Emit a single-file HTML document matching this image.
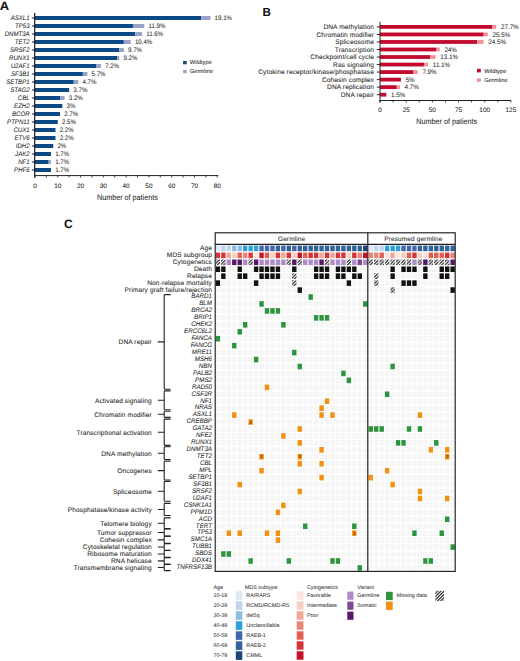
<!DOCTYPE html>
<html><head><meta charset="utf-8"><style>
html,body{margin:0;padding:0;background:#fff;width:520px;height:661px;overflow:hidden}
svg{display:block}
text{text-rendering:geometricPrecision;font-family:"Liberation Sans", sans-serif;fill:#262626;stroke:#262626;stroke-width:0.06px}
</style></head><body>
<svg width="520" height="661" viewBox="0 0 520 661">
<defs>
<pattern id="hatch" patternUnits="userSpaceOnUse" width="2.3" height="2.3" patternTransform="rotate(45)">
<rect width="2.3" height="2.3" fill="#fff"/><rect width="1.25" height="2.3" fill="#333"/></pattern>
</defs>
<text transform="translate(-0.20,9.80) scale(1.1,1)" font-size="11.8" text-anchor="start" font-weight="bold" style="fill:#111;stroke:#111">A</text>
<rect x="35.00" y="16.00" width="166.29" height="4.00" fill="#0c4a86"/>
<rect x="201.29" y="16.00" width="9.11" height="4.00" fill="#9aa2c8"/>
<text transform="translate(29.60,20.10) scale(0.92,1)" font-size="6.6" text-anchor="end" font-style="italic">ASXL1</text>
<text transform="translate(214.61,20.20) scale(0.93,1)" font-size="6.6" text-anchor="start">19.1%</text>
<line x1="31.90" y1="18.00" x2="34.70" y2="18.00" stroke="#111" stroke-width="1.0"/>
<rect x="35.00" y="24.00" width="97.95" height="4.00" fill="#0c4a86"/>
<rect x="132.95" y="24.00" width="11.39" height="4.00" fill="#9aa2c8"/>
<text transform="translate(29.60,28.10) scale(0.92,1)" font-size="6.6" text-anchor="end" font-style="italic">TP53</text>
<text transform="translate(148.54,28.20) scale(0.93,1)" font-size="6.6" text-anchor="start">11.9%</text>
<line x1="31.90" y1="26.00" x2="34.70" y2="26.00" stroke="#111" stroke-width="1.0"/>
<rect x="35.00" y="32.00" width="100.23" height="4.00" fill="#0c4a86"/>
<rect x="135.23" y="32.00" width="6.83" height="4.00" fill="#9aa2c8"/>
<text transform="translate(29.60,36.10) scale(0.92,1)" font-size="6.6" text-anchor="end" font-style="italic">DNMT3A</text>
<text transform="translate(146.27,36.20) scale(0.93,1)" font-size="6.6" text-anchor="start">11.6%</text>
<line x1="31.90" y1="34.00" x2="34.70" y2="34.00" stroke="#111" stroke-width="1.0"/>
<rect x="35.00" y="40.00" width="88.84" height="4.00" fill="#0c4a86"/>
<rect x="123.84" y="40.00" width="6.83" height="4.00" fill="#9aa2c8"/>
<text transform="translate(29.60,44.10) scale(0.92,1)" font-size="6.6" text-anchor="end" font-style="italic">TET2</text>
<text transform="translate(134.88,44.20) scale(0.93,1)" font-size="6.6" text-anchor="start">10.4%</text>
<line x1="31.90" y1="42.00" x2="34.70" y2="42.00" stroke="#111" stroke-width="1.0"/>
<rect x="35.00" y="48.00" width="84.29" height="4.00" fill="#0c4a86"/>
<rect x="119.29" y="48.00" width="4.56" height="4.00" fill="#9aa2c8"/>
<text transform="translate(29.60,52.10) scale(0.92,1)" font-size="6.6" text-anchor="end" font-style="italic">SRSF2</text>
<text transform="translate(128.04,52.20) scale(0.93,1)" font-size="6.6" text-anchor="start">9.7%</text>
<line x1="31.90" y1="50.00" x2="34.70" y2="50.00" stroke="#111" stroke-width="1.0"/>
<rect x="35.00" y="56.00" width="82.01" height="4.00" fill="#0c4a86"/>
<rect x="117.01" y="56.00" width="2.28" height="4.00" fill="#9aa2c8"/>
<text transform="translate(29.60,60.10) scale(0.92,1)" font-size="6.6" text-anchor="end" font-style="italic">RUNX1</text>
<text transform="translate(123.49,60.20) scale(0.93,1)" font-size="6.6" text-anchor="start">9.2%</text>
<line x1="31.90" y1="58.00" x2="34.70" y2="58.00" stroke="#111" stroke-width="1.0"/>
<rect x="35.00" y="64.00" width="61.51" height="4.00" fill="#0c4a86"/>
<rect x="96.51" y="64.00" width="4.56" height="4.00" fill="#9aa2c8"/>
<text transform="translate(29.60,68.10) scale(0.92,1)" font-size="6.6" text-anchor="end" font-style="italic">U2AF1</text>
<text transform="translate(105.26,68.20) scale(0.93,1)" font-size="6.6" text-anchor="start">7.2%</text>
<line x1="31.90" y1="66.00" x2="34.70" y2="66.00" stroke="#111" stroke-width="1.0"/>
<rect x="35.00" y="72.00" width="47.84" height="4.00" fill="#0c4a86"/>
<rect x="82.84" y="72.00" width="4.56" height="4.00" fill="#9aa2c8"/>
<text transform="translate(29.60,76.10) scale(0.92,1)" font-size="6.6" text-anchor="end" font-style="italic">SF3B1</text>
<text transform="translate(91.59,76.20) scale(0.93,1)" font-size="6.6" text-anchor="start">5.7%</text>
<line x1="31.90" y1="74.00" x2="34.70" y2="74.00" stroke="#111" stroke-width="1.0"/>
<rect x="35.00" y="80.00" width="38.73" height="4.00" fill="#0c4a86"/>
<rect x="73.73" y="80.00" width="4.56" height="4.00" fill="#9aa2c8"/>
<text transform="translate(29.60,84.10) scale(0.92,1)" font-size="6.6" text-anchor="end" font-style="italic">SETBP1</text>
<text transform="translate(82.48,84.20) scale(0.93,1)" font-size="6.6" text-anchor="start">4.7%</text>
<line x1="31.90" y1="82.00" x2="34.70" y2="82.00" stroke="#111" stroke-width="1.0"/>
<rect x="35.00" y="88.00" width="34.17" height="4.00" fill="#0c4a86"/>
<text transform="translate(29.60,92.10) scale(0.92,1)" font-size="6.6" text-anchor="end" font-style="italic">STAG2</text>
<text transform="translate(73.37,92.20) scale(0.93,1)" font-size="6.6" text-anchor="start">3.7%</text>
<line x1="31.90" y1="90.00" x2="34.70" y2="90.00" stroke="#111" stroke-width="1.0"/>
<rect x="35.00" y="96.00" width="25.06" height="4.00" fill="#0c4a86"/>
<rect x="60.06" y="96.00" width="4.56" height="4.00" fill="#9aa2c8"/>
<text transform="translate(29.60,100.10) scale(0.92,1)" font-size="6.6" text-anchor="end" font-style="italic">CBL</text>
<text transform="translate(68.81,100.20) scale(0.93,1)" font-size="6.6" text-anchor="start">3.2%</text>
<line x1="31.90" y1="98.00" x2="34.70" y2="98.00" stroke="#111" stroke-width="1.0"/>
<rect x="35.00" y="104.00" width="27.34" height="4.00" fill="#0c4a86"/>
<text transform="translate(29.60,108.10) scale(0.92,1)" font-size="6.6" text-anchor="end" font-style="italic">EZH2</text>
<text transform="translate(66.54,108.20) scale(0.93,1)" font-size="6.6" text-anchor="start">3%</text>
<line x1="31.90" y1="106.00" x2="34.70" y2="106.00" stroke="#111" stroke-width="1.0"/>
<rect x="35.00" y="112.00" width="25.06" height="4.00" fill="#0c4a86"/>
<text transform="translate(29.60,116.10) scale(0.92,1)" font-size="6.6" text-anchor="end" font-style="italic">BCOR</text>
<text transform="translate(64.26,116.20) scale(0.93,1)" font-size="6.6" text-anchor="start">2.7%</text>
<line x1="31.90" y1="114.00" x2="34.70" y2="114.00" stroke="#111" stroke-width="1.0"/>
<rect x="35.00" y="120.00" width="22.78" height="4.00" fill="#0c4a86"/>
<text transform="translate(29.60,124.10) scale(0.92,1)" font-size="6.6" text-anchor="end" font-style="italic">PTPN11</text>
<text transform="translate(61.98,124.20) scale(0.93,1)" font-size="6.6" text-anchor="start">2.5%</text>
<line x1="31.90" y1="122.00" x2="34.70" y2="122.00" stroke="#111" stroke-width="1.0"/>
<rect x="35.00" y="128.00" width="20.50" height="4.00" fill="#0c4a86"/>
<text transform="translate(29.60,132.10) scale(0.92,1)" font-size="6.6" text-anchor="end" font-style="italic">CUX1</text>
<text transform="translate(59.70,132.20) scale(0.93,1)" font-size="6.6" text-anchor="start">2.2%</text>
<line x1="31.90" y1="130.00" x2="34.70" y2="130.00" stroke="#111" stroke-width="1.0"/>
<rect x="35.00" y="136.00" width="20.50" height="4.00" fill="#0c4a86"/>
<text transform="translate(29.60,140.10) scale(0.92,1)" font-size="6.6" text-anchor="end" font-style="italic">ETV6</text>
<text transform="translate(59.70,140.20) scale(0.93,1)" font-size="6.6" text-anchor="start">2.2%</text>
<line x1="31.90" y1="138.00" x2="34.70" y2="138.00" stroke="#111" stroke-width="1.0"/>
<rect x="35.00" y="144.00" width="18.22" height="4.00" fill="#0c4a86"/>
<text transform="translate(29.60,148.10) scale(0.92,1)" font-size="6.6" text-anchor="end" font-style="italic">IDH2</text>
<text transform="translate(57.42,148.20) scale(0.93,1)" font-size="6.6" text-anchor="start">2%</text>
<line x1="31.90" y1="146.00" x2="34.70" y2="146.00" stroke="#111" stroke-width="1.0"/>
<rect x="35.00" y="152.00" width="15.95" height="4.00" fill="#0c4a86"/>
<text transform="translate(29.60,156.10) scale(0.92,1)" font-size="6.6" text-anchor="end" font-style="italic">JAK2</text>
<text transform="translate(55.15,156.20) scale(0.93,1)" font-size="6.6" text-anchor="start">1.7%</text>
<line x1="31.90" y1="154.00" x2="34.70" y2="154.00" stroke="#111" stroke-width="1.0"/>
<rect x="35.00" y="160.00" width="13.67" height="4.00" fill="#0c4a86"/>
<rect x="48.67" y="160.00" width="2.28" height="4.00" fill="#9aa2c8"/>
<text transform="translate(29.60,164.10) scale(0.92,1)" font-size="6.6" text-anchor="end" font-style="italic">NF1</text>
<text transform="translate(55.15,164.20) scale(0.93,1)" font-size="6.6" text-anchor="start">1.7%</text>
<line x1="31.90" y1="162.00" x2="34.70" y2="162.00" stroke="#111" stroke-width="1.0"/>
<rect x="35.00" y="168.00" width="15.95" height="4.00" fill="#0c4a86"/>
<text transform="translate(29.60,172.10) scale(0.92,1)" font-size="6.6" text-anchor="end" font-style="italic">PHF6</text>
<text transform="translate(55.15,172.20) scale(0.93,1)" font-size="6.6" text-anchor="start">1.7%</text>
<line x1="31.90" y1="170.00" x2="34.70" y2="170.00" stroke="#111" stroke-width="1.0"/>
<line x1="34.70" y1="12.90" x2="34.70" y2="177.80" stroke="#1a1a1a" stroke-width="1.2"/>
<line x1="34.50" y1="175.60" x2="218.30" y2="175.60" stroke="#222" stroke-width="1"/>
<line x1="35.00" y1="175.60" x2="35.00" y2="177.60" stroke="#222" stroke-width="0.8"/>
<text x="35.00" y="187.60" font-size="6.4" text-anchor="middle">0</text>
<line x1="46.39" y1="175.60" x2="46.39" y2="177.60" stroke="#222" stroke-width="0.8"/>
<line x1="57.78" y1="175.60" x2="57.78" y2="177.60" stroke="#222" stroke-width="0.8"/>
<text x="57.78" y="187.60" font-size="6.4" text-anchor="middle">10</text>
<line x1="69.17" y1="175.60" x2="69.17" y2="177.60" stroke="#222" stroke-width="0.8"/>
<line x1="80.56" y1="175.60" x2="80.56" y2="177.60" stroke="#222" stroke-width="0.8"/>
<text x="80.56" y="187.60" font-size="6.4" text-anchor="middle">20</text>
<line x1="91.95" y1="175.60" x2="91.95" y2="177.60" stroke="#222" stroke-width="0.8"/>
<line x1="103.34" y1="175.60" x2="103.34" y2="177.60" stroke="#222" stroke-width="0.8"/>
<text x="103.34" y="187.60" font-size="6.4" text-anchor="middle">30</text>
<line x1="114.73" y1="175.60" x2="114.73" y2="177.60" stroke="#222" stroke-width="0.8"/>
<line x1="126.12" y1="175.60" x2="126.12" y2="177.60" stroke="#222" stroke-width="0.8"/>
<text x="126.12" y="187.60" font-size="6.4" text-anchor="middle">40</text>
<line x1="137.51" y1="175.60" x2="137.51" y2="177.60" stroke="#222" stroke-width="0.8"/>
<line x1="148.90" y1="175.60" x2="148.90" y2="177.60" stroke="#222" stroke-width="0.8"/>
<text x="148.90" y="187.60" font-size="6.4" text-anchor="middle">50</text>
<line x1="160.29" y1="175.60" x2="160.29" y2="177.60" stroke="#222" stroke-width="0.8"/>
<line x1="171.68" y1="175.60" x2="171.68" y2="177.60" stroke="#222" stroke-width="0.8"/>
<text x="171.68" y="187.60" font-size="6.4" text-anchor="middle">60</text>
<line x1="183.07" y1="175.60" x2="183.07" y2="177.60" stroke="#222" stroke-width="0.8"/>
<line x1="194.46" y1="175.60" x2="194.46" y2="177.60" stroke="#222" stroke-width="0.8"/>
<text x="194.46" y="187.60" font-size="6.4" text-anchor="middle">70</text>
<line x1="205.85" y1="175.60" x2="205.85" y2="177.60" stroke="#222" stroke-width="0.8"/>
<line x1="217.24" y1="175.60" x2="217.24" y2="177.60" stroke="#222" stroke-width="0.8"/>
<text x="217.24" y="187.60" font-size="6.4" text-anchor="middle">80</text>
<text transform="translate(127.4,200.0) scale(0.9,1)" font-size="8" text-anchor="middle">Number of patients</text>
<rect x="183.10" y="61.00" width="3.60" height="3.30" fill="#0c4a86"/>
<rect x="183.10" y="69.90" width="3.60" height="3.30" fill="#9aa2c8"/>
<text x="189.70" y="64.40" font-size="5.8" text-anchor="start">Wildtype</text>
<text x="189.70" y="73.30" font-size="5.8" text-anchor="start">Germline</text>
<text x="262.40" y="15.70" font-size="11.6" text-anchor="start" font-weight="bold" style="fill:#111;stroke:#111">B</text>
<rect x="380.00" y="25.00" width="112.03" height="3.80" fill="#c20a2c"/>
<rect x="492.03" y="25.00" width="4.19" height="3.80" fill="#f0929c"/>
<text x="374.00" y="29.20" font-size="6.6" text-anchor="end" letter-spacing="0.1">DNA methylation</text>
<text transform="translate(500.92,29.10) scale(0.95,1)" font-size="6.6" text-anchor="start">27.7%</text>
<line x1="376.80" y1="26.90" x2="380.00" y2="26.90" stroke="#111" stroke-width="0.9"/>
<rect x="380.00" y="32.53" width="103.65" height="3.80" fill="#c20a2c"/>
<rect x="483.65" y="32.53" width="4.19" height="3.80" fill="#f0929c"/>
<text x="374.00" y="36.73" font-size="6.6" text-anchor="end" letter-spacing="0.1">Chromatin modifier</text>
<text transform="translate(492.54,36.63) scale(0.95,1)" font-size="6.6" text-anchor="start">25.5%</text>
<line x1="376.80" y1="34.43" x2="380.00" y2="34.43" stroke="#111" stroke-width="0.9"/>
<rect x="380.00" y="40.06" width="97.37" height="3.80" fill="#c20a2c"/>
<rect x="477.37" y="40.06" width="6.28" height="3.80" fill="#f0929c"/>
<text x="374.00" y="44.26" font-size="6.6" text-anchor="end" letter-spacing="0.1">Spliceosome</text>
<text transform="translate(488.35,44.16) scale(0.95,1)" font-size="6.6" text-anchor="start">24.5%</text>
<line x1="376.80" y1="41.96" x2="380.00" y2="41.96" stroke="#111" stroke-width="0.9"/>
<rect x="380.00" y="47.59" width="56.54" height="3.80" fill="#c20a2c"/>
<rect x="436.54" y="47.59" width="3.14" height="3.80" fill="#f0929c"/>
<text x="374.00" y="51.79" font-size="6.6" text-anchor="end" letter-spacing="0.1">Transcription</text>
<text transform="translate(444.38,51.69) scale(0.95,1)" font-size="6.6" text-anchor="start">24%</text>
<line x1="376.80" y1="49.49" x2="380.00" y2="49.49" stroke="#111" stroke-width="0.9"/>
<rect x="380.00" y="55.12" width="50.26" height="3.80" fill="#c20a2c"/>
<rect x="430.26" y="55.12" width="5.23" height="3.80" fill="#f0929c"/>
<text x="374.00" y="59.32" font-size="6.6" text-anchor="end" letter-spacing="0.1">Checkpoint/cell cycle</text>
<text transform="translate(440.19,59.22) scale(0.95,1)" font-size="6.6" text-anchor="start">13.1%</text>
<line x1="376.80" y1="57.02" x2="380.00" y2="57.02" stroke="#111" stroke-width="0.9"/>
<rect x="380.00" y="62.65" width="43.97" height="3.80" fill="#c20a2c"/>
<rect x="423.97" y="62.65" width="4.19" height="3.80" fill="#f0929c"/>
<text x="374.00" y="66.85" font-size="6.6" text-anchor="end" letter-spacing="0.1">Ras signaling</text>
<text transform="translate(432.86,66.75) scale(0.95,1)" font-size="6.6" text-anchor="start">11.1%</text>
<line x1="376.80" y1="64.55" x2="380.00" y2="64.55" stroke="#111" stroke-width="0.9"/>
<rect x="380.00" y="70.18" width="33.50" height="3.80" fill="#c20a2c"/>
<rect x="413.50" y="70.18" width="4.19" height="3.80" fill="#f0929c"/>
<text x="374.00" y="74.38" font-size="6.6" text-anchor="end" letter-spacing="0.1">Cytokine receptor/kinase/phosphatase</text>
<text transform="translate(422.39,74.28) scale(0.95,1)" font-size="6.6" text-anchor="start">7.9%</text>
<line x1="376.80" y1="72.08" x2="380.00" y2="72.08" stroke="#111" stroke-width="0.9"/>
<rect x="380.00" y="77.71" width="20.94" height="3.80" fill="#c20a2c"/>
<text x="374.00" y="81.91" font-size="6.6" text-anchor="end" letter-spacing="0.1">Cohesin complex</text>
<text transform="translate(405.64,81.81) scale(0.95,1)" font-size="6.6" text-anchor="start">5%</text>
<line x1="376.80" y1="79.61" x2="380.00" y2="79.61" stroke="#111" stroke-width="0.9"/>
<rect x="380.00" y="85.24" width="16.75" height="3.80" fill="#c20a2c"/>
<rect x="396.75" y="85.24" width="3.14" height="3.80" fill="#f0929c"/>
<text x="374.00" y="89.44" font-size="6.6" text-anchor="end" letter-spacing="0.1">DNA replication</text>
<text transform="translate(404.59,89.34) scale(0.95,1)" font-size="6.6" text-anchor="start">4.7%</text>
<line x1="376.80" y1="87.14" x2="380.00" y2="87.14" stroke="#111" stroke-width="0.9"/>
<rect x="380.00" y="92.77" width="6.28" height="3.80" fill="#c20a2c"/>
<text x="374.00" y="96.97" font-size="6.6" text-anchor="end" letter-spacing="0.1">DNA repair</text>
<text transform="translate(390.98,96.87) scale(0.95,1)" font-size="6.6" text-anchor="start">1.5%</text>
<line x1="376.80" y1="94.67" x2="380.00" y2="94.67" stroke="#111" stroke-width="0.9"/>
<line x1="380.00" y1="21.90" x2="380.00" y2="102.60" stroke="#222" stroke-width="1"/>
<line x1="379.50" y1="100.50" x2="511.00" y2="100.50" stroke="#222" stroke-width="1"/>
<line x1="380.00" y1="100.50" x2="380.00" y2="102.50" stroke="#222" stroke-width="0.8"/>
<text x="380.00" y="111.60" font-size="6.4" text-anchor="middle">0</text>
<line x1="393.09" y1="100.50" x2="393.09" y2="102.50" stroke="#222" stroke-width="0.8"/>
<line x1="406.18" y1="100.50" x2="406.18" y2="102.50" stroke="#222" stroke-width="0.8"/>
<text x="406.18" y="111.60" font-size="6.4" text-anchor="middle">25</text>
<line x1="419.26" y1="100.50" x2="419.26" y2="102.50" stroke="#222" stroke-width="0.8"/>
<line x1="432.35" y1="100.50" x2="432.35" y2="102.50" stroke="#222" stroke-width="0.8"/>
<text x="432.35" y="111.60" font-size="6.4" text-anchor="middle">50</text>
<line x1="445.44" y1="100.50" x2="445.44" y2="102.50" stroke="#222" stroke-width="0.8"/>
<line x1="458.52" y1="100.50" x2="458.52" y2="102.50" stroke="#222" stroke-width="0.8"/>
<text x="458.52" y="111.60" font-size="6.4" text-anchor="middle">75</text>
<line x1="471.61" y1="100.50" x2="471.61" y2="102.50" stroke="#222" stroke-width="0.8"/>
<line x1="484.70" y1="100.50" x2="484.70" y2="102.50" stroke="#222" stroke-width="0.8"/>
<text x="484.70" y="111.60" font-size="6.4" text-anchor="middle">100</text>
<line x1="497.79" y1="100.50" x2="497.79" y2="102.50" stroke="#222" stroke-width="0.8"/>
<line x1="510.88" y1="100.50" x2="510.88" y2="102.50" stroke="#222" stroke-width="0.8"/>
<text x="510.88" y="111.60" font-size="6.4" text-anchor="middle">125</text>
<text transform="translate(446.7,124.0) scale(0.9,1)" font-size="8" text-anchor="middle">Number of patients</text>
<rect x="477.00" y="68.80" width="3.80" height="3.60" fill="#c20a2c"/>
<rect x="477.00" y="78.30" width="3.80" height="3.60" fill="#f0929c"/>
<text x="484.20" y="72.60" font-size="5.8" text-anchor="start">Wildtype</text>
<text x="484.20" y="81.70" font-size="5.8" text-anchor="start">Germline</text>
<text x="64.10" y="227.50" font-size="12" text-anchor="start" font-weight="bold" style="fill:#111;stroke:#111">C</text>
<text x="291.60" y="241.40" font-size="6.5" text-anchor="middle" letter-spacing="0.1">Germline</text>
<text x="413.40" y="241.40" font-size="6.5" text-anchor="middle" letter-spacing="0.1">Presumed germline</text>
<rect x="215.70" y="245.60" width="4.40" height="5.60" fill="#dde8f5"/>
<rect x="215.70" y="252.55" width="4.40" height="5.60" fill="#d6343a"/>
<rect x="215.70" y="259.49" width="4.40" height="5.60" fill="url(#hatch)"/>
<rect x="215.70" y="266.44" width="4.40" height="5.60" fill="#121212"/>
<rect x="215.70" y="273.38" width="4.40" height="5.60" fill="#f6f6f6"/>
<rect x="215.70" y="280.33" width="4.40" height="5.60" fill="#121212"/>
<rect x="215.70" y="287.28" width="4.40" height="5.60" fill="#f6f6f6"/>
<rect x="221.16" y="245.60" width="4.40" height="5.60" fill="#bdd5ee"/>
<rect x="221.16" y="252.55" width="4.40" height="5.60" fill="#d6343a"/>
<rect x="221.16" y="259.49" width="4.40" height="5.60" fill="url(#hatch)"/>
<rect x="221.16" y="266.44" width="4.40" height="5.60" fill="#121212"/>
<rect x="221.16" y="273.38" width="4.40" height="5.60" fill="#121212"/>
<rect x="221.16" y="280.33" width="4.40" height="5.60" fill="#f6f6f6"/>
<rect x="221.16" y="287.28" width="4.40" height="5.60" fill="#f6f6f6"/>
<rect x="226.61" y="245.60" width="4.40" height="5.60" fill="#bdd5ee"/>
<rect x="226.61" y="252.55" width="4.40" height="5.60" fill="#f2a696"/>
<rect x="226.61" y="259.49" width="4.40" height="5.60" fill="#ad8cc8"/>
<rect x="226.61" y="266.44" width="4.40" height="5.60" fill="#f6f6f6"/>
<rect x="226.61" y="273.38" width="4.40" height="5.60" fill="#f6f6f6"/>
<rect x="226.61" y="280.33" width="4.40" height="5.60" fill="#f6f6f6"/>
<rect x="226.61" y="287.28" width="4.40" height="5.60" fill="#f6f6f6"/>
<rect x="232.07" y="245.60" width="4.40" height="5.60" fill="#8ebde4"/>
<rect x="232.07" y="252.55" width="4.40" height="5.60" fill="#f9cfc0"/>
<rect x="232.07" y="259.49" width="4.40" height="5.60" fill="#571668"/>
<rect x="232.07" y="266.44" width="4.40" height="5.60" fill="#f6f6f6"/>
<rect x="232.07" y="273.38" width="4.40" height="5.60" fill="#f6f6f6"/>
<rect x="232.07" y="280.33" width="4.40" height="5.60" fill="#f6f6f6"/>
<rect x="232.07" y="287.28" width="4.40" height="5.60" fill="#f6f6f6"/>
<rect x="237.53" y="245.60" width="4.40" height="5.60" fill="#8ebde4"/>
<rect x="237.53" y="252.55" width="4.40" height="5.60" fill="#e0614f"/>
<rect x="237.53" y="259.49" width="4.40" height="5.60" fill="#571668"/>
<rect x="237.53" y="266.44" width="4.40" height="5.60" fill="#121212"/>
<rect x="237.53" y="273.38" width="4.40" height="5.60" fill="#121212"/>
<rect x="237.53" y="280.33" width="4.40" height="5.60" fill="#f6f6f6"/>
<rect x="237.53" y="287.28" width="4.40" height="5.60" fill="#f6f6f6"/>
<rect x="242.98" y="245.60" width="4.40" height="5.60" fill="#2d9fd9"/>
<rect x="242.98" y="252.55" width="4.40" height="5.60" fill="#e8867a"/>
<rect x="242.98" y="259.49" width="4.40" height="5.60" fill="#ad8cc8"/>
<rect x="242.98" y="266.44" width="4.40" height="5.60" fill="#f6f6f6"/>
<rect x="242.98" y="273.38" width="4.40" height="5.60" fill="#121212"/>
<rect x="242.98" y="280.33" width="4.40" height="5.60" fill="#f6f6f6"/>
<rect x="242.98" y="287.28" width="4.40" height="5.60" fill="#f6f6f6"/>
<rect x="248.44" y="245.60" width="4.40" height="5.60" fill="#2d9fd9"/>
<rect x="248.44" y="252.55" width="4.40" height="5.60" fill="#d6343a"/>
<rect x="248.44" y="259.49" width="4.40" height="5.60" fill="url(#hatch)"/>
<rect x="248.44" y="266.44" width="4.40" height="5.60" fill="#f6f6f6"/>
<rect x="248.44" y="273.38" width="4.40" height="5.60" fill="#f6f6f6"/>
<rect x="248.44" y="280.33" width="4.40" height="5.60" fill="#f6f6f6"/>
<rect x="248.44" y="287.28" width="4.40" height="5.60" fill="#f6f6f6"/>
<rect x="253.90" y="245.60" width="4.40" height="5.60" fill="#2d9fd9"/>
<rect x="253.90" y="252.55" width="4.40" height="5.60" fill="#fde3dc"/>
<rect x="253.90" y="259.49" width="4.40" height="5.60" fill="#571668"/>
<rect x="253.90" y="266.44" width="4.40" height="5.60" fill="#121212"/>
<rect x="253.90" y="273.38" width="4.40" height="5.60" fill="#f6f6f6"/>
<rect x="253.90" y="280.33" width="4.40" height="5.60" fill="#121212"/>
<rect x="253.90" y="287.28" width="4.40" height="5.60" fill="#f6f6f6"/>
<rect x="259.36" y="245.60" width="4.40" height="5.60" fill="#4466ad"/>
<rect x="259.36" y="252.55" width="4.40" height="5.60" fill="#c81327"/>
<rect x="259.36" y="259.49" width="4.40" height="5.60" fill="#ad8cc8"/>
<rect x="259.36" y="266.44" width="4.40" height="5.60" fill="#121212"/>
<rect x="259.36" y="273.38" width="4.40" height="5.60" fill="#121212"/>
<rect x="259.36" y="280.33" width="4.40" height="5.60" fill="#f6f6f6"/>
<rect x="259.36" y="287.28" width="4.40" height="5.60" fill="#f6f6f6"/>
<rect x="264.81" y="245.60" width="4.40" height="5.60" fill="#4466ad"/>
<rect x="264.81" y="252.55" width="4.40" height="5.60" fill="#e0614f"/>
<rect x="264.81" y="259.49" width="4.40" height="5.60" fill="#ad8cc8"/>
<rect x="264.81" y="266.44" width="4.40" height="5.60" fill="#121212"/>
<rect x="264.81" y="273.38" width="4.40" height="5.60" fill="#121212"/>
<rect x="264.81" y="280.33" width="4.40" height="5.60" fill="#f6f6f6"/>
<rect x="264.81" y="287.28" width="4.40" height="5.60" fill="#f6f6f6"/>
<rect x="270.27" y="245.60" width="4.40" height="5.60" fill="#4466ad"/>
<rect x="270.27" y="252.55" width="4.40" height="5.60" fill="#f9cfc0"/>
<rect x="270.27" y="259.49" width="4.40" height="5.60" fill="#ad8cc8"/>
<rect x="270.27" y="266.44" width="4.40" height="5.60" fill="#121212"/>
<rect x="270.27" y="273.38" width="4.40" height="5.60" fill="#121212"/>
<rect x="270.27" y="280.33" width="4.40" height="5.60" fill="#f6f6f6"/>
<rect x="270.27" y="287.28" width="4.40" height="5.60" fill="#f6f6f6"/>
<rect x="275.73" y="245.60" width="4.40" height="5.60" fill="#2f6399"/>
<rect x="275.73" y="252.55" width="4.40" height="5.60" fill="#d6343a"/>
<rect x="275.73" y="259.49" width="4.40" height="5.60" fill="#ad8cc8"/>
<rect x="275.73" y="266.44" width="4.40" height="5.60" fill="#121212"/>
<rect x="275.73" y="273.38" width="4.40" height="5.60" fill="#121212"/>
<rect x="275.73" y="280.33" width="4.40" height="5.60" fill="#f6f6f6"/>
<rect x="275.73" y="287.28" width="4.40" height="5.60" fill="#f6f6f6"/>
<rect x="281.18" y="245.60" width="4.40" height="5.60" fill="#4466ad"/>
<rect x="281.18" y="252.55" width="4.40" height="5.60" fill="#f2a696"/>
<rect x="281.18" y="259.49" width="4.40" height="5.60" fill="#ad8cc8"/>
<rect x="281.18" y="266.44" width="4.40" height="5.60" fill="#f6f6f6"/>
<rect x="281.18" y="273.38" width="4.40" height="5.60" fill="#f6f6f6"/>
<rect x="281.18" y="280.33" width="4.40" height="5.60" fill="#f6f6f6"/>
<rect x="281.18" y="287.28" width="4.40" height="5.60" fill="#f6f6f6"/>
<rect x="286.64" y="245.60" width="4.40" height="5.60" fill="#2f6399"/>
<rect x="286.64" y="252.55" width="4.40" height="5.60" fill="#d6343a"/>
<rect x="286.64" y="259.49" width="4.40" height="5.60" fill="url(#hatch)"/>
<rect x="286.64" y="266.44" width="4.40" height="5.60" fill="#f6f6f6"/>
<rect x="286.64" y="273.38" width="4.40" height="5.60" fill="#f6f6f6"/>
<rect x="286.64" y="280.33" width="4.40" height="5.60" fill="#f6f6f6"/>
<rect x="286.64" y="287.28" width="4.40" height="5.60" fill="#f6f6f6"/>
<rect x="292.10" y="245.60" width="4.40" height="5.60" fill="#4466ad"/>
<rect x="292.10" y="252.55" width="4.40" height="5.60" fill="#f9cfc0"/>
<rect x="292.10" y="259.49" width="4.40" height="5.60" fill="#571668"/>
<rect x="292.10" y="266.44" width="4.40" height="5.60" fill="#121212"/>
<rect x="292.10" y="273.38" width="4.40" height="5.60" fill="url(#hatch)"/>
<rect x="292.10" y="280.33" width="4.40" height="5.60" fill="url(#hatch)"/>
<rect x="292.10" y="287.28" width="4.40" height="5.60" fill="#f6f6f6"/>
<rect x="297.56" y="245.60" width="4.40" height="5.60" fill="#2f6399"/>
<rect x="297.56" y="252.55" width="4.40" height="5.60" fill="#c81327"/>
<rect x="297.56" y="259.49" width="4.40" height="5.60" fill="url(#hatch)"/>
<rect x="297.56" y="266.44" width="4.40" height="5.60" fill="#f6f6f6"/>
<rect x="297.56" y="273.38" width="4.40" height="5.60" fill="#f6f6f6"/>
<rect x="297.56" y="280.33" width="4.40" height="5.60" fill="#f6f6f6"/>
<rect x="297.56" y="287.28" width="4.40" height="5.60" fill="#121212"/>
<rect x="303.01" y="245.60" width="4.40" height="5.60" fill="#2f6399"/>
<rect x="303.01" y="252.55" width="4.40" height="5.60" fill="#e0614f"/>
<rect x="303.01" y="259.49" width="4.40" height="5.60" fill="#ad8cc8"/>
<rect x="303.01" y="266.44" width="4.40" height="5.60" fill="#f6f6f6"/>
<rect x="303.01" y="273.38" width="4.40" height="5.60" fill="#f6f6f6"/>
<rect x="303.01" y="280.33" width="4.40" height="5.60" fill="#f6f6f6"/>
<rect x="303.01" y="287.28" width="4.40" height="5.60" fill="#f6f6f6"/>
<rect x="308.47" y="245.60" width="4.40" height="5.60" fill="#2f6399"/>
<rect x="308.47" y="252.55" width="4.40" height="5.60" fill="#d6343a"/>
<rect x="308.47" y="259.49" width="4.40" height="5.60" fill="#ad8cc8"/>
<rect x="308.47" y="266.44" width="4.40" height="5.60" fill="#f6f6f6"/>
<rect x="308.47" y="273.38" width="4.40" height="5.60" fill="#f6f6f6"/>
<rect x="308.47" y="280.33" width="4.40" height="5.60" fill="#f6f6f6"/>
<rect x="308.47" y="287.28" width="4.40" height="5.60" fill="#f6f6f6"/>
<rect x="313.93" y="245.60" width="4.40" height="5.60" fill="#2f6399"/>
<rect x="313.93" y="252.55" width="4.40" height="5.60" fill="#d6343a"/>
<rect x="313.93" y="259.49" width="4.40" height="5.60" fill="#ad8cc8"/>
<rect x="313.93" y="266.44" width="4.40" height="5.60" fill="#121212"/>
<rect x="313.93" y="273.38" width="4.40" height="5.60" fill="#121212"/>
<rect x="313.93" y="280.33" width="4.40" height="5.60" fill="#f6f6f6"/>
<rect x="313.93" y="287.28" width="4.40" height="5.60" fill="#f6f6f6"/>
<rect x="319.38" y="245.60" width="4.40" height="5.60" fill="#2f6399"/>
<rect x="319.38" y="252.55" width="4.40" height="5.60" fill="#f2a696"/>
<rect x="319.38" y="259.49" width="4.40" height="5.60" fill="#571668"/>
<rect x="319.38" y="266.44" width="4.40" height="5.60" fill="#121212"/>
<rect x="319.38" y="273.38" width="4.40" height="5.60" fill="#121212"/>
<rect x="319.38" y="280.33" width="4.40" height="5.60" fill="#f6f6f6"/>
<rect x="319.38" y="287.28" width="4.40" height="5.60" fill="#f6f6f6"/>
<rect x="324.84" y="245.60" width="4.40" height="5.60" fill="#2f6399"/>
<rect x="324.84" y="252.55" width="4.40" height="5.60" fill="#d6343a"/>
<rect x="324.84" y="259.49" width="4.40" height="5.60" fill="url(#hatch)"/>
<rect x="324.84" y="266.44" width="4.40" height="5.60" fill="#121212"/>
<rect x="324.84" y="273.38" width="4.40" height="5.60" fill="#121212"/>
<rect x="324.84" y="280.33" width="4.40" height="5.60" fill="#f6f6f6"/>
<rect x="324.84" y="287.28" width="4.40" height="5.60" fill="#f6f6f6"/>
<rect x="330.30" y="245.60" width="4.40" height="5.60" fill="#2f6399"/>
<rect x="330.30" y="252.55" width="4.40" height="5.60" fill="#f2a696"/>
<rect x="330.30" y="259.49" width="4.40" height="5.60" fill="#ad8cc8"/>
<rect x="330.30" y="266.44" width="4.40" height="5.60" fill="#f6f6f6"/>
<rect x="330.30" y="273.38" width="4.40" height="5.60" fill="#f6f6f6"/>
<rect x="330.30" y="280.33" width="4.40" height="5.60" fill="#f6f6f6"/>
<rect x="330.30" y="287.28" width="4.40" height="5.60" fill="#f6f6f6"/>
<rect x="335.75" y="245.60" width="4.40" height="5.60" fill="#2f6399"/>
<rect x="335.75" y="252.55" width="4.40" height="5.60" fill="#d6343a"/>
<rect x="335.75" y="259.49" width="4.40" height="5.60" fill="#ad8cc8"/>
<rect x="335.75" y="266.44" width="4.40" height="5.60" fill="#121212"/>
<rect x="335.75" y="273.38" width="4.40" height="5.60" fill="#121212"/>
<rect x="335.75" y="280.33" width="4.40" height="5.60" fill="#f6f6f6"/>
<rect x="335.75" y="287.28" width="4.40" height="5.60" fill="#f6f6f6"/>
<rect x="341.21" y="245.60" width="4.40" height="5.60" fill="#2f6399"/>
<rect x="341.21" y="252.55" width="4.40" height="5.60" fill="#d6343a"/>
<rect x="341.21" y="259.49" width="4.40" height="5.60" fill="#ad8cc8"/>
<rect x="341.21" y="266.44" width="4.40" height="5.60" fill="#121212"/>
<rect x="341.21" y="273.38" width="4.40" height="5.60" fill="#121212"/>
<rect x="341.21" y="280.33" width="4.40" height="5.60" fill="#f6f6f6"/>
<rect x="341.21" y="287.28" width="4.40" height="5.60" fill="#f6f6f6"/>
<rect x="346.67" y="245.60" width="4.40" height="5.60" fill="#2f6399"/>
<rect x="346.67" y="252.55" width="4.40" height="5.60" fill="#f9cfc0"/>
<rect x="346.67" y="259.49" width="4.40" height="5.60" fill="url(#hatch)"/>
<rect x="346.67" y="266.44" width="4.40" height="5.60" fill="#121212"/>
<rect x="346.67" y="273.38" width="4.40" height="5.60" fill="#f6f6f6"/>
<rect x="346.67" y="280.33" width="4.40" height="5.60" fill="#121212"/>
<rect x="346.67" y="287.28" width="4.40" height="5.60" fill="#f6f6f6"/>
<rect x="352.12" y="245.60" width="4.40" height="5.60" fill="#2f6399"/>
<rect x="352.12" y="252.55" width="4.40" height="5.60" fill="#d6343a"/>
<rect x="352.12" y="259.49" width="4.40" height="5.60" fill="#ad8cc8"/>
<rect x="352.12" y="266.44" width="4.40" height="5.60" fill="#121212"/>
<rect x="352.12" y="273.38" width="4.40" height="5.60" fill="#121212"/>
<rect x="352.12" y="280.33" width="4.40" height="5.60" fill="#f6f6f6"/>
<rect x="352.12" y="287.28" width="4.40" height="5.60" fill="#f6f6f6"/>
<rect x="357.58" y="245.60" width="4.40" height="5.60" fill="#2f6399"/>
<rect x="357.58" y="252.55" width="4.40" height="5.60" fill="#e8867a"/>
<rect x="357.58" y="259.49" width="4.40" height="5.60" fill="#7c4a94"/>
<rect x="357.58" y="266.44" width="4.40" height="5.60" fill="#f6f6f6"/>
<rect x="357.58" y="273.38" width="4.40" height="5.60" fill="#121212"/>
<rect x="357.58" y="280.33" width="4.40" height="5.60" fill="#f6f6f6"/>
<rect x="357.58" y="287.28" width="4.40" height="5.60" fill="#f6f6f6"/>
<rect x="363.04" y="245.60" width="4.40" height="5.60" fill="#1d4577"/>
<rect x="363.04" y="252.55" width="4.40" height="5.60" fill="#c81327"/>
<rect x="363.04" y="259.49" width="4.40" height="5.60" fill="#ad8cc8"/>
<rect x="363.04" y="266.44" width="4.40" height="5.60" fill="#f6f6f6"/>
<rect x="363.04" y="273.38" width="4.40" height="5.60" fill="#f6f6f6"/>
<rect x="363.04" y="280.33" width="4.40" height="5.60" fill="#f6f6f6"/>
<rect x="363.04" y="287.28" width="4.40" height="5.60" fill="#f6f6f6"/>
<rect x="368.60" y="245.60" width="4.40" height="5.60" fill="#dde8f5"/>
<rect x="368.60" y="252.55" width="4.40" height="5.60" fill="#e8867a"/>
<rect x="368.60" y="259.49" width="4.40" height="5.60" fill="url(#hatch)"/>
<rect x="368.60" y="266.44" width="4.40" height="5.60" fill="#f6f6f6"/>
<rect x="368.60" y="273.38" width="4.40" height="5.60" fill="#f6f6f6"/>
<rect x="368.60" y="280.33" width="4.40" height="5.60" fill="#f6f6f6"/>
<rect x="368.60" y="287.28" width="4.40" height="5.60" fill="#f6f6f6"/>
<rect x="374.06" y="245.60" width="4.40" height="5.60" fill="#bdd5ee"/>
<rect x="374.06" y="252.55" width="4.40" height="5.60" fill="#e8867a"/>
<rect x="374.06" y="259.49" width="4.40" height="5.60" fill="url(#hatch)"/>
<rect x="374.06" y="266.44" width="4.40" height="5.60" fill="#f6f6f6"/>
<rect x="374.06" y="273.38" width="4.40" height="5.60" fill="url(#hatch)"/>
<rect x="374.06" y="280.33" width="4.40" height="5.60" fill="url(#hatch)"/>
<rect x="374.06" y="287.28" width="4.40" height="5.60" fill="#f6f6f6"/>
<rect x="379.51" y="245.60" width="4.40" height="5.60" fill="#bdd5ee"/>
<rect x="379.51" y="252.55" width="4.40" height="5.60" fill="#e0614f"/>
<rect x="379.51" y="259.49" width="4.40" height="5.60" fill="url(#hatch)"/>
<rect x="379.51" y="266.44" width="4.40" height="5.60" fill="#f6f6f6"/>
<rect x="379.51" y="273.38" width="4.40" height="5.60" fill="#f6f6f6"/>
<rect x="379.51" y="280.33" width="4.40" height="5.60" fill="#f6f6f6"/>
<rect x="379.51" y="287.28" width="4.40" height="5.60" fill="#f6f6f6"/>
<rect x="384.97" y="245.60" width="4.40" height="5.60" fill="#2d9fd9"/>
<rect x="384.97" y="252.55" width="4.40" height="5.60" fill="#fde3dc"/>
<rect x="384.97" y="259.49" width="4.40" height="5.60" fill="url(#hatch)"/>
<rect x="384.97" y="266.44" width="4.40" height="5.60" fill="#f6f6f6"/>
<rect x="384.97" y="273.38" width="4.40" height="5.60" fill="#f6f6f6"/>
<rect x="384.97" y="280.33" width="4.40" height="5.60" fill="#f6f6f6"/>
<rect x="384.97" y="287.28" width="4.40" height="5.60" fill="#f6f6f6"/>
<rect x="390.43" y="245.60" width="4.40" height="5.60" fill="#2d9fd9"/>
<rect x="390.43" y="252.55" width="4.40" height="5.60" fill="#f2a696"/>
<rect x="390.43" y="259.49" width="4.40" height="5.60" fill="url(#hatch)"/>
<rect x="390.43" y="266.44" width="4.40" height="5.60" fill="#121212"/>
<rect x="390.43" y="273.38" width="4.40" height="5.60" fill="#121212"/>
<rect x="390.43" y="280.33" width="4.40" height="5.60" fill="#f6f6f6"/>
<rect x="390.43" y="287.28" width="4.40" height="5.60" fill="url(#hatch)"/>
<rect x="395.89" y="245.60" width="4.40" height="5.60" fill="#2d9fd9"/>
<rect x="395.89" y="252.55" width="4.40" height="5.60" fill="#fde3dc"/>
<rect x="395.89" y="259.49" width="4.40" height="5.60" fill="url(#hatch)"/>
<rect x="395.89" y="266.44" width="4.40" height="5.60" fill="#f6f6f6"/>
<rect x="395.89" y="273.38" width="4.40" height="5.60" fill="#f6f6f6"/>
<rect x="395.89" y="280.33" width="4.40" height="5.60" fill="#f6f6f6"/>
<rect x="395.89" y="287.28" width="4.40" height="5.60" fill="#f6f6f6"/>
<rect x="401.34" y="245.60" width="4.40" height="5.60" fill="#4466ad"/>
<rect x="401.34" y="252.55" width="4.40" height="5.60" fill="#f9cfc0"/>
<rect x="401.34" y="259.49" width="4.40" height="5.60" fill="url(#hatch)"/>
<rect x="401.34" y="266.44" width="4.40" height="5.60" fill="#121212"/>
<rect x="401.34" y="273.38" width="4.40" height="5.60" fill="#f6f6f6"/>
<rect x="401.34" y="280.33" width="4.40" height="5.60" fill="#121212"/>
<rect x="401.34" y="287.28" width="4.40" height="5.60" fill="#f6f6f6"/>
<rect x="406.80" y="245.60" width="4.40" height="5.60" fill="#4466ad"/>
<rect x="406.80" y="252.55" width="4.40" height="5.60" fill="#e0614f"/>
<rect x="406.80" y="259.49" width="4.40" height="5.60" fill="url(#hatch)"/>
<rect x="406.80" y="266.44" width="4.40" height="5.60" fill="#121212"/>
<rect x="406.80" y="273.38" width="4.40" height="5.60" fill="#f6f6f6"/>
<rect x="406.80" y="280.33" width="4.40" height="5.60" fill="#121212"/>
<rect x="406.80" y="287.28" width="4.40" height="5.60" fill="#f6f6f6"/>
<rect x="412.26" y="245.60" width="4.40" height="5.60" fill="#4466ad"/>
<rect x="412.26" y="252.55" width="4.40" height="5.60" fill="#d6343a"/>
<rect x="412.26" y="259.49" width="4.40" height="5.60" fill="#ad8cc8"/>
<rect x="412.26" y="266.44" width="4.40" height="5.60" fill="#121212"/>
<rect x="412.26" y="273.38" width="4.40" height="5.60" fill="#f6f6f6"/>
<rect x="412.26" y="280.33" width="4.40" height="5.60" fill="#121212"/>
<rect x="412.26" y="287.28" width="4.40" height="5.60" fill="#f6f6f6"/>
<rect x="417.71" y="245.60" width="4.40" height="5.60" fill="#2f6399"/>
<rect x="417.71" y="252.55" width="4.40" height="5.60" fill="#f9cfc0"/>
<rect x="417.71" y="259.49" width="4.40" height="5.60" fill="url(#hatch)"/>
<rect x="417.71" y="266.44" width="4.40" height="5.60" fill="#f6f6f6"/>
<rect x="417.71" y="273.38" width="4.40" height="5.60" fill="#f6f6f6"/>
<rect x="417.71" y="280.33" width="4.40" height="5.60" fill="#f6f6f6"/>
<rect x="417.71" y="287.28" width="4.40" height="5.60" fill="#f6f6f6"/>
<rect x="423.17" y="245.60" width="4.40" height="5.60" fill="#2f6399"/>
<rect x="423.17" y="252.55" width="4.40" height="5.60" fill="#fde3dc"/>
<rect x="423.17" y="259.49" width="4.40" height="5.60" fill="#571668"/>
<rect x="423.17" y="266.44" width="4.40" height="5.60" fill="#121212"/>
<rect x="423.17" y="273.38" width="4.40" height="5.60" fill="#121212"/>
<rect x="423.17" y="280.33" width="4.40" height="5.60" fill="#f6f6f6"/>
<rect x="423.17" y="287.28" width="4.40" height="5.60" fill="#f6f6f6"/>
<rect x="428.63" y="245.60" width="4.40" height="5.60" fill="#2f6399"/>
<rect x="428.63" y="252.55" width="4.40" height="5.60" fill="#e0614f"/>
<rect x="428.63" y="259.49" width="4.40" height="5.60" fill="url(#hatch)"/>
<rect x="428.63" y="266.44" width="4.40" height="5.60" fill="#f6f6f6"/>
<rect x="428.63" y="273.38" width="4.40" height="5.60" fill="#f6f6f6"/>
<rect x="428.63" y="280.33" width="4.40" height="5.60" fill="#f6f6f6"/>
<rect x="428.63" y="287.28" width="4.40" height="5.60" fill="#f6f6f6"/>
<rect x="434.08" y="245.60" width="4.40" height="5.60" fill="#2f6399"/>
<rect x="434.08" y="252.55" width="4.40" height="5.60" fill="#e0614f"/>
<rect x="434.08" y="259.49" width="4.40" height="5.60" fill="url(#hatch)"/>
<rect x="434.08" y="266.44" width="4.40" height="5.60" fill="#f6f6f6"/>
<rect x="434.08" y="273.38" width="4.40" height="5.60" fill="#f6f6f6"/>
<rect x="434.08" y="280.33" width="4.40" height="5.60" fill="#f6f6f6"/>
<rect x="434.08" y="287.28" width="4.40" height="5.60" fill="#f6f6f6"/>
<rect x="439.54" y="245.60" width="4.40" height="5.60" fill="#2f6399"/>
<rect x="439.54" y="252.55" width="4.40" height="5.60" fill="#e0614f"/>
<rect x="439.54" y="259.49" width="4.40" height="5.60" fill="url(#hatch)"/>
<rect x="439.54" y="266.44" width="4.40" height="5.60" fill="#121212"/>
<rect x="439.54" y="273.38" width="4.40" height="5.60" fill="#121212"/>
<rect x="439.54" y="280.33" width="4.40" height="5.60" fill="#f6f6f6"/>
<rect x="439.54" y="287.28" width="4.40" height="5.60" fill="#f6f6f6"/>
<rect x="445.00" y="245.60" width="4.40" height="5.60" fill="#2f6399"/>
<rect x="445.00" y="252.55" width="4.40" height="5.60" fill="#d6343a"/>
<rect x="445.00" y="259.49" width="4.40" height="5.60" fill="url(#hatch)"/>
<rect x="445.00" y="266.44" width="4.40" height="5.60" fill="#121212"/>
<rect x="445.00" y="273.38" width="4.40" height="5.60" fill="#121212"/>
<rect x="445.00" y="280.33" width="4.40" height="5.60" fill="#f6f6f6"/>
<rect x="445.00" y="287.28" width="4.40" height="5.60" fill="#f6f6f6"/>
<rect x="450.46" y="245.60" width="4.40" height="5.60" fill="#2f6399"/>
<rect x="450.46" y="252.55" width="4.40" height="5.60" fill="#e8867a"/>
<rect x="450.46" y="259.49" width="4.40" height="5.60" fill="#571668"/>
<rect x="450.46" y="266.44" width="4.40" height="5.60" fill="#121212"/>
<rect x="450.46" y="273.38" width="4.40" height="5.60" fill="#f6f6f6"/>
<rect x="450.46" y="280.33" width="4.40" height="5.60" fill="#f6f6f6"/>
<rect x="450.46" y="287.28" width="4.40" height="5.60" fill="#121212"/>
<rect x="215.70" y="294.22" width="4.40" height="5.60" fill="#f6f6f6"/>
<rect x="221.16" y="294.22" width="4.40" height="5.60" fill="#f6f6f6"/>
<rect x="226.61" y="294.22" width="4.40" height="5.60" fill="#f6f6f6"/>
<rect x="232.07" y="294.22" width="4.40" height="5.60" fill="#f6f6f6"/>
<rect x="237.53" y="294.22" width="4.40" height="5.60" fill="#f6f6f6"/>
<rect x="242.98" y="294.22" width="4.40" height="5.60" fill="#f6f6f6"/>
<rect x="248.44" y="294.22" width="4.40" height="5.60" fill="#f6f6f6"/>
<rect x="253.90" y="294.22" width="4.40" height="5.60" fill="#f6f6f6"/>
<rect x="259.36" y="294.22" width="4.40" height="5.60" fill="#f6f6f6"/>
<rect x="264.81" y="294.22" width="4.40" height="5.60" fill="#f6f6f6"/>
<rect x="270.27" y="294.22" width="4.40" height="5.60" fill="#f6f6f6"/>
<rect x="275.73" y="294.22" width="4.40" height="5.60" fill="#f6f6f6"/>
<rect x="281.18" y="294.22" width="4.40" height="5.60" fill="#f6f6f6"/>
<rect x="286.64" y="294.22" width="4.40" height="5.60" fill="#f6f6f6"/>
<rect x="292.10" y="294.22" width="4.40" height="5.60" fill="#f6f6f6"/>
<rect x="297.56" y="294.22" width="4.40" height="5.60" fill="#f6f6f6"/>
<rect x="303.01" y="294.22" width="4.40" height="5.60" fill="#f6f6f6"/>
<rect x="308.47" y="294.22" width="4.40" height="5.60" fill="#2c943c"/>
<rect x="313.93" y="294.22" width="4.40" height="5.60" fill="#f6f6f6"/>
<rect x="319.38" y="294.22" width="4.40" height="5.60" fill="#f6f6f6"/>
<rect x="324.84" y="294.22" width="4.40" height="5.60" fill="#f6f6f6"/>
<rect x="330.30" y="294.22" width="4.40" height="5.60" fill="#f6f6f6"/>
<rect x="335.75" y="294.22" width="4.40" height="5.60" fill="#f6f6f6"/>
<rect x="341.21" y="294.22" width="4.40" height="5.60" fill="#f6f6f6"/>
<rect x="346.67" y="294.22" width="4.40" height="5.60" fill="#f6f6f6"/>
<rect x="352.12" y="294.22" width="4.40" height="5.60" fill="#f6f6f6"/>
<rect x="357.58" y="294.22" width="4.40" height="5.60" fill="#f6f6f6"/>
<rect x="363.04" y="294.22" width="4.40" height="5.60" fill="#f6f6f6"/>
<rect x="368.60" y="294.22" width="4.40" height="5.60" fill="#f6f6f6"/>
<rect x="374.06" y="294.22" width="4.40" height="5.60" fill="#f6f6f6"/>
<rect x="379.51" y="294.22" width="4.40" height="5.60" fill="#f6f6f6"/>
<rect x="384.97" y="294.22" width="4.40" height="5.60" fill="#f6f6f6"/>
<rect x="390.43" y="294.22" width="4.40" height="5.60" fill="#f6f6f6"/>
<rect x="395.89" y="294.22" width="4.40" height="5.60" fill="#f6f6f6"/>
<rect x="401.34" y="294.22" width="4.40" height="5.60" fill="#f6f6f6"/>
<rect x="406.80" y="294.22" width="4.40" height="5.60" fill="#f6f6f6"/>
<rect x="412.26" y="294.22" width="4.40" height="5.60" fill="#f6f6f6"/>
<rect x="417.71" y="294.22" width="4.40" height="5.60" fill="#f6f6f6"/>
<rect x="423.17" y="294.22" width="4.40" height="5.60" fill="#f6f6f6"/>
<rect x="428.63" y="294.22" width="4.40" height="5.60" fill="#f6f6f6"/>
<rect x="434.08" y="294.22" width="4.40" height="5.60" fill="#f6f6f6"/>
<rect x="439.54" y="294.22" width="4.40" height="5.60" fill="#f6f6f6"/>
<rect x="445.00" y="294.22" width="4.40" height="5.60" fill="#f6f6f6"/>
<rect x="450.46" y="294.22" width="4.40" height="5.60" fill="#f6f6f6"/>
<rect x="215.70" y="301.17" width="4.40" height="5.60" fill="#f6f6f6"/>
<rect x="221.16" y="301.17" width="4.40" height="5.60" fill="#f6f6f6"/>
<rect x="226.61" y="301.17" width="4.40" height="5.60" fill="#f6f6f6"/>
<rect x="232.07" y="301.17" width="4.40" height="5.60" fill="#f6f6f6"/>
<rect x="237.53" y="301.17" width="4.40" height="5.60" fill="#f6f6f6"/>
<rect x="242.98" y="301.17" width="4.40" height="5.60" fill="#f6f6f6"/>
<rect x="248.44" y="301.17" width="4.40" height="5.60" fill="#f6f6f6"/>
<rect x="253.90" y="301.17" width="4.40" height="5.60" fill="#f6f6f6"/>
<rect x="259.36" y="301.17" width="4.40" height="5.60" fill="#2c943c"/>
<rect x="264.81" y="301.17" width="4.40" height="5.60" fill="#f6f6f6"/>
<rect x="270.27" y="301.17" width="4.40" height="5.60" fill="#f6f6f6"/>
<rect x="275.73" y="301.17" width="4.40" height="5.60" fill="#f6f6f6"/>
<rect x="281.18" y="301.17" width="4.40" height="5.60" fill="#f6f6f6"/>
<rect x="286.64" y="301.17" width="4.40" height="5.60" fill="#f6f6f6"/>
<rect x="292.10" y="301.17" width="4.40" height="5.60" fill="#f6f6f6"/>
<rect x="297.56" y="301.17" width="4.40" height="5.60" fill="#f6f6f6"/>
<rect x="303.01" y="301.17" width="4.40" height="5.60" fill="#f6f6f6"/>
<rect x="308.47" y="301.17" width="4.40" height="5.60" fill="#f6f6f6"/>
<rect x="313.93" y="301.17" width="4.40" height="5.60" fill="#f6f6f6"/>
<rect x="319.38" y="301.17" width="4.40" height="5.60" fill="#f6f6f6"/>
<rect x="324.84" y="301.17" width="4.40" height="5.60" fill="#f6f6f6"/>
<rect x="330.30" y="301.17" width="4.40" height="5.60" fill="#f6f6f6"/>
<rect x="335.75" y="301.17" width="4.40" height="5.60" fill="#f6f6f6"/>
<rect x="341.21" y="301.17" width="4.40" height="5.60" fill="#f6f6f6"/>
<rect x="346.67" y="301.17" width="4.40" height="5.60" fill="#f6f6f6"/>
<rect x="352.12" y="301.17" width="4.40" height="5.60" fill="#f6f6f6"/>
<rect x="357.58" y="301.17" width="4.40" height="5.60" fill="#f6f6f6"/>
<rect x="363.04" y="301.17" width="4.40" height="5.60" fill="#2c943c"/>
<rect x="368.60" y="301.17" width="4.40" height="5.60" fill="#f6f6f6"/>
<rect x="374.06" y="301.17" width="4.40" height="5.60" fill="#f6f6f6"/>
<rect x="379.51" y="301.17" width="4.40" height="5.60" fill="#f6f6f6"/>
<rect x="384.97" y="301.17" width="4.40" height="5.60" fill="#f6f6f6"/>
<rect x="390.43" y="301.17" width="4.40" height="5.60" fill="#f6f6f6"/>
<rect x="395.89" y="301.17" width="4.40" height="5.60" fill="#f6f6f6"/>
<rect x="401.34" y="301.17" width="4.40" height="5.60" fill="#f6f6f6"/>
<rect x="406.80" y="301.17" width="4.40" height="5.60" fill="#f6f6f6"/>
<rect x="412.26" y="301.17" width="4.40" height="5.60" fill="#f6f6f6"/>
<rect x="417.71" y="301.17" width="4.40" height="5.60" fill="#f6f6f6"/>
<rect x="423.17" y="301.17" width="4.40" height="5.60" fill="#f6f6f6"/>
<rect x="428.63" y="301.17" width="4.40" height="5.60" fill="#f6f6f6"/>
<rect x="434.08" y="301.17" width="4.40" height="5.60" fill="#f6f6f6"/>
<rect x="439.54" y="301.17" width="4.40" height="5.60" fill="#f6f6f6"/>
<rect x="445.00" y="301.17" width="4.40" height="5.60" fill="#f6f6f6"/>
<rect x="450.46" y="301.17" width="4.40" height="5.60" fill="#f6f6f6"/>
<rect x="215.70" y="308.11" width="4.40" height="5.60" fill="#f6f6f6"/>
<rect x="221.16" y="308.11" width="4.40" height="5.60" fill="#f6f6f6"/>
<rect x="226.61" y="308.11" width="4.40" height="5.60" fill="#f6f6f6"/>
<rect x="232.07" y="308.11" width="4.40" height="5.60" fill="#f6f6f6"/>
<rect x="237.53" y="308.11" width="4.40" height="5.60" fill="#f6f6f6"/>
<rect x="242.98" y="308.11" width="4.40" height="5.60" fill="#f6f6f6"/>
<rect x="248.44" y="308.11" width="4.40" height="5.60" fill="#f6f6f6"/>
<rect x="253.90" y="308.11" width="4.40" height="5.60" fill="#f6f6f6"/>
<rect x="259.36" y="308.11" width="4.40" height="5.60" fill="#f6f6f6"/>
<rect x="264.81" y="308.11" width="4.40" height="5.60" fill="#2c943c"/>
<rect x="270.27" y="308.11" width="4.40" height="5.60" fill="#2c943c"/>
<rect x="275.73" y="308.11" width="4.40" height="5.60" fill="#2c943c"/>
<rect x="281.18" y="308.11" width="4.40" height="5.60" fill="#f6f6f6"/>
<rect x="286.64" y="308.11" width="4.40" height="5.60" fill="#f6f6f6"/>
<rect x="292.10" y="308.11" width="4.40" height="5.60" fill="#f6f6f6"/>
<rect x="297.56" y="308.11" width="4.40" height="5.60" fill="#f6f6f6"/>
<rect x="303.01" y="308.11" width="4.40" height="5.60" fill="#f6f6f6"/>
<rect x="308.47" y="308.11" width="4.40" height="5.60" fill="#f6f6f6"/>
<rect x="313.93" y="308.11" width="4.40" height="5.60" fill="#f6f6f6"/>
<rect x="319.38" y="308.11" width="4.40" height="5.60" fill="#f6f6f6"/>
<rect x="324.84" y="308.11" width="4.40" height="5.60" fill="#f6f6f6"/>
<rect x="330.30" y="308.11" width="4.40" height="5.60" fill="#f6f6f6"/>
<rect x="335.75" y="308.11" width="4.40" height="5.60" fill="#f6f6f6"/>
<rect x="341.21" y="308.11" width="4.40" height="5.60" fill="#f6f6f6"/>
<rect x="346.67" y="308.11" width="4.40" height="5.60" fill="#f6f6f6"/>
<rect x="352.12" y="308.11" width="4.40" height="5.60" fill="#f6f6f6"/>
<rect x="357.58" y="308.11" width="4.40" height="5.60" fill="#f6f6f6"/>
<rect x="363.04" y="308.11" width="4.40" height="5.60" fill="#f6f6f6"/>
<rect x="368.60" y="308.11" width="4.40" height="5.60" fill="#f6f6f6"/>
<rect x="374.06" y="308.11" width="4.40" height="5.60" fill="#f6f6f6"/>
<rect x="379.51" y="308.11" width="4.40" height="5.60" fill="#f6f6f6"/>
<rect x="384.97" y="308.11" width="4.40" height="5.60" fill="#f6f6f6"/>
<rect x="390.43" y="308.11" width="4.40" height="5.60" fill="#f6f6f6"/>
<rect x="395.89" y="308.11" width="4.40" height="5.60" fill="#f6f6f6"/>
<rect x="401.34" y="308.11" width="4.40" height="5.60" fill="#f6f6f6"/>
<rect x="406.80" y="308.11" width="4.40" height="5.60" fill="#f6f6f6"/>
<rect x="412.26" y="308.11" width="4.40" height="5.60" fill="#f6f6f6"/>
<rect x="417.71" y="308.11" width="4.40" height="5.60" fill="#f6f6f6"/>
<rect x="423.17" y="308.11" width="4.40" height="5.60" fill="#f6f6f6"/>
<rect x="428.63" y="308.11" width="4.40" height="5.60" fill="#f6f6f6"/>
<rect x="434.08" y="308.11" width="4.40" height="5.60" fill="#f6f6f6"/>
<rect x="439.54" y="308.11" width="4.40" height="5.60" fill="#f6f6f6"/>
<rect x="445.00" y="308.11" width="4.40" height="5.60" fill="#f6f6f6"/>
<rect x="450.46" y="308.11" width="4.40" height="5.60" fill="#f6f6f6"/>
<rect x="215.70" y="315.06" width="4.40" height="5.60" fill="#f6f6f6"/>
<rect x="221.16" y="315.06" width="4.40" height="5.60" fill="#f6f6f6"/>
<rect x="226.61" y="315.06" width="4.40" height="5.60" fill="#f6f6f6"/>
<rect x="232.07" y="315.06" width="4.40" height="5.60" fill="#f6f6f6"/>
<rect x="237.53" y="315.06" width="4.40" height="5.60" fill="#f6f6f6"/>
<rect x="242.98" y="315.06" width="4.40" height="5.60" fill="#f6f6f6"/>
<rect x="248.44" y="315.06" width="4.40" height="5.60" fill="#f6f6f6"/>
<rect x="253.90" y="315.06" width="4.40" height="5.60" fill="#f6f6f6"/>
<rect x="259.36" y="315.06" width="4.40" height="5.60" fill="#f6f6f6"/>
<rect x="264.81" y="315.06" width="4.40" height="5.60" fill="#f6f6f6"/>
<rect x="270.27" y="315.06" width="4.40" height="5.60" fill="#f6f6f6"/>
<rect x="275.73" y="315.06" width="4.40" height="5.60" fill="#f6f6f6"/>
<rect x="281.18" y="315.06" width="4.40" height="5.60" fill="#f6f6f6"/>
<rect x="286.64" y="315.06" width="4.40" height="5.60" fill="#f6f6f6"/>
<rect x="292.10" y="315.06" width="4.40" height="5.60" fill="#f6f6f6"/>
<rect x="297.56" y="315.06" width="4.40" height="5.60" fill="#f6f6f6"/>
<rect x="303.01" y="315.06" width="4.40" height="5.60" fill="#f6f6f6"/>
<rect x="308.47" y="315.06" width="4.40" height="5.60" fill="#f6f6f6"/>
<rect x="313.93" y="315.06" width="4.40" height="5.60" fill="#2c943c"/>
<rect x="319.38" y="315.06" width="4.40" height="5.60" fill="#2c943c"/>
<rect x="324.84" y="315.06" width="4.40" height="5.60" fill="#2c943c"/>
<rect x="330.30" y="315.06" width="4.40" height="5.60" fill="#f6f6f6"/>
<rect x="335.75" y="315.06" width="4.40" height="5.60" fill="#f6f6f6"/>
<rect x="341.21" y="315.06" width="4.40" height="5.60" fill="#f6f6f6"/>
<rect x="346.67" y="315.06" width="4.40" height="5.60" fill="#f6f6f6"/>
<rect x="352.12" y="315.06" width="4.40" height="5.60" fill="#f6f6f6"/>
<rect x="357.58" y="315.06" width="4.40" height="5.60" fill="#f6f6f6"/>
<rect x="363.04" y="315.06" width="4.40" height="5.60" fill="#f6f6f6"/>
<rect x="368.60" y="315.06" width="4.40" height="5.60" fill="#f6f6f6"/>
<rect x="374.06" y="315.06" width="4.40" height="5.60" fill="#f6f6f6"/>
<rect x="379.51" y="315.06" width="4.40" height="5.60" fill="#f6f6f6"/>
<rect x="384.97" y="315.06" width="4.40" height="5.60" fill="#f6f6f6"/>
<rect x="390.43" y="315.06" width="4.40" height="5.60" fill="#f6f6f6"/>
<rect x="395.89" y="315.06" width="4.40" height="5.60" fill="#f6f6f6"/>
<rect x="401.34" y="315.06" width="4.40" height="5.60" fill="#f6f6f6"/>
<rect x="406.80" y="315.06" width="4.40" height="5.60" fill="#f6f6f6"/>
<rect x="412.26" y="315.06" width="4.40" height="5.60" fill="#f6f6f6"/>
<rect x="417.71" y="315.06" width="4.40" height="5.60" fill="#f6f6f6"/>
<rect x="423.17" y="315.06" width="4.40" height="5.60" fill="#f6f6f6"/>
<rect x="428.63" y="315.06" width="4.40" height="5.60" fill="#f6f6f6"/>
<rect x="434.08" y="315.06" width="4.40" height="5.60" fill="#f6f6f6"/>
<rect x="439.54" y="315.06" width="4.40" height="5.60" fill="#f6f6f6"/>
<rect x="445.00" y="315.06" width="4.40" height="5.60" fill="#f6f6f6"/>
<rect x="450.46" y="315.06" width="4.40" height="5.60" fill="#f6f6f6"/>
<rect x="215.70" y="322.01" width="4.40" height="5.60" fill="#f6f6f6"/>
<rect x="221.16" y="322.01" width="4.40" height="5.60" fill="#f6f6f6"/>
<rect x="226.61" y="322.01" width="4.40" height="5.60" fill="#f6f6f6"/>
<rect x="232.07" y="322.01" width="4.40" height="5.60" fill="#f6f6f6"/>
<rect x="237.53" y="322.01" width="4.40" height="5.60" fill="#f6f6f6"/>
<rect x="242.98" y="322.01" width="4.40" height="5.60" fill="#2c943c"/>
<rect x="248.44" y="322.01" width="4.40" height="5.60" fill="#f6f6f6"/>
<rect x="253.90" y="322.01" width="4.40" height="5.60" fill="#f6f6f6"/>
<rect x="259.36" y="322.01" width="4.40" height="5.60" fill="#f6f6f6"/>
<rect x="264.81" y="322.01" width="4.40" height="5.60" fill="#f6f6f6"/>
<rect x="270.27" y="322.01" width="4.40" height="5.60" fill="#f6f6f6"/>
<rect x="275.73" y="322.01" width="4.40" height="5.60" fill="#f6f6f6"/>
<rect x="281.18" y="322.01" width="4.40" height="5.60" fill="#2c943c"/>
<rect x="286.64" y="322.01" width="4.40" height="5.60" fill="#f6f6f6"/>
<rect x="292.10" y="322.01" width="4.40" height="5.60" fill="#f6f6f6"/>
<rect x="297.56" y="322.01" width="4.40" height="5.60" fill="#f6f6f6"/>
<rect x="303.01" y="322.01" width="4.40" height="5.60" fill="#f6f6f6"/>
<rect x="308.47" y="322.01" width="4.40" height="5.60" fill="#f6f6f6"/>
<rect x="313.93" y="322.01" width="4.40" height="5.60" fill="#f6f6f6"/>
<rect x="319.38" y="322.01" width="4.40" height="5.60" fill="#f6f6f6"/>
<rect x="324.84" y="322.01" width="4.40" height="5.60" fill="#f6f6f6"/>
<rect x="330.30" y="322.01" width="4.40" height="5.60" fill="#f6f6f6"/>
<rect x="335.75" y="322.01" width="4.40" height="5.60" fill="#f6f6f6"/>
<rect x="341.21" y="322.01" width="4.40" height="5.60" fill="#f6f6f6"/>
<rect x="346.67" y="322.01" width="4.40" height="5.60" fill="#f6f6f6"/>
<rect x="352.12" y="322.01" width="4.40" height="5.60" fill="#f6f6f6"/>
<rect x="357.58" y="322.01" width="4.40" height="5.60" fill="#f6f6f6"/>
<rect x="363.04" y="322.01" width="4.40" height="5.60" fill="#f6f6f6"/>
<rect x="368.60" y="322.01" width="4.40" height="5.60" fill="#f6f6f6"/>
<rect x="374.06" y="322.01" width="4.40" height="5.60" fill="#f6f6f6"/>
<rect x="379.51" y="322.01" width="4.40" height="5.60" fill="#f6f6f6"/>
<rect x="384.97" y="322.01" width="4.40" height="5.60" fill="#f6f6f6"/>
<rect x="390.43" y="322.01" width="4.40" height="5.60" fill="#f6f6f6"/>
<rect x="395.89" y="322.01" width="4.40" height="5.60" fill="#f6f6f6"/>
<rect x="401.34" y="322.01" width="4.40" height="5.60" fill="#f6f6f6"/>
<rect x="406.80" y="322.01" width="4.40" height="5.60" fill="#f6f6f6"/>
<rect x="412.26" y="322.01" width="4.40" height="5.60" fill="#f6f6f6"/>
<rect x="417.71" y="322.01" width="4.40" height="5.60" fill="#f6f6f6"/>
<rect x="423.17" y="322.01" width="4.40" height="5.60" fill="#f6f6f6"/>
<rect x="428.63" y="322.01" width="4.40" height="5.60" fill="#f6f6f6"/>
<rect x="434.08" y="322.01" width="4.40" height="5.60" fill="#f6f6f6"/>
<rect x="439.54" y="322.01" width="4.40" height="5.60" fill="#f6f6f6"/>
<rect x="445.00" y="322.01" width="4.40" height="5.60" fill="#f6f6f6"/>
<rect x="450.46" y="322.01" width="4.40" height="5.60" fill="#f6f6f6"/>
<rect x="215.70" y="328.95" width="4.40" height="5.60" fill="#f6f6f6"/>
<rect x="221.16" y="328.95" width="4.40" height="5.60" fill="#f6f6f6"/>
<rect x="226.61" y="328.95" width="4.40" height="5.60" fill="#f6f6f6"/>
<rect x="232.07" y="328.95" width="4.40" height="5.60" fill="#f6f6f6"/>
<rect x="237.53" y="328.95" width="4.40" height="5.60" fill="#2c943c"/>
<rect x="242.98" y="328.95" width="4.40" height="5.60" fill="#f6f6f6"/>
<rect x="248.44" y="328.95" width="4.40" height="5.60" fill="#f6f6f6"/>
<rect x="253.90" y="328.95" width="4.40" height="5.60" fill="#f6f6f6"/>
<rect x="259.36" y="328.95" width="4.40" height="5.60" fill="#f6f6f6"/>
<rect x="264.81" y="328.95" width="4.40" height="5.60" fill="#f6f6f6"/>
<rect x="270.27" y="328.95" width="4.40" height="5.60" fill="#f6f6f6"/>
<rect x="275.73" y="328.95" width="4.40" height="5.60" fill="#f6f6f6"/>
<rect x="281.18" y="328.95" width="4.40" height="5.60" fill="#f6f6f6"/>
<rect x="286.64" y="328.95" width="4.40" height="5.60" fill="#f6f6f6"/>
<rect x="292.10" y="328.95" width="4.40" height="5.60" fill="#f6f6f6"/>
<rect x="297.56" y="328.95" width="4.40" height="5.60" fill="#f6f6f6"/>
<rect x="303.01" y="328.95" width="4.40" height="5.60" fill="#f6f6f6"/>
<rect x="308.47" y="328.95" width="4.40" height="5.60" fill="#f6f6f6"/>
<rect x="313.93" y="328.95" width="4.40" height="5.60" fill="#f6f6f6"/>
<rect x="319.38" y="328.95" width="4.40" height="5.60" fill="#f6f6f6"/>
<rect x="324.84" y="328.95" width="4.40" height="5.60" fill="#f6f6f6"/>
<rect x="330.30" y="328.95" width="4.40" height="5.60" fill="#f6f6f6"/>
<rect x="335.75" y="328.95" width="4.40" height="5.60" fill="#f6f6f6"/>
<rect x="341.21" y="328.95" width="4.40" height="5.60" fill="#f6f6f6"/>
<rect x="346.67" y="328.95" width="4.40" height="5.60" fill="#f6f6f6"/>
<rect x="352.12" y="328.95" width="4.40" height="5.60" fill="#f6f6f6"/>
<rect x="357.58" y="328.95" width="4.40" height="5.60" fill="#f6f6f6"/>
<rect x="363.04" y="328.95" width="4.40" height="5.60" fill="#f6f6f6"/>
<rect x="368.60" y="328.95" width="4.40" height="5.60" fill="#f6f6f6"/>
<rect x="374.06" y="328.95" width="4.40" height="5.60" fill="#f6f6f6"/>
<rect x="379.51" y="328.95" width="4.40" height="5.60" fill="#f6f6f6"/>
<rect x="384.97" y="328.95" width="4.40" height="5.60" fill="#f6f6f6"/>
<rect x="390.43" y="328.95" width="4.40" height="5.60" fill="#f6f6f6"/>
<rect x="395.89" y="328.95" width="4.40" height="5.60" fill="#f6f6f6"/>
<rect x="401.34" y="328.95" width="4.40" height="5.60" fill="#f6f6f6"/>
<rect x="406.80" y="328.95" width="4.40" height="5.60" fill="#f6f6f6"/>
<rect x="412.26" y="328.95" width="4.40" height="5.60" fill="#f6f6f6"/>
<rect x="417.71" y="328.95" width="4.40" height="5.60" fill="#f6f6f6"/>
<rect x="423.17" y="328.95" width="4.40" height="5.60" fill="#f6f6f6"/>
<rect x="428.63" y="328.95" width="4.40" height="5.60" fill="#f6f6f6"/>
<rect x="434.08" y="328.95" width="4.40" height="5.60" fill="#f6f6f6"/>
<rect x="439.54" y="328.95" width="4.40" height="5.60" fill="#f6f6f6"/>
<rect x="445.00" y="328.95" width="4.40" height="5.60" fill="#f6f6f6"/>
<rect x="450.46" y="328.95" width="4.40" height="5.60" fill="#f6f6f6"/>
<rect x="215.70" y="335.90" width="4.40" height="5.60" fill="#2c943c"/>
<rect x="221.16" y="335.90" width="4.40" height="5.60" fill="#f6f6f6"/>
<rect x="226.61" y="335.90" width="4.40" height="5.60" fill="#f6f6f6"/>
<rect x="232.07" y="335.90" width="4.40" height="5.60" fill="#f6f6f6"/>
<rect x="237.53" y="335.90" width="4.40" height="5.60" fill="#f6f6f6"/>
<rect x="242.98" y="335.90" width="4.40" height="5.60" fill="#f6f6f6"/>
<rect x="248.44" y="335.90" width="4.40" height="5.60" fill="#f6f6f6"/>
<rect x="253.90" y="335.90" width="4.40" height="5.60" fill="#f6f6f6"/>
<rect x="259.36" y="335.90" width="4.40" height="5.60" fill="#f6f6f6"/>
<rect x="264.81" y="335.90" width="4.40" height="5.60" fill="#f6f6f6"/>
<rect x="270.27" y="335.90" width="4.40" height="5.60" fill="#f6f6f6"/>
<rect x="275.73" y="335.90" width="4.40" height="5.60" fill="#f6f6f6"/>
<rect x="281.18" y="335.90" width="4.40" height="5.60" fill="#f6f6f6"/>
<rect x="286.64" y="335.90" width="4.40" height="5.60" fill="#f6f6f6"/>
<rect x="292.10" y="335.90" width="4.40" height="5.60" fill="#f6f6f6"/>
<rect x="297.56" y="335.90" width="4.40" height="5.60" fill="#f6f6f6"/>
<rect x="303.01" y="335.90" width="4.40" height="5.60" fill="#f6f6f6"/>
<rect x="308.47" y="335.90" width="4.40" height="5.60" fill="#f6f6f6"/>
<rect x="313.93" y="335.90" width="4.40" height="5.60" fill="#f6f6f6"/>
<rect x="319.38" y="335.90" width="4.40" height="5.60" fill="#f6f6f6"/>
<rect x="324.84" y="335.90" width="4.40" height="5.60" fill="#f6f6f6"/>
<rect x="330.30" y="335.90" width="4.40" height="5.60" fill="#f6f6f6"/>
<rect x="335.75" y="335.90" width="4.40" height="5.60" fill="#f6f6f6"/>
<rect x="341.21" y="335.90" width="4.40" height="5.60" fill="#f6f6f6"/>
<rect x="346.67" y="335.90" width="4.40" height="5.60" fill="#f6f6f6"/>
<rect x="352.12" y="335.90" width="4.40" height="5.60" fill="#f6f6f6"/>
<rect x="357.58" y="335.90" width="4.40" height="5.60" fill="#f6f6f6"/>
<rect x="363.04" y="335.90" width="4.40" height="5.60" fill="#f6f6f6"/>
<rect x="368.60" y="335.90" width="4.40" height="5.60" fill="#f6f6f6"/>
<rect x="374.06" y="335.90" width="4.40" height="5.60" fill="#f6f6f6"/>
<rect x="379.51" y="335.90" width="4.40" height="5.60" fill="#f6f6f6"/>
<rect x="384.97" y="335.90" width="4.40" height="5.60" fill="#f6f6f6"/>
<rect x="390.43" y="335.90" width="4.40" height="5.60" fill="#f6f6f6"/>
<rect x="395.89" y="335.90" width="4.40" height="5.60" fill="#f6f6f6"/>
<rect x="401.34" y="335.90" width="4.40" height="5.60" fill="#f6f6f6"/>
<rect x="406.80" y="335.90" width="4.40" height="5.60" fill="#f6f6f6"/>
<rect x="412.26" y="335.90" width="4.40" height="5.60" fill="#f6f6f6"/>
<rect x="417.71" y="335.90" width="4.40" height="5.60" fill="#f6f6f6"/>
<rect x="423.17" y="335.90" width="4.40" height="5.60" fill="#f6f6f6"/>
<rect x="428.63" y="335.90" width="4.40" height="5.60" fill="#f6f6f6"/>
<rect x="434.08" y="335.90" width="4.40" height="5.60" fill="#f6f6f6"/>
<rect x="439.54" y="335.90" width="4.40" height="5.60" fill="#f6f6f6"/>
<rect x="445.00" y="335.90" width="4.40" height="5.60" fill="#f6f6f6"/>
<rect x="450.46" y="335.90" width="4.40" height="5.60" fill="#f6f6f6"/>
<rect x="215.70" y="342.84" width="4.40" height="5.60" fill="#f6f6f6"/>
<rect x="221.16" y="342.84" width="4.40" height="5.60" fill="#f6f6f6"/>
<rect x="226.61" y="342.84" width="4.40" height="5.60" fill="#f6f6f6"/>
<rect x="232.07" y="342.84" width="4.40" height="5.60" fill="#2c943c"/>
<rect x="237.53" y="342.84" width="4.40" height="5.60" fill="#f6f6f6"/>
<rect x="242.98" y="342.84" width="4.40" height="5.60" fill="#f6f6f6"/>
<rect x="248.44" y="342.84" width="4.40" height="5.60" fill="#f6f6f6"/>
<rect x="253.90" y="342.84" width="4.40" height="5.60" fill="#f6f6f6"/>
<rect x="259.36" y="342.84" width="4.40" height="5.60" fill="#f6f6f6"/>
<rect x="264.81" y="342.84" width="4.40" height="5.60" fill="#f6f6f6"/>
<rect x="270.27" y="342.84" width="4.40" height="5.60" fill="#f6f6f6"/>
<rect x="275.73" y="342.84" width="4.40" height="5.60" fill="#f6f6f6"/>
<rect x="281.18" y="342.84" width="4.40" height="5.60" fill="#f6f6f6"/>
<rect x="286.64" y="342.84" width="4.40" height="5.60" fill="#f6f6f6"/>
<rect x="292.10" y="342.84" width="4.40" height="5.60" fill="#f6f6f6"/>
<rect x="297.56" y="342.84" width="4.40" height="5.60" fill="#f6f6f6"/>
<rect x="303.01" y="342.84" width="4.40" height="5.60" fill="#f6f6f6"/>
<rect x="308.47" y="342.84" width="4.40" height="5.60" fill="#f6f6f6"/>
<rect x="313.93" y="342.84" width="4.40" height="5.60" fill="#f6f6f6"/>
<rect x="319.38" y="342.84" width="4.40" height="5.60" fill="#f6f6f6"/>
<rect x="324.84" y="342.84" width="4.40" height="5.60" fill="#f6f6f6"/>
<rect x="330.30" y="342.84" width="4.40" height="5.60" fill="#f6f6f6"/>
<rect x="335.75" y="342.84" width="4.40" height="5.60" fill="#f6f6f6"/>
<rect x="341.21" y="342.84" width="4.40" height="5.60" fill="#f6f6f6"/>
<rect x="346.67" y="342.84" width="4.40" height="5.60" fill="#f6f6f6"/>
<rect x="352.12" y="342.84" width="4.40" height="5.60" fill="#f6f6f6"/>
<rect x="357.58" y="342.84" width="4.40" height="5.60" fill="#f6f6f6"/>
<rect x="363.04" y="342.84" width="4.40" height="5.60" fill="#f6f6f6"/>
<rect x="368.60" y="342.84" width="4.40" height="5.60" fill="#f6f6f6"/>
<rect x="374.06" y="342.84" width="4.40" height="5.60" fill="#f6f6f6"/>
<rect x="379.51" y="342.84" width="4.40" height="5.60" fill="#f6f6f6"/>
<rect x="384.97" y="342.84" width="4.40" height="5.60" fill="#f6f6f6"/>
<rect x="390.43" y="342.84" width="4.40" height="5.60" fill="#f6f6f6"/>
<rect x="395.89" y="342.84" width="4.40" height="5.60" fill="#f6f6f6"/>
<rect x="401.34" y="342.84" width="4.40" height="5.60" fill="#f6f6f6"/>
<rect x="406.80" y="342.84" width="4.40" height="5.60" fill="#f6f6f6"/>
<rect x="412.26" y="342.84" width="4.40" height="5.60" fill="#f6f6f6"/>
<rect x="417.71" y="342.84" width="4.40" height="5.60" fill="#f6f6f6"/>
<rect x="423.17" y="342.84" width="4.40" height="5.60" fill="#f6f6f6"/>
<rect x="428.63" y="342.84" width="4.40" height="5.60" fill="#f6f6f6"/>
<rect x="434.08" y="342.84" width="4.40" height="5.60" fill="#f6f6f6"/>
<rect x="439.54" y="342.84" width="4.40" height="5.60" fill="#f6f6f6"/>
<rect x="445.00" y="342.84" width="4.40" height="5.60" fill="#f6f6f6"/>
<rect x="450.46" y="342.84" width="4.40" height="5.60" fill="#f6f6f6"/>
<rect x="215.70" y="349.79" width="4.40" height="5.60" fill="#f6f6f6"/>
<rect x="221.16" y="349.79" width="4.40" height="5.60" fill="#f6f6f6"/>
<rect x="226.61" y="349.79" width="4.40" height="5.60" fill="#f6f6f6"/>
<rect x="232.07" y="349.79" width="4.40" height="5.60" fill="#f6f6f6"/>
<rect x="237.53" y="349.79" width="4.40" height="5.60" fill="#f6f6f6"/>
<rect x="242.98" y="349.79" width="4.40" height="5.60" fill="#f6f6f6"/>
<rect x="248.44" y="349.79" width="4.40" height="5.60" fill="#f6f6f6"/>
<rect x="253.90" y="349.79" width="4.40" height="5.60" fill="#f6f6f6"/>
<rect x="259.36" y="349.79" width="4.40" height="5.60" fill="#f6f6f6"/>
<rect x="264.81" y="349.79" width="4.40" height="5.60" fill="#f6f6f6"/>
<rect x="270.27" y="349.79" width="4.40" height="5.60" fill="#f6f6f6"/>
<rect x="275.73" y="349.79" width="4.40" height="5.60" fill="#f6f6f6"/>
<rect x="281.18" y="349.79" width="4.40" height="5.60" fill="#f6f6f6"/>
<rect x="286.64" y="349.79" width="4.40" height="5.60" fill="#f6f6f6"/>
<rect x="292.10" y="349.79" width="4.40" height="5.60" fill="#2c943c"/>
<rect x="297.56" y="349.79" width="4.40" height="5.60" fill="#f6f6f6"/>
<rect x="303.01" y="349.79" width="4.40" height="5.60" fill="#f6f6f6"/>
<rect x="308.47" y="349.79" width="4.40" height="5.60" fill="#f6f6f6"/>
<rect x="313.93" y="349.79" width="4.40" height="5.60" fill="#f6f6f6"/>
<rect x="319.38" y="349.79" width="4.40" height="5.60" fill="#f6f6f6"/>
<rect x="324.84" y="349.79" width="4.40" height="5.60" fill="#f6f6f6"/>
<rect x="330.30" y="349.79" width="4.40" height="5.60" fill="#f6f6f6"/>
<rect x="335.75" y="349.79" width="4.40" height="5.60" fill="#f6f6f6"/>
<rect x="341.21" y="349.79" width="4.40" height="5.60" fill="#f6f6f6"/>
<rect x="346.67" y="349.79" width="4.40" height="5.60" fill="#f6f6f6"/>
<rect x="352.12" y="349.79" width="4.40" height="5.60" fill="#f6f6f6"/>
<rect x="357.58" y="349.79" width="4.40" height="5.60" fill="#f6f6f6"/>
<rect x="363.04" y="349.79" width="4.40" height="5.60" fill="#f6f6f6"/>
<rect x="368.60" y="349.79" width="4.40" height="5.60" fill="#f6f6f6"/>
<rect x="374.06" y="349.79" width="4.40" height="5.60" fill="#f6f6f6"/>
<rect x="379.51" y="349.79" width="4.40" height="5.60" fill="#f6f6f6"/>
<rect x="384.97" y="349.79" width="4.40" height="5.60" fill="#f6f6f6"/>
<rect x="390.43" y="349.79" width="4.40" height="5.60" fill="#f6f6f6"/>
<rect x="395.89" y="349.79" width="4.40" height="5.60" fill="#f6f6f6"/>
<rect x="401.34" y="349.79" width="4.40" height="5.60" fill="#f6f6f6"/>
<rect x="406.80" y="349.79" width="4.40" height="5.60" fill="#f6f6f6"/>
<rect x="412.26" y="349.79" width="4.40" height="5.60" fill="#f6f6f6"/>
<rect x="417.71" y="349.79" width="4.40" height="5.60" fill="#f6f6f6"/>
<rect x="423.17" y="349.79" width="4.40" height="5.60" fill="#f6f6f6"/>
<rect x="428.63" y="349.79" width="4.40" height="5.60" fill="#f6f6f6"/>
<rect x="434.08" y="349.79" width="4.40" height="5.60" fill="#f6f6f6"/>
<rect x="439.54" y="349.79" width="4.40" height="5.60" fill="#f6f6f6"/>
<rect x="445.00" y="349.79" width="4.40" height="5.60" fill="#f6f6f6"/>
<rect x="450.46" y="349.79" width="4.40" height="5.60" fill="#f6f6f6"/>
<rect x="215.70" y="356.74" width="4.40" height="5.60" fill="#f6f6f6"/>
<rect x="221.16" y="356.74" width="4.40" height="5.60" fill="#f6f6f6"/>
<rect x="226.61" y="356.74" width="4.40" height="5.60" fill="#f6f6f6"/>
<rect x="232.07" y="356.74" width="4.40" height="5.60" fill="#f6f6f6"/>
<rect x="237.53" y="356.74" width="4.40" height="5.60" fill="#f6f6f6"/>
<rect x="242.98" y="356.74" width="4.40" height="5.60" fill="#f6f6f6"/>
<rect x="248.44" y="356.74" width="4.40" height="5.60" fill="#f6f6f6"/>
<rect x="253.90" y="356.74" width="4.40" height="5.60" fill="#2c943c"/>
<rect x="259.36" y="356.74" width="4.40" height="5.60" fill="#f6f6f6"/>
<rect x="264.81" y="356.74" width="4.40" height="5.60" fill="#f6f6f6"/>
<rect x="270.27" y="356.74" width="4.40" height="5.60" fill="#f6f6f6"/>
<rect x="275.73" y="356.74" width="4.40" height="5.60" fill="#f6f6f6"/>
<rect x="281.18" y="356.74" width="4.40" height="5.60" fill="#f6f6f6"/>
<rect x="286.64" y="356.74" width="4.40" height="5.60" fill="#f6f6f6"/>
<rect x="292.10" y="356.74" width="4.40" height="5.60" fill="#f6f6f6"/>
<rect x="297.56" y="356.74" width="4.40" height="5.60" fill="#f6f6f6"/>
<rect x="303.01" y="356.74" width="4.40" height="5.60" fill="#f6f6f6"/>
<rect x="308.47" y="356.74" width="4.40" height="5.60" fill="#f6f6f6"/>
<rect x="313.93" y="356.74" width="4.40" height="5.60" fill="#f6f6f6"/>
<rect x="319.38" y="356.74" width="4.40" height="5.60" fill="#f6f6f6"/>
<rect x="324.84" y="356.74" width="4.40" height="5.60" fill="#f6f6f6"/>
<rect x="330.30" y="356.74" width="4.40" height="5.60" fill="#f6f6f6"/>
<rect x="335.75" y="356.74" width="4.40" height="5.60" fill="#f6f6f6"/>
<rect x="341.21" y="356.74" width="4.40" height="5.60" fill="#f6f6f6"/>
<rect x="346.67" y="356.74" width="4.40" height="5.60" fill="#f6f6f6"/>
<rect x="352.12" y="356.74" width="4.40" height="5.60" fill="#f6f6f6"/>
<rect x="357.58" y="356.74" width="4.40" height="5.60" fill="#f6f6f6"/>
<rect x="363.04" y="356.74" width="4.40" height="5.60" fill="#f6f6f6"/>
<rect x="368.60" y="356.74" width="4.40" height="5.60" fill="#f6f6f6"/>
<rect x="374.06" y="356.74" width="4.40" height="5.60" fill="#f6f6f6"/>
<rect x="379.51" y="356.74" width="4.40" height="5.60" fill="#f6f6f6"/>
<rect x="384.97" y="356.74" width="4.40" height="5.60" fill="#f6f6f6"/>
<rect x="390.43" y="356.74" width="4.40" height="5.60" fill="#f6f6f6"/>
<rect x="395.89" y="356.74" width="4.40" height="5.60" fill="#f6f6f6"/>
<rect x="401.34" y="356.74" width="4.40" height="5.60" fill="#f6f6f6"/>
<rect x="406.80" y="356.74" width="4.40" height="5.60" fill="#f6f6f6"/>
<rect x="412.26" y="356.74" width="4.40" height="5.60" fill="#f6f6f6"/>
<rect x="417.71" y="356.74" width="4.40" height="5.60" fill="#f6f6f6"/>
<rect x="423.17" y="356.74" width="4.40" height="5.60" fill="#f6f6f6"/>
<rect x="428.63" y="356.74" width="4.40" height="5.60" fill="#f6f6f6"/>
<rect x="434.08" y="356.74" width="4.40" height="5.60" fill="#f6f6f6"/>
<rect x="439.54" y="356.74" width="4.40" height="5.60" fill="#f6f6f6"/>
<rect x="445.00" y="356.74" width="4.40" height="5.60" fill="#f6f6f6"/>
<rect x="450.46" y="356.74" width="4.40" height="5.60" fill="#f6f6f6"/>
<rect x="215.70" y="363.68" width="4.40" height="5.60" fill="#f6f6f6"/>
<rect x="221.16" y="363.68" width="4.40" height="5.60" fill="#f6f6f6"/>
<rect x="226.61" y="363.68" width="4.40" height="5.60" fill="#f6f6f6"/>
<rect x="232.07" y="363.68" width="4.40" height="5.60" fill="#f6f6f6"/>
<rect x="237.53" y="363.68" width="4.40" height="5.60" fill="#f6f6f6"/>
<rect x="242.98" y="363.68" width="4.40" height="5.60" fill="#f6f6f6"/>
<rect x="248.44" y="363.68" width="4.40" height="5.60" fill="#f6f6f6"/>
<rect x="253.90" y="363.68" width="4.40" height="5.60" fill="#f6f6f6"/>
<rect x="259.36" y="363.68" width="4.40" height="5.60" fill="#f6f6f6"/>
<rect x="264.81" y="363.68" width="4.40" height="5.60" fill="#f6f6f6"/>
<rect x="270.27" y="363.68" width="4.40" height="5.60" fill="#f6f6f6"/>
<rect x="275.73" y="363.68" width="4.40" height="5.60" fill="#f6f6f6"/>
<rect x="281.18" y="363.68" width="4.40" height="5.60" fill="#f6f6f6"/>
<rect x="286.64" y="363.68" width="4.40" height="5.60" fill="#f6f6f6"/>
<rect x="292.10" y="363.68" width="4.40" height="5.60" fill="#f6f6f6"/>
<rect x="297.56" y="363.68" width="4.40" height="5.60" fill="#2c943c"/>
<rect x="303.01" y="363.68" width="4.40" height="5.60" fill="#f6f6f6"/>
<rect x="308.47" y="363.68" width="4.40" height="5.60" fill="#f6f6f6"/>
<rect x="313.93" y="363.68" width="4.40" height="5.60" fill="#f6f6f6"/>
<rect x="319.38" y="363.68" width="4.40" height="5.60" fill="#f6f6f6"/>
<rect x="324.84" y="363.68" width="4.40" height="5.60" fill="#f6f6f6"/>
<rect x="330.30" y="363.68" width="4.40" height="5.60" fill="#f6f6f6"/>
<rect x="335.75" y="363.68" width="4.40" height="5.60" fill="#f6f6f6"/>
<rect x="341.21" y="363.68" width="4.40" height="5.60" fill="#f6f6f6"/>
<rect x="346.67" y="363.68" width="4.40" height="5.60" fill="#f6f6f6"/>
<rect x="352.12" y="363.68" width="4.40" height="5.60" fill="#f6f6f6"/>
<rect x="357.58" y="363.68" width="4.40" height="5.60" fill="#f6f6f6"/>
<rect x="363.04" y="363.68" width="4.40" height="5.60" fill="#f6f6f6"/>
<rect x="368.60" y="363.68" width="4.40" height="5.60" fill="#f6f6f6"/>
<rect x="374.06" y="363.68" width="4.40" height="5.60" fill="#f6f6f6"/>
<rect x="379.51" y="363.68" width="4.40" height="5.60" fill="#f6f6f6"/>
<rect x="384.97" y="363.68" width="4.40" height="5.60" fill="#f6f6f6"/>
<rect x="390.43" y="363.68" width="4.40" height="5.60" fill="#2c943c"/>
<rect x="395.89" y="363.68" width="4.40" height="5.60" fill="#f6f6f6"/>
<rect x="401.34" y="363.68" width="4.40" height="5.60" fill="#f6f6f6"/>
<rect x="406.80" y="363.68" width="4.40" height="5.60" fill="#f6f6f6"/>
<rect x="412.26" y="363.68" width="4.40" height="5.60" fill="#f6f6f6"/>
<rect x="417.71" y="363.68" width="4.40" height="5.60" fill="#f6f6f6"/>
<rect x="423.17" y="363.68" width="4.40" height="5.60" fill="#f6f6f6"/>
<rect x="428.63" y="363.68" width="4.40" height="5.60" fill="#f6f6f6"/>
<rect x="434.08" y="363.68" width="4.40" height="5.60" fill="#f6f6f6"/>
<rect x="439.54" y="363.68" width="4.40" height="5.60" fill="#f6f6f6"/>
<rect x="445.00" y="363.68" width="4.40" height="5.60" fill="#f6f6f6"/>
<rect x="450.46" y="363.68" width="4.40" height="5.60" fill="#f6f6f6"/>
<rect x="215.70" y="370.63" width="4.40" height="5.60" fill="#f6f6f6"/>
<rect x="221.16" y="370.63" width="4.40" height="5.60" fill="#f6f6f6"/>
<rect x="226.61" y="370.63" width="4.40" height="5.60" fill="#f6f6f6"/>
<rect x="232.07" y="370.63" width="4.40" height="5.60" fill="#f6f6f6"/>
<rect x="237.53" y="370.63" width="4.40" height="5.60" fill="#f6f6f6"/>
<rect x="242.98" y="370.63" width="4.40" height="5.60" fill="#f6f6f6"/>
<rect x="248.44" y="370.63" width="4.40" height="5.60" fill="#f6f6f6"/>
<rect x="253.90" y="370.63" width="4.40" height="5.60" fill="#f6f6f6"/>
<rect x="259.36" y="370.63" width="4.40" height="5.60" fill="#f6f6f6"/>
<rect x="264.81" y="370.63" width="4.40" height="5.60" fill="#f6f6f6"/>
<rect x="270.27" y="370.63" width="4.40" height="5.60" fill="#f6f6f6"/>
<rect x="275.73" y="370.63" width="4.40" height="5.60" fill="#f6f6f6"/>
<rect x="281.18" y="370.63" width="4.40" height="5.60" fill="#f6f6f6"/>
<rect x="286.64" y="370.63" width="4.40" height="5.60" fill="#f6f6f6"/>
<rect x="292.10" y="370.63" width="4.40" height="5.60" fill="#f6f6f6"/>
<rect x="297.56" y="370.63" width="4.40" height="5.60" fill="#f6f6f6"/>
<rect x="303.01" y="370.63" width="4.40" height="5.60" fill="#f6f6f6"/>
<rect x="308.47" y="370.63" width="4.40" height="5.60" fill="#f6f6f6"/>
<rect x="313.93" y="370.63" width="4.40" height="5.60" fill="#f6f6f6"/>
<rect x="319.38" y="370.63" width="4.40" height="5.60" fill="#f6f6f6"/>
<rect x="324.84" y="370.63" width="4.40" height="5.60" fill="#f6f6f6"/>
<rect x="330.30" y="370.63" width="4.40" height="5.60" fill="#f6f6f6"/>
<rect x="335.75" y="370.63" width="4.40" height="5.60" fill="#f6f6f6"/>
<rect x="341.21" y="370.63" width="4.40" height="5.60" fill="#2c943c"/>
<rect x="346.67" y="370.63" width="4.40" height="5.60" fill="#f6f6f6"/>
<rect x="352.12" y="370.63" width="4.40" height="5.60" fill="#f6f6f6"/>
<rect x="357.58" y="370.63" width="4.40" height="5.60" fill="#f6f6f6"/>
<rect x="363.04" y="370.63" width="4.40" height="5.60" fill="#f6f6f6"/>
<rect x="368.60" y="370.63" width="4.40" height="5.60" fill="#f6f6f6"/>
<rect x="374.06" y="370.63" width="4.40" height="5.60" fill="#f6f6f6"/>
<rect x="379.51" y="370.63" width="4.40" height="5.60" fill="#f6f6f6"/>
<rect x="384.97" y="370.63" width="4.40" height="5.60" fill="#f6f6f6"/>
<rect x="390.43" y="370.63" width="4.40" height="5.60" fill="#f6f6f6"/>
<rect x="395.89" y="370.63" width="4.40" height="5.60" fill="#f6f6f6"/>
<rect x="401.34" y="370.63" width="4.40" height="5.60" fill="#f6f6f6"/>
<rect x="406.80" y="370.63" width="4.40" height="5.60" fill="#f6f6f6"/>
<rect x="412.26" y="370.63" width="4.40" height="5.60" fill="#f6f6f6"/>
<rect x="417.71" y="370.63" width="4.40" height="5.60" fill="#f6f6f6"/>
<rect x="423.17" y="370.63" width="4.40" height="5.60" fill="#f6f6f6"/>
<rect x="428.63" y="370.63" width="4.40" height="5.60" fill="#f6f6f6"/>
<rect x="434.08" y="370.63" width="4.40" height="5.60" fill="#f6f6f6"/>
<rect x="439.54" y="370.63" width="4.40" height="5.60" fill="#f6f6f6"/>
<rect x="445.00" y="370.63" width="4.40" height="5.60" fill="#f6f6f6"/>
<rect x="450.46" y="370.63" width="4.40" height="5.60" fill="#f6f6f6"/>
<rect x="215.70" y="377.57" width="4.40" height="5.60" fill="#f6f6f6"/>
<rect x="221.16" y="377.57" width="4.40" height="5.60" fill="#f6f6f6"/>
<rect x="226.61" y="377.57" width="4.40" height="5.60" fill="#f6f6f6"/>
<rect x="232.07" y="377.57" width="4.40" height="5.60" fill="#f6f6f6"/>
<rect x="237.53" y="377.57" width="4.40" height="5.60" fill="#f6f6f6"/>
<rect x="242.98" y="377.57" width="4.40" height="5.60" fill="#f6f6f6"/>
<rect x="248.44" y="377.57" width="4.40" height="5.60" fill="#f6f6f6"/>
<rect x="253.90" y="377.57" width="4.40" height="5.60" fill="#f6f6f6"/>
<rect x="259.36" y="377.57" width="4.40" height="5.60" fill="#f6f6f6"/>
<rect x="264.81" y="377.57" width="4.40" height="5.60" fill="#f6f6f6"/>
<rect x="270.27" y="377.57" width="4.40" height="5.60" fill="#f6f6f6"/>
<rect x="275.73" y="377.57" width="4.40" height="5.60" fill="#f6f6f6"/>
<rect x="281.18" y="377.57" width="4.40" height="5.60" fill="#f6f6f6"/>
<rect x="286.64" y="377.57" width="4.40" height="5.60" fill="#f6f6f6"/>
<rect x="292.10" y="377.57" width="4.40" height="5.60" fill="#f6f6f6"/>
<rect x="297.56" y="377.57" width="4.40" height="5.60" fill="#f6f6f6"/>
<rect x="303.01" y="377.57" width="4.40" height="5.60" fill="#f6f6f6"/>
<rect x="308.47" y="377.57" width="4.40" height="5.60" fill="#f6f6f6"/>
<rect x="313.93" y="377.57" width="4.40" height="5.60" fill="#f6f6f6"/>
<rect x="319.38" y="377.57" width="4.40" height="5.60" fill="#f6f6f6"/>
<rect x="324.84" y="377.57" width="4.40" height="5.60" fill="#f6f6f6"/>
<rect x="330.30" y="377.57" width="4.40" height="5.60" fill="#f6f6f6"/>
<rect x="335.75" y="377.57" width="4.40" height="5.60" fill="#f6f6f6"/>
<rect x="341.21" y="377.57" width="4.40" height="5.60" fill="#f6f6f6"/>
<rect x="346.67" y="377.57" width="4.40" height="5.60" fill="#2c943c"/>
<rect x="352.12" y="377.57" width="4.40" height="5.60" fill="#f6f6f6"/>
<rect x="357.58" y="377.57" width="4.40" height="5.60" fill="#f6f6f6"/>
<rect x="363.04" y="377.57" width="4.40" height="5.60" fill="#f6f6f6"/>
<rect x="368.60" y="377.57" width="4.40" height="5.60" fill="#f6f6f6"/>
<rect x="374.06" y="377.57" width="4.40" height="5.60" fill="#f6f6f6"/>
<rect x="379.51" y="377.57" width="4.40" height="5.60" fill="#f6f6f6"/>
<rect x="384.97" y="377.57" width="4.40" height="5.60" fill="#f6f6f6"/>
<rect x="390.43" y="377.57" width="4.40" height="5.60" fill="#f6f6f6"/>
<rect x="395.89" y="377.57" width="4.40" height="5.60" fill="#f6f6f6"/>
<rect x="401.34" y="377.57" width="4.40" height="5.60" fill="#f6f6f6"/>
<rect x="406.80" y="377.57" width="4.40" height="5.60" fill="#f6f6f6"/>
<rect x="412.26" y="377.57" width="4.40" height="5.60" fill="#f6f6f6"/>
<rect x="417.71" y="377.57" width="4.40" height="5.60" fill="#f6f6f6"/>
<rect x="423.17" y="377.57" width="4.40" height="5.60" fill="#f6f6f6"/>
<rect x="428.63" y="377.57" width="4.40" height="5.60" fill="#f6f6f6"/>
<rect x="434.08" y="377.57" width="4.40" height="5.60" fill="#f6f6f6"/>
<rect x="439.54" y="377.57" width="4.40" height="5.60" fill="#f6f6f6"/>
<rect x="445.00" y="377.57" width="4.40" height="5.60" fill="#f6f6f6"/>
<rect x="450.46" y="377.57" width="4.40" height="5.60" fill="#f6f6f6"/>
<rect x="215.70" y="384.52" width="4.40" height="5.60" fill="#f6f6f6"/>
<rect x="221.16" y="384.52" width="4.40" height="5.60" fill="#f6f6f6"/>
<rect x="226.61" y="384.52" width="4.40" height="5.60" fill="#f6f6f6"/>
<rect x="232.07" y="384.52" width="4.40" height="5.60" fill="#f6f6f6"/>
<rect x="237.53" y="384.52" width="4.40" height="5.60" fill="#f6f6f6"/>
<rect x="242.98" y="384.52" width="4.40" height="5.60" fill="#f6f6f6"/>
<rect x="248.44" y="384.52" width="4.40" height="5.60" fill="#f6f6f6"/>
<rect x="253.90" y="384.52" width="4.40" height="5.60" fill="#f6f6f6"/>
<rect x="259.36" y="384.52" width="4.40" height="5.60" fill="#f6f6f6"/>
<rect x="264.81" y="384.52" width="4.40" height="5.60" fill="#f2900f"/>
<rect x="270.27" y="384.52" width="4.40" height="5.60" fill="#f6f6f6"/>
<rect x="275.73" y="384.52" width="4.40" height="5.60" fill="#f6f6f6"/>
<rect x="281.18" y="384.52" width="4.40" height="5.60" fill="#f6f6f6"/>
<rect x="286.64" y="384.52" width="4.40" height="5.60" fill="#f6f6f6"/>
<rect x="292.10" y="384.52" width="4.40" height="5.60" fill="#f6f6f6"/>
<rect x="297.56" y="384.52" width="4.40" height="5.60" fill="#f6f6f6"/>
<rect x="303.01" y="384.52" width="4.40" height="5.60" fill="#f6f6f6"/>
<rect x="308.47" y="384.52" width="4.40" height="5.60" fill="#f6f6f6"/>
<rect x="313.93" y="384.52" width="4.40" height="5.60" fill="#f6f6f6"/>
<rect x="319.38" y="384.52" width="4.40" height="5.60" fill="#f6f6f6"/>
<rect x="324.84" y="384.52" width="4.40" height="5.60" fill="#f6f6f6"/>
<rect x="330.30" y="384.52" width="4.40" height="5.60" fill="#f6f6f6"/>
<rect x="335.75" y="384.52" width="4.40" height="5.60" fill="#f6f6f6"/>
<rect x="341.21" y="384.52" width="4.40" height="5.60" fill="#f6f6f6"/>
<rect x="346.67" y="384.52" width="4.40" height="5.60" fill="#f6f6f6"/>
<rect x="352.12" y="384.52" width="4.40" height="5.60" fill="#f6f6f6"/>
<rect x="357.58" y="384.52" width="4.40" height="5.60" fill="#f6f6f6"/>
<rect x="363.04" y="384.52" width="4.40" height="5.60" fill="#f6f6f6"/>
<rect x="368.60" y="384.52" width="4.40" height="5.60" fill="#f6f6f6"/>
<rect x="374.06" y="384.52" width="4.40" height="5.60" fill="#f6f6f6"/>
<rect x="379.51" y="384.52" width="4.40" height="5.60" fill="#f6f6f6"/>
<rect x="384.97" y="384.52" width="4.40" height="5.60" fill="#f6f6f6"/>
<rect x="390.43" y="384.52" width="4.40" height="5.60" fill="#f6f6f6"/>
<rect x="395.89" y="384.52" width="4.40" height="5.60" fill="#f6f6f6"/>
<rect x="401.34" y="384.52" width="4.40" height="5.60" fill="#f6f6f6"/>
<rect x="406.80" y="384.52" width="4.40" height="5.60" fill="#f6f6f6"/>
<rect x="412.26" y="384.52" width="4.40" height="5.60" fill="#f6f6f6"/>
<rect x="417.71" y="384.52" width="4.40" height="5.60" fill="#f6f6f6"/>
<rect x="423.17" y="384.52" width="4.40" height="5.60" fill="#f6f6f6"/>
<rect x="428.63" y="384.52" width="4.40" height="5.60" fill="#f6f6f6"/>
<rect x="434.08" y="384.52" width="4.40" height="5.60" fill="#f6f6f6"/>
<rect x="439.54" y="384.52" width="4.40" height="5.60" fill="#f6f6f6"/>
<rect x="445.00" y="384.52" width="4.40" height="5.60" fill="#f6f6f6"/>
<rect x="450.46" y="384.52" width="4.40" height="5.60" fill="#f6f6f6"/>
<rect x="215.70" y="391.47" width="4.40" height="5.60" fill="#f6f6f6"/>
<rect x="221.16" y="391.47" width="4.40" height="5.60" fill="#f6f6f6"/>
<rect x="226.61" y="391.47" width="4.40" height="5.60" fill="#f6f6f6"/>
<rect x="232.07" y="391.47" width="4.40" height="5.60" fill="#f6f6f6"/>
<rect x="237.53" y="391.47" width="4.40" height="5.60" fill="#f6f6f6"/>
<rect x="242.98" y="391.47" width="4.40" height="5.60" fill="#f6f6f6"/>
<rect x="248.44" y="391.47" width="4.40" height="5.60" fill="#f6f6f6"/>
<rect x="253.90" y="391.47" width="4.40" height="5.60" fill="#f6f6f6"/>
<rect x="259.36" y="391.47" width="4.40" height="5.60" fill="#f6f6f6"/>
<rect x="264.81" y="391.47" width="4.40" height="5.60" fill="#f6f6f6"/>
<rect x="270.27" y="391.47" width="4.40" height="5.60" fill="#f6f6f6"/>
<rect x="275.73" y="391.47" width="4.40" height="5.60" fill="#f6f6f6"/>
<rect x="281.18" y="391.47" width="4.40" height="5.60" fill="#f6f6f6"/>
<rect x="286.64" y="391.47" width="4.40" height="5.60" fill="#f6f6f6"/>
<rect x="292.10" y="391.47" width="4.40" height="5.60" fill="#f6f6f6"/>
<rect x="297.56" y="391.47" width="4.40" height="5.60" fill="#f6f6f6"/>
<rect x="303.01" y="391.47" width="4.40" height="5.60" fill="#f6f6f6"/>
<rect x="308.47" y="391.47" width="4.40" height="5.60" fill="#f6f6f6"/>
<rect x="313.93" y="391.47" width="4.40" height="5.60" fill="#f6f6f6"/>
<rect x="319.38" y="391.47" width="4.40" height="5.60" fill="#f6f6f6"/>
<rect x="324.84" y="391.47" width="4.40" height="5.60" fill="#f6f6f6"/>
<rect x="330.30" y="391.47" width="4.40" height="5.60" fill="#f6f6f6"/>
<rect x="335.75" y="391.47" width="4.40" height="5.60" fill="#f6f6f6"/>
<rect x="341.21" y="391.47" width="4.40" height="5.60" fill="#f6f6f6"/>
<rect x="346.67" y="391.47" width="4.40" height="5.60" fill="#f6f6f6"/>
<rect x="352.12" y="391.47" width="4.40" height="5.60" fill="#f6f6f6"/>
<rect x="357.58" y="391.47" width="4.40" height="5.60" fill="#f6f6f6"/>
<rect x="363.04" y="391.47" width="4.40" height="5.60" fill="#f6f6f6"/>
<rect x="368.60" y="391.47" width="4.40" height="5.60" fill="#f6f6f6"/>
<rect x="374.06" y="391.47" width="4.40" height="5.60" fill="#f6f6f6"/>
<rect x="379.51" y="391.47" width="4.40" height="5.60" fill="#f6f6f6"/>
<rect x="384.97" y="391.47" width="4.40" height="5.60" fill="#2c943c"/>
<rect x="390.43" y="391.47" width="4.40" height="5.60" fill="#f6f6f6"/>
<rect x="395.89" y="391.47" width="4.40" height="5.60" fill="#f6f6f6"/>
<rect x="401.34" y="391.47" width="4.40" height="5.60" fill="#f6f6f6"/>
<rect x="406.80" y="391.47" width="4.40" height="5.60" fill="#f6f6f6"/>
<rect x="412.26" y="391.47" width="4.40" height="5.60" fill="#f6f6f6"/>
<rect x="417.71" y="391.47" width="4.40" height="5.60" fill="#f6f6f6"/>
<rect x="423.17" y="391.47" width="4.40" height="5.60" fill="#f6f6f6"/>
<rect x="428.63" y="391.47" width="4.40" height="5.60" fill="#f6f6f6"/>
<rect x="434.08" y="391.47" width="4.40" height="5.60" fill="#f6f6f6"/>
<rect x="439.54" y="391.47" width="4.40" height="5.60" fill="#f6f6f6"/>
<rect x="445.00" y="391.47" width="4.40" height="5.60" fill="#f6f6f6"/>
<rect x="450.46" y="391.47" width="4.40" height="5.60" fill="#f6f6f6"/>
<rect x="215.70" y="398.41" width="4.40" height="5.60" fill="#f6f6f6"/>
<rect x="221.16" y="398.41" width="4.40" height="5.60" fill="#f6f6f6"/>
<rect x="226.61" y="398.41" width="4.40" height="5.60" fill="#f6f6f6"/>
<rect x="232.07" y="398.41" width="4.40" height="5.60" fill="#f6f6f6"/>
<rect x="237.53" y="398.41" width="4.40" height="5.60" fill="#f6f6f6"/>
<rect x="242.98" y="398.41" width="4.40" height="5.60" fill="#f6f6f6"/>
<rect x="248.44" y="398.41" width="4.40" height="5.60" fill="#f6f6f6"/>
<rect x="253.90" y="398.41" width="4.40" height="5.60" fill="#f6f6f6"/>
<rect x="259.36" y="398.41" width="4.40" height="5.60" fill="#f6f6f6"/>
<rect x="264.81" y="398.41" width="4.40" height="5.60" fill="#f6f6f6"/>
<rect x="270.27" y="398.41" width="4.40" height="5.60" fill="#f6f6f6"/>
<rect x="275.73" y="398.41" width="4.40" height="5.60" fill="#f6f6f6"/>
<rect x="281.18" y="398.41" width="4.40" height="5.60" fill="#f6f6f6"/>
<rect x="286.64" y="398.41" width="4.40" height="5.60" fill="#f6f6f6"/>
<rect x="292.10" y="398.41" width="4.40" height="5.60" fill="#f6f6f6"/>
<rect x="297.56" y="398.41" width="4.40" height="5.60" fill="#f6f6f6"/>
<rect x="303.01" y="398.41" width="4.40" height="5.60" fill="#f6f6f6"/>
<rect x="308.47" y="398.41" width="4.40" height="5.60" fill="#f6f6f6"/>
<rect x="313.93" y="398.41" width="4.40" height="5.60" fill="#f6f6f6"/>
<rect x="319.38" y="398.41" width="4.40" height="5.60" fill="#f6f6f6"/>
<rect x="324.84" y="398.41" width="4.40" height="5.60" fill="#f2900f"/>
<rect x="330.30" y="398.41" width="4.40" height="5.60" fill="#f6f6f6"/>
<rect x="335.75" y="398.41" width="4.40" height="5.60" fill="#f6f6f6"/>
<rect x="341.21" y="398.41" width="4.40" height="5.60" fill="#f6f6f6"/>
<rect x="346.67" y="398.41" width="4.40" height="5.60" fill="#f6f6f6"/>
<rect x="352.12" y="398.41" width="4.40" height="5.60" fill="#f6f6f6"/>
<rect x="357.58" y="398.41" width="4.40" height="5.60" fill="#f6f6f6"/>
<rect x="363.04" y="398.41" width="4.40" height="5.60" fill="#f6f6f6"/>
<rect x="368.60" y="398.41" width="4.40" height="5.60" fill="#f6f6f6"/>
<rect x="374.06" y="398.41" width="4.40" height="5.60" fill="#f6f6f6"/>
<rect x="379.51" y="398.41" width="4.40" height="5.60" fill="#f6f6f6"/>
<rect x="384.97" y="398.41" width="4.40" height="5.60" fill="#f6f6f6"/>
<rect x="390.43" y="398.41" width="4.40" height="5.60" fill="#f6f6f6"/>
<rect x="395.89" y="398.41" width="4.40" height="5.60" fill="#f6f6f6"/>
<rect x="401.34" y="398.41" width="4.40" height="5.60" fill="#f6f6f6"/>
<rect x="406.80" y="398.41" width="4.40" height="5.60" fill="#f6f6f6"/>
<rect x="412.26" y="398.41" width="4.40" height="5.60" fill="#f6f6f6"/>
<rect x="417.71" y="398.41" width="4.40" height="5.60" fill="#f6f6f6"/>
<rect x="423.17" y="398.41" width="4.40" height="5.60" fill="#f6f6f6"/>
<rect x="428.63" y="398.41" width="4.40" height="5.60" fill="#f6f6f6"/>
<rect x="434.08" y="398.41" width="4.40" height="5.60" fill="#f6f6f6"/>
<rect x="439.54" y="398.41" width="4.40" height="5.60" fill="#f6f6f6"/>
<rect x="445.00" y="398.41" width="4.40" height="5.60" fill="#f6f6f6"/>
<rect x="450.46" y="398.41" width="4.40" height="5.60" fill="#f6f6f6"/>
<rect x="215.70" y="405.36" width="4.40" height="5.60" fill="#f6f6f6"/>
<rect x="221.16" y="405.36" width="4.40" height="5.60" fill="#f6f6f6"/>
<rect x="226.61" y="405.36" width="4.40" height="5.60" fill="#f6f6f6"/>
<rect x="232.07" y="405.36" width="4.40" height="5.60" fill="#f6f6f6"/>
<rect x="237.53" y="405.36" width="4.40" height="5.60" fill="#f6f6f6"/>
<rect x="242.98" y="405.36" width="4.40" height="5.60" fill="#f6f6f6"/>
<rect x="248.44" y="405.36" width="4.40" height="5.60" fill="#f6f6f6"/>
<rect x="253.90" y="405.36" width="4.40" height="5.60" fill="#f6f6f6"/>
<rect x="259.36" y="405.36" width="4.40" height="5.60" fill="#f6f6f6"/>
<rect x="264.81" y="405.36" width="4.40" height="5.60" fill="#f6f6f6"/>
<rect x="270.27" y="405.36" width="4.40" height="5.60" fill="#f6f6f6"/>
<rect x="275.73" y="405.36" width="4.40" height="5.60" fill="#f6f6f6"/>
<rect x="281.18" y="405.36" width="4.40" height="5.60" fill="#f6f6f6"/>
<rect x="286.64" y="405.36" width="4.40" height="5.60" fill="#f6f6f6"/>
<rect x="292.10" y="405.36" width="4.40" height="5.60" fill="#f6f6f6"/>
<rect x="297.56" y="405.36" width="4.40" height="5.60" fill="#f6f6f6"/>
<rect x="303.01" y="405.36" width="4.40" height="5.60" fill="#f6f6f6"/>
<rect x="308.47" y="405.36" width="4.40" height="5.60" fill="#f6f6f6"/>
<rect x="313.93" y="405.36" width="4.40" height="5.60" fill="#f6f6f6"/>
<rect x="319.38" y="405.36" width="4.40" height="5.60" fill="#f2900f"/>
<rect x="324.84" y="405.36" width="4.40" height="5.60" fill="#f6f6f6"/>
<rect x="330.30" y="405.36" width="4.40" height="5.60" fill="#f6f6f6"/>
<rect x="335.75" y="405.36" width="4.40" height="5.60" fill="#f6f6f6"/>
<rect x="341.21" y="405.36" width="4.40" height="5.60" fill="#f6f6f6"/>
<rect x="346.67" y="405.36" width="4.40" height="5.60" fill="#f6f6f6"/>
<rect x="352.12" y="405.36" width="4.40" height="5.60" fill="#f6f6f6"/>
<rect x="357.58" y="405.36" width="4.40" height="5.60" fill="#f6f6f6"/>
<rect x="363.04" y="405.36" width="4.40" height="5.60" fill="#f6f6f6"/>
<rect x="368.60" y="405.36" width="4.40" height="5.60" fill="#f6f6f6"/>
<rect x="374.06" y="405.36" width="4.40" height="5.60" fill="#f6f6f6"/>
<rect x="379.51" y="405.36" width="4.40" height="5.60" fill="#f6f6f6"/>
<rect x="384.97" y="405.36" width="4.40" height="5.60" fill="#f6f6f6"/>
<rect x="390.43" y="405.36" width="4.40" height="5.60" fill="#f6f6f6"/>
<rect x="395.89" y="405.36" width="4.40" height="5.60" fill="#f6f6f6"/>
<rect x="401.34" y="405.36" width="4.40" height="5.60" fill="#f6f6f6"/>
<rect x="406.80" y="405.36" width="4.40" height="5.60" fill="#f6f6f6"/>
<rect x="412.26" y="405.36" width="4.40" height="5.60" fill="#f6f6f6"/>
<rect x="417.71" y="405.36" width="4.40" height="5.60" fill="#f6f6f6"/>
<rect x="423.17" y="405.36" width="4.40" height="5.60" fill="#f6f6f6"/>
<rect x="428.63" y="405.36" width="4.40" height="5.60" fill="#f6f6f6"/>
<rect x="434.08" y="405.36" width="4.40" height="5.60" fill="#f6f6f6"/>
<rect x="439.54" y="405.36" width="4.40" height="5.60" fill="#f6f6f6"/>
<rect x="445.00" y="405.36" width="4.40" height="5.60" fill="#f6f6f6"/>
<rect x="450.46" y="405.36" width="4.40" height="5.60" fill="#f6f6f6"/>
<rect x="215.70" y="412.30" width="4.40" height="5.60" fill="#f6f6f6"/>
<rect x="221.16" y="412.30" width="4.40" height="5.60" fill="#f6f6f6"/>
<rect x="226.61" y="412.30" width="4.40" height="5.60" fill="#f6f6f6"/>
<rect x="232.07" y="412.30" width="4.40" height="5.60" fill="#f2900f"/>
<rect x="237.53" y="412.30" width="4.40" height="5.60" fill="#f6f6f6"/>
<rect x="242.98" y="412.30" width="4.40" height="5.60" fill="#f6f6f6"/>
<rect x="248.44" y="412.30" width="4.40" height="5.60" fill="#f6f6f6"/>
<rect x="253.90" y="412.30" width="4.40" height="5.60" fill="#f6f6f6"/>
<rect x="259.36" y="412.30" width="4.40" height="5.60" fill="#f6f6f6"/>
<rect x="264.81" y="412.30" width="4.40" height="5.60" fill="#f6f6f6"/>
<rect x="270.27" y="412.30" width="4.40" height="5.60" fill="#f6f6f6"/>
<rect x="275.73" y="412.30" width="4.40" height="5.60" fill="#f6f6f6"/>
<rect x="281.18" y="412.30" width="4.40" height="5.60" fill="#f6f6f6"/>
<rect x="286.64" y="412.30" width="4.40" height="5.60" fill="#f6f6f6"/>
<rect x="292.10" y="412.30" width="4.40" height="5.60" fill="#f6f6f6"/>
<rect x="297.56" y="412.30" width="4.40" height="5.60" fill="#f6f6f6"/>
<rect x="303.01" y="412.30" width="4.40" height="5.60" fill="#f6f6f6"/>
<rect x="308.47" y="412.30" width="4.40" height="5.60" fill="#f6f6f6"/>
<rect x="313.93" y="412.30" width="4.40" height="5.60" fill="#f6f6f6"/>
<rect x="319.38" y="412.30" width="4.40" height="5.60" fill="#f2900f"/>
<rect x="324.84" y="412.30" width="4.40" height="5.60" fill="#f6f6f6"/>
<rect x="330.30" y="412.30" width="4.40" height="5.60" fill="#f2900f"/>
<rect x="335.75" y="412.30" width="4.40" height="5.60" fill="#f6f6f6"/>
<rect x="341.21" y="412.30" width="4.40" height="5.60" fill="#f6f6f6"/>
<rect x="346.67" y="412.30" width="4.40" height="5.60" fill="#f6f6f6"/>
<rect x="352.12" y="412.30" width="4.40" height="5.60" fill="#f6f6f6"/>
<rect x="357.58" y="412.30" width="4.40" height="5.60" fill="#f6f6f6"/>
<rect x="363.04" y="412.30" width="4.40" height="5.60" fill="#f6f6f6"/>
<rect x="368.60" y="412.30" width="4.40" height="5.60" fill="#f6f6f6"/>
<rect x="374.06" y="412.30" width="4.40" height="5.60" fill="#f6f6f6"/>
<rect x="379.51" y="412.30" width="4.40" height="5.60" fill="#f6f6f6"/>
<rect x="384.97" y="412.30" width="4.40" height="5.60" fill="#f6f6f6"/>
<rect x="390.43" y="412.30" width="4.40" height="5.60" fill="#f6f6f6"/>
<rect x="395.89" y="412.30" width="4.40" height="5.60" fill="#f6f6f6"/>
<rect x="401.34" y="412.30" width="4.40" height="5.60" fill="#f6f6f6"/>
<rect x="406.80" y="412.30" width="4.40" height="5.60" fill="#f6f6f6"/>
<rect x="412.26" y="412.30" width="4.40" height="5.60" fill="#f6f6f6"/>
<rect x="417.71" y="412.30" width="4.40" height="5.60" fill="#f2900f"/>
<rect x="423.17" y="412.30" width="4.40" height="5.60" fill="#f6f6f6"/>
<rect x="428.63" y="412.30" width="4.40" height="5.60" fill="#f6f6f6"/>
<rect x="434.08" y="412.30" width="4.40" height="5.60" fill="#f6f6f6"/>
<rect x="439.54" y="412.30" width="4.40" height="5.60" fill="#f6f6f6"/>
<rect x="445.00" y="412.30" width="4.40" height="5.60" fill="#f6f6f6"/>
<rect x="450.46" y="412.30" width="4.40" height="5.60" fill="#f6f6f6"/>
<rect x="215.70" y="419.25" width="4.40" height="5.60" fill="#f6f6f6"/>
<rect x="221.16" y="419.25" width="4.40" height="5.60" fill="#f6f6f6"/>
<rect x="226.61" y="419.25" width="4.40" height="5.60" fill="#f6f6f6"/>
<rect x="232.07" y="419.25" width="4.40" height="5.60" fill="#f6f6f6"/>
<rect x="237.53" y="419.25" width="4.40" height="5.60" fill="#f6f6f6"/>
<rect x="242.98" y="419.25" width="4.40" height="5.60" fill="#f6f6f6"/>
<rect x="248.44" y="419.25" width="4.40" height="5.60" fill="#f2900f"/>
<text x="250.64" y="423.55" font-size="4.6" text-anchor="middle" style="fill:#6b3a08;stroke:#6b3a08;stroke-width:0.1px">2</text>
<rect x="253.90" y="419.25" width="4.40" height="5.60" fill="#f6f6f6"/>
<rect x="259.36" y="419.25" width="4.40" height="5.60" fill="#f6f6f6"/>
<rect x="264.81" y="419.25" width="4.40" height="5.60" fill="#f6f6f6"/>
<rect x="270.27" y="419.25" width="4.40" height="5.60" fill="#f6f6f6"/>
<rect x="275.73" y="419.25" width="4.40" height="5.60" fill="#f6f6f6"/>
<rect x="281.18" y="419.25" width="4.40" height="5.60" fill="#f6f6f6"/>
<rect x="286.64" y="419.25" width="4.40" height="5.60" fill="#f6f6f6"/>
<rect x="292.10" y="419.25" width="4.40" height="5.60" fill="#f6f6f6"/>
<rect x="297.56" y="419.25" width="4.40" height="5.60" fill="#f6f6f6"/>
<rect x="303.01" y="419.25" width="4.40" height="5.60" fill="#f6f6f6"/>
<rect x="308.47" y="419.25" width="4.40" height="5.60" fill="#f6f6f6"/>
<rect x="313.93" y="419.25" width="4.40" height="5.60" fill="#f6f6f6"/>
<rect x="319.38" y="419.25" width="4.40" height="5.60" fill="#f6f6f6"/>
<rect x="324.84" y="419.25" width="4.40" height="5.60" fill="#f6f6f6"/>
<rect x="330.30" y="419.25" width="4.40" height="5.60" fill="#f6f6f6"/>
<rect x="335.75" y="419.25" width="4.40" height="5.60" fill="#f6f6f6"/>
<rect x="341.21" y="419.25" width="4.40" height="5.60" fill="#f6f6f6"/>
<rect x="346.67" y="419.25" width="4.40" height="5.60" fill="#f6f6f6"/>
<rect x="352.12" y="419.25" width="4.40" height="5.60" fill="#f6f6f6"/>
<rect x="357.58" y="419.25" width="4.40" height="5.60" fill="#f6f6f6"/>
<rect x="363.04" y="419.25" width="4.40" height="5.60" fill="#f6f6f6"/>
<rect x="368.60" y="419.25" width="4.40" height="5.60" fill="#f6f6f6"/>
<rect x="374.06" y="419.25" width="4.40" height="5.60" fill="#f6f6f6"/>
<rect x="379.51" y="419.25" width="4.40" height="5.60" fill="#f6f6f6"/>
<rect x="384.97" y="419.25" width="4.40" height="5.60" fill="#f6f6f6"/>
<rect x="390.43" y="419.25" width="4.40" height="5.60" fill="#f6f6f6"/>
<rect x="395.89" y="419.25" width="4.40" height="5.60" fill="#f6f6f6"/>
<rect x="401.34" y="419.25" width="4.40" height="5.60" fill="#f6f6f6"/>
<rect x="406.80" y="419.25" width="4.40" height="5.60" fill="#f6f6f6"/>
<rect x="412.26" y="419.25" width="4.40" height="5.60" fill="#f6f6f6"/>
<rect x="417.71" y="419.25" width="4.40" height="5.60" fill="#f6f6f6"/>
<rect x="423.17" y="419.25" width="4.40" height="5.60" fill="#f6f6f6"/>
<rect x="428.63" y="419.25" width="4.40" height="5.60" fill="#f6f6f6"/>
<rect x="434.08" y="419.25" width="4.40" height="5.60" fill="#f6f6f6"/>
<rect x="439.54" y="419.25" width="4.40" height="5.60" fill="#f6f6f6"/>
<rect x="445.00" y="419.25" width="4.40" height="5.60" fill="#f6f6f6"/>
<rect x="450.46" y="419.25" width="4.40" height="5.60" fill="#f6f6f6"/>
<rect x="215.70" y="426.20" width="4.40" height="5.60" fill="#f6f6f6"/>
<rect x="221.16" y="426.20" width="4.40" height="5.60" fill="#f6f6f6"/>
<rect x="226.61" y="426.20" width="4.40" height="5.60" fill="#f6f6f6"/>
<rect x="232.07" y="426.20" width="4.40" height="5.60" fill="#f6f6f6"/>
<rect x="237.53" y="426.20" width="4.40" height="5.60" fill="#f6f6f6"/>
<rect x="242.98" y="426.20" width="4.40" height="5.60" fill="#f6f6f6"/>
<rect x="248.44" y="426.20" width="4.40" height="5.60" fill="#f6f6f6"/>
<rect x="253.90" y="426.20" width="4.40" height="5.60" fill="#f6f6f6"/>
<rect x="259.36" y="426.20" width="4.40" height="5.60" fill="#f6f6f6"/>
<rect x="264.81" y="426.20" width="4.40" height="5.60" fill="#f6f6f6"/>
<rect x="270.27" y="426.20" width="4.40" height="5.60" fill="#f6f6f6"/>
<rect x="275.73" y="426.20" width="4.40" height="5.60" fill="#f6f6f6"/>
<rect x="281.18" y="426.20" width="4.40" height="5.60" fill="#f6f6f6"/>
<rect x="286.64" y="426.20" width="4.40" height="5.60" fill="#f6f6f6"/>
<rect x="292.10" y="426.20" width="4.40" height="5.60" fill="#f6f6f6"/>
<rect x="297.56" y="426.20" width="4.40" height="5.60" fill="#f2900f"/>
<rect x="303.01" y="426.20" width="4.40" height="5.60" fill="#f6f6f6"/>
<rect x="308.47" y="426.20" width="4.40" height="5.60" fill="#f6f6f6"/>
<rect x="313.93" y="426.20" width="4.40" height="5.60" fill="#f6f6f6"/>
<rect x="319.38" y="426.20" width="4.40" height="5.60" fill="#f6f6f6"/>
<rect x="324.84" y="426.20" width="4.40" height="5.60" fill="#f6f6f6"/>
<rect x="330.30" y="426.20" width="4.40" height="5.60" fill="#f6f6f6"/>
<rect x="335.75" y="426.20" width="4.40" height="5.60" fill="#f6f6f6"/>
<rect x="341.21" y="426.20" width="4.40" height="5.60" fill="#f6f6f6"/>
<rect x="346.67" y="426.20" width="4.40" height="5.60" fill="#f6f6f6"/>
<rect x="352.12" y="426.20" width="4.40" height="5.60" fill="#f6f6f6"/>
<rect x="357.58" y="426.20" width="4.40" height="5.60" fill="#f6f6f6"/>
<rect x="363.04" y="426.20" width="4.40" height="5.60" fill="#f6f6f6"/>
<rect x="368.60" y="426.20" width="4.40" height="5.60" fill="#2c943c"/>
<rect x="374.06" y="426.20" width="4.40" height="5.60" fill="#2c943c"/>
<rect x="379.51" y="426.20" width="4.40" height="5.60" fill="#2c943c"/>
<rect x="384.97" y="426.20" width="4.40" height="5.60" fill="#f6f6f6"/>
<rect x="390.43" y="426.20" width="4.40" height="5.60" fill="#f6f6f6"/>
<rect x="395.89" y="426.20" width="4.40" height="5.60" fill="#f6f6f6"/>
<rect x="401.34" y="426.20" width="4.40" height="5.60" fill="#f6f6f6"/>
<rect x="406.80" y="426.20" width="4.40" height="5.60" fill="#2c943c"/>
<rect x="412.26" y="426.20" width="4.40" height="5.60" fill="#f6f6f6"/>
<rect x="417.71" y="426.20" width="4.40" height="5.60" fill="#2c943c"/>
<rect x="423.17" y="426.20" width="4.40" height="5.60" fill="#f6f6f6"/>
<rect x="428.63" y="426.20" width="4.40" height="5.60" fill="#f6f6f6"/>
<rect x="434.08" y="426.20" width="4.40" height="5.60" fill="#f6f6f6"/>
<rect x="439.54" y="426.20" width="4.40" height="5.60" fill="#f6f6f6"/>
<rect x="445.00" y="426.20" width="4.40" height="5.60" fill="#f6f6f6"/>
<rect x="450.46" y="426.20" width="4.40" height="5.60" fill="#f6f6f6"/>
<rect x="215.70" y="433.14" width="4.40" height="5.60" fill="#f6f6f6"/>
<rect x="221.16" y="433.14" width="4.40" height="5.60" fill="#f6f6f6"/>
<rect x="226.61" y="433.14" width="4.40" height="5.60" fill="#f6f6f6"/>
<rect x="232.07" y="433.14" width="4.40" height="5.60" fill="#f6f6f6"/>
<rect x="237.53" y="433.14" width="4.40" height="5.60" fill="#f6f6f6"/>
<rect x="242.98" y="433.14" width="4.40" height="5.60" fill="#f6f6f6"/>
<rect x="248.44" y="433.14" width="4.40" height="5.60" fill="#f6f6f6"/>
<rect x="253.90" y="433.14" width="4.40" height="5.60" fill="#f6f6f6"/>
<rect x="259.36" y="433.14" width="4.40" height="5.60" fill="#f6f6f6"/>
<rect x="264.81" y="433.14" width="4.40" height="5.60" fill="#f6f6f6"/>
<rect x="270.27" y="433.14" width="4.40" height="5.60" fill="#f6f6f6"/>
<rect x="275.73" y="433.14" width="4.40" height="5.60" fill="#f6f6f6"/>
<rect x="281.18" y="433.14" width="4.40" height="5.60" fill="#f2900f"/>
<rect x="286.64" y="433.14" width="4.40" height="5.60" fill="#f6f6f6"/>
<rect x="292.10" y="433.14" width="4.40" height="5.60" fill="#f6f6f6"/>
<rect x="297.56" y="433.14" width="4.40" height="5.60" fill="#f6f6f6"/>
<rect x="303.01" y="433.14" width="4.40" height="5.60" fill="#f6f6f6"/>
<rect x="308.47" y="433.14" width="4.40" height="5.60" fill="#f6f6f6"/>
<rect x="313.93" y="433.14" width="4.40" height="5.60" fill="#f6f6f6"/>
<rect x="319.38" y="433.14" width="4.40" height="5.60" fill="#f6f6f6"/>
<rect x="324.84" y="433.14" width="4.40" height="5.60" fill="#f6f6f6"/>
<rect x="330.30" y="433.14" width="4.40" height="5.60" fill="#f6f6f6"/>
<rect x="335.75" y="433.14" width="4.40" height="5.60" fill="#f6f6f6"/>
<rect x="341.21" y="433.14" width="4.40" height="5.60" fill="#f6f6f6"/>
<rect x="346.67" y="433.14" width="4.40" height="5.60" fill="#f6f6f6"/>
<rect x="352.12" y="433.14" width="4.40" height="5.60" fill="#f6f6f6"/>
<rect x="357.58" y="433.14" width="4.40" height="5.60" fill="#f6f6f6"/>
<rect x="363.04" y="433.14" width="4.40" height="5.60" fill="#f6f6f6"/>
<rect x="368.60" y="433.14" width="4.40" height="5.60" fill="#f6f6f6"/>
<rect x="374.06" y="433.14" width="4.40" height="5.60" fill="#f6f6f6"/>
<rect x="379.51" y="433.14" width="4.40" height="5.60" fill="#f6f6f6"/>
<rect x="384.97" y="433.14" width="4.40" height="5.60" fill="#f6f6f6"/>
<rect x="390.43" y="433.14" width="4.40" height="5.60" fill="#f6f6f6"/>
<rect x="395.89" y="433.14" width="4.40" height="5.60" fill="#f6f6f6"/>
<rect x="401.34" y="433.14" width="4.40" height="5.60" fill="#f6f6f6"/>
<rect x="406.80" y="433.14" width="4.40" height="5.60" fill="#f6f6f6"/>
<rect x="412.26" y="433.14" width="4.40" height="5.60" fill="#f6f6f6"/>
<rect x="417.71" y="433.14" width="4.40" height="5.60" fill="#f6f6f6"/>
<rect x="423.17" y="433.14" width="4.40" height="5.60" fill="#f6f6f6"/>
<rect x="428.63" y="433.14" width="4.40" height="5.60" fill="#f6f6f6"/>
<rect x="434.08" y="433.14" width="4.40" height="5.60" fill="#f6f6f6"/>
<rect x="439.54" y="433.14" width="4.40" height="5.60" fill="#f6f6f6"/>
<rect x="445.00" y="433.14" width="4.40" height="5.60" fill="#f6f6f6"/>
<rect x="450.46" y="433.14" width="4.40" height="5.60" fill="#f6f6f6"/>
<rect x="215.70" y="440.09" width="4.40" height="5.60" fill="#f6f6f6"/>
<rect x="221.16" y="440.09" width="4.40" height="5.60" fill="#f6f6f6"/>
<rect x="226.61" y="440.09" width="4.40" height="5.60" fill="#f6f6f6"/>
<rect x="232.07" y="440.09" width="4.40" height="5.60" fill="#f6f6f6"/>
<rect x="237.53" y="440.09" width="4.40" height="5.60" fill="#f6f6f6"/>
<rect x="242.98" y="440.09" width="4.40" height="5.60" fill="#f6f6f6"/>
<rect x="248.44" y="440.09" width="4.40" height="5.60" fill="#f6f6f6"/>
<rect x="253.90" y="440.09" width="4.40" height="5.60" fill="#f6f6f6"/>
<rect x="259.36" y="440.09" width="4.40" height="5.60" fill="#f6f6f6"/>
<rect x="264.81" y="440.09" width="4.40" height="5.60" fill="#f6f6f6"/>
<rect x="270.27" y="440.09" width="4.40" height="5.60" fill="#f6f6f6"/>
<rect x="275.73" y="440.09" width="4.40" height="5.60" fill="#f6f6f6"/>
<rect x="281.18" y="440.09" width="4.40" height="5.60" fill="#f6f6f6"/>
<rect x="286.64" y="440.09" width="4.40" height="5.60" fill="#f6f6f6"/>
<rect x="292.10" y="440.09" width="4.40" height="5.60" fill="#f6f6f6"/>
<rect x="297.56" y="440.09" width="4.40" height="5.60" fill="#f2900f"/>
<rect x="303.01" y="440.09" width="4.40" height="5.60" fill="#f6f6f6"/>
<rect x="308.47" y="440.09" width="4.40" height="5.60" fill="#f6f6f6"/>
<rect x="313.93" y="440.09" width="4.40" height="5.60" fill="#f6f6f6"/>
<rect x="319.38" y="440.09" width="4.40" height="5.60" fill="#f6f6f6"/>
<rect x="324.84" y="440.09" width="4.40" height="5.60" fill="#f6f6f6"/>
<rect x="330.30" y="440.09" width="4.40" height="5.60" fill="#f6f6f6"/>
<rect x="335.75" y="440.09" width="4.40" height="5.60" fill="#f6f6f6"/>
<rect x="341.21" y="440.09" width="4.40" height="5.60" fill="#f6f6f6"/>
<rect x="346.67" y="440.09" width="4.40" height="5.60" fill="#f6f6f6"/>
<rect x="352.12" y="440.09" width="4.40" height="5.60" fill="#f6f6f6"/>
<rect x="357.58" y="440.09" width="4.40" height="5.60" fill="#f6f6f6"/>
<rect x="363.04" y="440.09" width="4.40" height="5.60" fill="#f6f6f6"/>
<rect x="368.60" y="440.09" width="4.40" height="5.60" fill="#f6f6f6"/>
<rect x="374.06" y="440.09" width="4.40" height="5.60" fill="#f6f6f6"/>
<rect x="379.51" y="440.09" width="4.40" height="5.60" fill="#f6f6f6"/>
<rect x="384.97" y="440.09" width="4.40" height="5.60" fill="#f6f6f6"/>
<rect x="390.43" y="440.09" width="4.40" height="5.60" fill="#f6f6f6"/>
<rect x="395.89" y="440.09" width="4.40" height="5.60" fill="#2c943c"/>
<rect x="401.34" y="440.09" width="4.40" height="5.60" fill="#2c943c"/>
<rect x="406.80" y="440.09" width="4.40" height="5.60" fill="#f6f6f6"/>
<rect x="412.26" y="440.09" width="4.40" height="5.60" fill="#f6f6f6"/>
<rect x="417.71" y="440.09" width="4.40" height="5.60" fill="#f6f6f6"/>
<rect x="423.17" y="440.09" width="4.40" height="5.60" fill="#f6f6f6"/>
<rect x="428.63" y="440.09" width="4.40" height="5.60" fill="#f6f6f6"/>
<rect x="434.08" y="440.09" width="4.40" height="5.60" fill="#2c943c"/>
<rect x="439.54" y="440.09" width="4.40" height="5.60" fill="#f6f6f6"/>
<rect x="445.00" y="440.09" width="4.40" height="5.60" fill="#f6f6f6"/>
<rect x="450.46" y="440.09" width="4.40" height="5.60" fill="#f6f6f6"/>
<rect x="215.70" y="447.03" width="4.40" height="5.60" fill="#f6f6f6"/>
<rect x="221.16" y="447.03" width="4.40" height="5.60" fill="#f6f6f6"/>
<rect x="226.61" y="447.03" width="4.40" height="5.60" fill="#f6f6f6"/>
<rect x="232.07" y="447.03" width="4.40" height="5.60" fill="#f6f6f6"/>
<rect x="237.53" y="447.03" width="4.40" height="5.60" fill="#f6f6f6"/>
<rect x="242.98" y="447.03" width="4.40" height="5.60" fill="#f6f6f6"/>
<rect x="248.44" y="447.03" width="4.40" height="5.60" fill="#f6f6f6"/>
<rect x="253.90" y="447.03" width="4.40" height="5.60" fill="#f6f6f6"/>
<rect x="259.36" y="447.03" width="4.40" height="5.60" fill="#f6f6f6"/>
<rect x="264.81" y="447.03" width="4.40" height="5.60" fill="#f6f6f6"/>
<rect x="270.27" y="447.03" width="4.40" height="5.60" fill="#f6f6f6"/>
<rect x="275.73" y="447.03" width="4.40" height="5.60" fill="#f6f6f6"/>
<rect x="281.18" y="447.03" width="4.40" height="5.60" fill="#f6f6f6"/>
<rect x="286.64" y="447.03" width="4.40" height="5.60" fill="#f6f6f6"/>
<rect x="292.10" y="447.03" width="4.40" height="5.60" fill="#f6f6f6"/>
<rect x="297.56" y="447.03" width="4.40" height="5.60" fill="#f6f6f6"/>
<rect x="303.01" y="447.03" width="4.40" height="5.60" fill="#f6f6f6"/>
<rect x="308.47" y="447.03" width="4.40" height="5.60" fill="#f6f6f6"/>
<rect x="313.93" y="447.03" width="4.40" height="5.60" fill="#f6f6f6"/>
<rect x="319.38" y="447.03" width="4.40" height="5.60" fill="#f2900f"/>
<rect x="324.84" y="447.03" width="4.40" height="5.60" fill="#f6f6f6"/>
<rect x="330.30" y="447.03" width="4.40" height="5.60" fill="#f6f6f6"/>
<rect x="335.75" y="447.03" width="4.40" height="5.60" fill="#f6f6f6"/>
<rect x="341.21" y="447.03" width="4.40" height="5.60" fill="#f6f6f6"/>
<rect x="346.67" y="447.03" width="4.40" height="5.60" fill="#f6f6f6"/>
<rect x="352.12" y="447.03" width="4.40" height="5.60" fill="#f6f6f6"/>
<rect x="357.58" y="447.03" width="4.40" height="5.60" fill="#f6f6f6"/>
<rect x="363.04" y="447.03" width="4.40" height="5.60" fill="#f6f6f6"/>
<rect x="368.60" y="447.03" width="4.40" height="5.60" fill="#f6f6f6"/>
<rect x="374.06" y="447.03" width="4.40" height="5.60" fill="#f6f6f6"/>
<rect x="379.51" y="447.03" width="4.40" height="5.60" fill="#f6f6f6"/>
<rect x="384.97" y="447.03" width="4.40" height="5.60" fill="#f6f6f6"/>
<rect x="390.43" y="447.03" width="4.40" height="5.60" fill="#f6f6f6"/>
<rect x="395.89" y="447.03" width="4.40" height="5.60" fill="#f6f6f6"/>
<rect x="401.34" y="447.03" width="4.40" height="5.60" fill="#f6f6f6"/>
<rect x="406.80" y="447.03" width="4.40" height="5.60" fill="#f6f6f6"/>
<rect x="412.26" y="447.03" width="4.40" height="5.60" fill="#f6f6f6"/>
<rect x="417.71" y="447.03" width="4.40" height="5.60" fill="#f6f6f6"/>
<rect x="423.17" y="447.03" width="4.40" height="5.60" fill="#f6f6f6"/>
<rect x="428.63" y="447.03" width="4.40" height="5.60" fill="#f2900f"/>
<rect x="434.08" y="447.03" width="4.40" height="5.60" fill="#f6f6f6"/>
<rect x="439.54" y="447.03" width="4.40" height="5.60" fill="#f6f6f6"/>
<rect x="445.00" y="447.03" width="4.40" height="5.60" fill="#f2900f"/>
<rect x="450.46" y="447.03" width="4.40" height="5.60" fill="#f6f6f6"/>
<rect x="215.70" y="453.98" width="4.40" height="5.60" fill="#f6f6f6"/>
<rect x="221.16" y="453.98" width="4.40" height="5.60" fill="#f6f6f6"/>
<rect x="226.61" y="453.98" width="4.40" height="5.60" fill="#f6f6f6"/>
<rect x="232.07" y="453.98" width="4.40" height="5.60" fill="#f6f6f6"/>
<rect x="237.53" y="453.98" width="4.40" height="5.60" fill="#f6f6f6"/>
<rect x="242.98" y="453.98" width="4.40" height="5.60" fill="#f6f6f6"/>
<rect x="248.44" y="453.98" width="4.40" height="5.60" fill="#f6f6f6"/>
<rect x="253.90" y="453.98" width="4.40" height="5.60" fill="#f6f6f6"/>
<rect x="259.36" y="453.98" width="4.40" height="5.60" fill="#f2900f"/>
<text x="261.56" y="458.28" font-size="4.6" text-anchor="middle" style="fill:#6b3a08;stroke:#6b3a08;stroke-width:0.1px">2</text>
<rect x="264.81" y="453.98" width="4.40" height="5.60" fill="#f6f6f6"/>
<rect x="270.27" y="453.98" width="4.40" height="5.60" fill="#f6f6f6"/>
<rect x="275.73" y="453.98" width="4.40" height="5.60" fill="#f6f6f6"/>
<rect x="281.18" y="453.98" width="4.40" height="5.60" fill="#f6f6f6"/>
<rect x="286.64" y="453.98" width="4.40" height="5.60" fill="#f6f6f6"/>
<rect x="292.10" y="453.98" width="4.40" height="5.60" fill="#f6f6f6"/>
<rect x="297.56" y="453.98" width="4.40" height="5.60" fill="#f2900f"/>
<text x="299.75" y="458.28" font-size="4.6" text-anchor="middle" style="fill:#6b3a08;stroke:#6b3a08;stroke-width:0.1px">2</text>
<rect x="303.01" y="453.98" width="4.40" height="5.60" fill="#f6f6f6"/>
<rect x="308.47" y="453.98" width="4.40" height="5.60" fill="#f6f6f6"/>
<rect x="313.93" y="453.98" width="4.40" height="5.60" fill="#f6f6f6"/>
<rect x="319.38" y="453.98" width="4.40" height="5.60" fill="#f6f6f6"/>
<rect x="324.84" y="453.98" width="4.40" height="5.60" fill="#f6f6f6"/>
<rect x="330.30" y="453.98" width="4.40" height="5.60" fill="#f6f6f6"/>
<rect x="335.75" y="453.98" width="4.40" height="5.60" fill="#f6f6f6"/>
<rect x="341.21" y="453.98" width="4.40" height="5.60" fill="#f6f6f6"/>
<rect x="346.67" y="453.98" width="4.40" height="5.60" fill="#f6f6f6"/>
<rect x="352.12" y="453.98" width="4.40" height="5.60" fill="#f6f6f6"/>
<rect x="357.58" y="453.98" width="4.40" height="5.60" fill="#f6f6f6"/>
<rect x="363.04" y="453.98" width="4.40" height="5.60" fill="#f6f6f6"/>
<rect x="368.60" y="453.98" width="4.40" height="5.60" fill="#f6f6f6"/>
<rect x="374.06" y="453.98" width="4.40" height="5.60" fill="#f6f6f6"/>
<rect x="379.51" y="453.98" width="4.40" height="5.60" fill="#f6f6f6"/>
<rect x="384.97" y="453.98" width="4.40" height="5.60" fill="#f6f6f6"/>
<rect x="390.43" y="453.98" width="4.40" height="5.60" fill="#f6f6f6"/>
<rect x="395.89" y="453.98" width="4.40" height="5.60" fill="#f6f6f6"/>
<rect x="401.34" y="453.98" width="4.40" height="5.60" fill="#f6f6f6"/>
<rect x="406.80" y="453.98" width="4.40" height="5.60" fill="#f6f6f6"/>
<rect x="412.26" y="453.98" width="4.40" height="5.60" fill="#f6f6f6"/>
<rect x="417.71" y="453.98" width="4.40" height="5.60" fill="#f6f6f6"/>
<rect x="423.17" y="453.98" width="4.40" height="5.60" fill="#f6f6f6"/>
<rect x="428.63" y="453.98" width="4.40" height="5.60" fill="#f6f6f6"/>
<rect x="434.08" y="453.98" width="4.40" height="5.60" fill="#f6f6f6"/>
<rect x="439.54" y="453.98" width="4.40" height="5.60" fill="#f6f6f6"/>
<rect x="445.00" y="453.98" width="4.40" height="5.60" fill="#f2900f"/>
<text x="447.20" y="458.28" font-size="4.6" text-anchor="middle" style="fill:#6b3a08;stroke:#6b3a08;stroke-width:0.1px">2</text>
<rect x="450.46" y="453.98" width="4.40" height="5.60" fill="#f6f6f6"/>
<rect x="215.70" y="460.93" width="4.40" height="5.60" fill="#f6f6f6"/>
<rect x="221.16" y="460.93" width="4.40" height="5.60" fill="#f6f6f6"/>
<rect x="226.61" y="460.93" width="4.40" height="5.60" fill="#f6f6f6"/>
<rect x="232.07" y="460.93" width="4.40" height="5.60" fill="#f6f6f6"/>
<rect x="237.53" y="460.93" width="4.40" height="5.60" fill="#f6f6f6"/>
<rect x="242.98" y="460.93" width="4.40" height="5.60" fill="#f6f6f6"/>
<rect x="248.44" y="460.93" width="4.40" height="5.60" fill="#f6f6f6"/>
<rect x="253.90" y="460.93" width="4.40" height="5.60" fill="#f6f6f6"/>
<rect x="259.36" y="460.93" width="4.40" height="5.60" fill="#f6f6f6"/>
<rect x="264.81" y="460.93" width="4.40" height="5.60" fill="#f6f6f6"/>
<rect x="270.27" y="460.93" width="4.40" height="5.60" fill="#f6f6f6"/>
<rect x="275.73" y="460.93" width="4.40" height="5.60" fill="#f6f6f6"/>
<rect x="281.18" y="460.93" width="4.40" height="5.60" fill="#f6f6f6"/>
<rect x="286.64" y="460.93" width="4.40" height="5.60" fill="#f6f6f6"/>
<rect x="292.10" y="460.93" width="4.40" height="5.60" fill="#f6f6f6"/>
<rect x="297.56" y="460.93" width="4.40" height="5.60" fill="#f2900f"/>
<rect x="303.01" y="460.93" width="4.40" height="5.60" fill="#f6f6f6"/>
<rect x="308.47" y="460.93" width="4.40" height="5.60" fill="#f6f6f6"/>
<rect x="313.93" y="460.93" width="4.40" height="5.60" fill="#f6f6f6"/>
<rect x="319.38" y="460.93" width="4.40" height="5.60" fill="#f2900f"/>
<rect x="324.84" y="460.93" width="4.40" height="5.60" fill="#f6f6f6"/>
<rect x="330.30" y="460.93" width="4.40" height="5.60" fill="#f6f6f6"/>
<rect x="335.75" y="460.93" width="4.40" height="5.60" fill="#f6f6f6"/>
<rect x="341.21" y="460.93" width="4.40" height="5.60" fill="#f6f6f6"/>
<rect x="346.67" y="460.93" width="4.40" height="5.60" fill="#f6f6f6"/>
<rect x="352.12" y="460.93" width="4.40" height="5.60" fill="#f6f6f6"/>
<rect x="357.58" y="460.93" width="4.40" height="5.60" fill="#f6f6f6"/>
<rect x="363.04" y="460.93" width="4.40" height="5.60" fill="#f6f6f6"/>
<rect x="368.60" y="460.93" width="4.40" height="5.60" fill="#f6f6f6"/>
<rect x="374.06" y="460.93" width="4.40" height="5.60" fill="#f6f6f6"/>
<rect x="379.51" y="460.93" width="4.40" height="5.60" fill="#f6f6f6"/>
<rect x="384.97" y="460.93" width="4.40" height="5.60" fill="#f6f6f6"/>
<rect x="390.43" y="460.93" width="4.40" height="5.60" fill="#f6f6f6"/>
<rect x="395.89" y="460.93" width="4.40" height="5.60" fill="#f6f6f6"/>
<rect x="401.34" y="460.93" width="4.40" height="5.60" fill="#f6f6f6"/>
<rect x="406.80" y="460.93" width="4.40" height="5.60" fill="#f6f6f6"/>
<rect x="412.26" y="460.93" width="4.40" height="5.60" fill="#f6f6f6"/>
<rect x="417.71" y="460.93" width="4.40" height="5.60" fill="#f6f6f6"/>
<rect x="423.17" y="460.93" width="4.40" height="5.60" fill="#f6f6f6"/>
<rect x="428.63" y="460.93" width="4.40" height="5.60" fill="#f6f6f6"/>
<rect x="434.08" y="460.93" width="4.40" height="5.60" fill="#f6f6f6"/>
<rect x="439.54" y="460.93" width="4.40" height="5.60" fill="#f6f6f6"/>
<rect x="445.00" y="460.93" width="4.40" height="5.60" fill="#f6f6f6"/>
<rect x="450.46" y="460.93" width="4.40" height="5.60" fill="#f6f6f6"/>
<rect x="215.70" y="467.87" width="4.40" height="5.60" fill="#f6f6f6"/>
<rect x="221.16" y="467.87" width="4.40" height="5.60" fill="#f6f6f6"/>
<rect x="226.61" y="467.87" width="4.40" height="5.60" fill="#f6f6f6"/>
<rect x="232.07" y="467.87" width="4.40" height="5.60" fill="#f6f6f6"/>
<rect x="237.53" y="467.87" width="4.40" height="5.60" fill="#f6f6f6"/>
<rect x="242.98" y="467.87" width="4.40" height="5.60" fill="#f6f6f6"/>
<rect x="248.44" y="467.87" width="4.40" height="5.60" fill="#f6f6f6"/>
<rect x="253.90" y="467.87" width="4.40" height="5.60" fill="#f6f6f6"/>
<rect x="259.36" y="467.87" width="4.40" height="5.60" fill="#f2900f"/>
<rect x="264.81" y="467.87" width="4.40" height="5.60" fill="#f6f6f6"/>
<rect x="270.27" y="467.87" width="4.40" height="5.60" fill="#f6f6f6"/>
<rect x="275.73" y="467.87" width="4.40" height="5.60" fill="#f6f6f6"/>
<rect x="281.18" y="467.87" width="4.40" height="5.60" fill="#f6f6f6"/>
<rect x="286.64" y="467.87" width="4.40" height="5.60" fill="#f6f6f6"/>
<rect x="292.10" y="467.87" width="4.40" height="5.60" fill="#f6f6f6"/>
<rect x="297.56" y="467.87" width="4.40" height="5.60" fill="#f6f6f6"/>
<rect x="303.01" y="467.87" width="4.40" height="5.60" fill="#f6f6f6"/>
<rect x="308.47" y="467.87" width="4.40" height="5.60" fill="#f6f6f6"/>
<rect x="313.93" y="467.87" width="4.40" height="5.60" fill="#f6f6f6"/>
<rect x="319.38" y="467.87" width="4.40" height="5.60" fill="#f6f6f6"/>
<rect x="324.84" y="467.87" width="4.40" height="5.60" fill="#f6f6f6"/>
<rect x="330.30" y="467.87" width="4.40" height="5.60" fill="#f6f6f6"/>
<rect x="335.75" y="467.87" width="4.40" height="5.60" fill="#f6f6f6"/>
<rect x="341.21" y="467.87" width="4.40" height="5.60" fill="#f6f6f6"/>
<rect x="346.67" y="467.87" width="4.40" height="5.60" fill="#f6f6f6"/>
<rect x="352.12" y="467.87" width="4.40" height="5.60" fill="#f6f6f6"/>
<rect x="357.58" y="467.87" width="4.40" height="5.60" fill="#f6f6f6"/>
<rect x="363.04" y="467.87" width="4.40" height="5.60" fill="#f6f6f6"/>
<rect x="368.60" y="467.87" width="4.40" height="5.60" fill="#f6f6f6"/>
<rect x="374.06" y="467.87" width="4.40" height="5.60" fill="#f6f6f6"/>
<rect x="379.51" y="467.87" width="4.40" height="5.60" fill="#f6f6f6"/>
<rect x="384.97" y="467.87" width="4.40" height="5.60" fill="#f2900f"/>
<rect x="390.43" y="467.87" width="4.40" height="5.60" fill="#f6f6f6"/>
<rect x="395.89" y="467.87" width="4.40" height="5.60" fill="#f6f6f6"/>
<rect x="401.34" y="467.87" width="4.40" height="5.60" fill="#f6f6f6"/>
<rect x="406.80" y="467.87" width="4.40" height="5.60" fill="#f6f6f6"/>
<rect x="412.26" y="467.87" width="4.40" height="5.60" fill="#f6f6f6"/>
<rect x="417.71" y="467.87" width="4.40" height="5.60" fill="#f6f6f6"/>
<rect x="423.17" y="467.87" width="4.40" height="5.60" fill="#f6f6f6"/>
<rect x="428.63" y="467.87" width="4.40" height="5.60" fill="#f6f6f6"/>
<rect x="434.08" y="467.87" width="4.40" height="5.60" fill="#f6f6f6"/>
<rect x="439.54" y="467.87" width="4.40" height="5.60" fill="#f6f6f6"/>
<rect x="445.00" y="467.87" width="4.40" height="5.60" fill="#f6f6f6"/>
<rect x="450.46" y="467.87" width="4.40" height="5.60" fill="#f6f6f6"/>
<rect x="215.70" y="474.82" width="4.40" height="5.60" fill="#f6f6f6"/>
<rect x="221.16" y="474.82" width="4.40" height="5.60" fill="#f6f6f6"/>
<rect x="226.61" y="474.82" width="4.40" height="5.60" fill="#f6f6f6"/>
<rect x="232.07" y="474.82" width="4.40" height="5.60" fill="#f6f6f6"/>
<rect x="237.53" y="474.82" width="4.40" height="5.60" fill="#f6f6f6"/>
<rect x="242.98" y="474.82" width="4.40" height="5.60" fill="#f6f6f6"/>
<rect x="248.44" y="474.82" width="4.40" height="5.60" fill="#f6f6f6"/>
<rect x="253.90" y="474.82" width="4.40" height="5.60" fill="#f6f6f6"/>
<rect x="259.36" y="474.82" width="4.40" height="5.60" fill="#f6f6f6"/>
<rect x="264.81" y="474.82" width="4.40" height="5.60" fill="#f6f6f6"/>
<rect x="270.27" y="474.82" width="4.40" height="5.60" fill="#f6f6f6"/>
<rect x="275.73" y="474.82" width="4.40" height="5.60" fill="#f6f6f6"/>
<rect x="281.18" y="474.82" width="4.40" height="5.60" fill="#f6f6f6"/>
<rect x="286.64" y="474.82" width="4.40" height="5.60" fill="#f6f6f6"/>
<rect x="292.10" y="474.82" width="4.40" height="5.60" fill="#f6f6f6"/>
<rect x="297.56" y="474.82" width="4.40" height="5.60" fill="#f6f6f6"/>
<rect x="303.01" y="474.82" width="4.40" height="5.60" fill="#f6f6f6"/>
<rect x="308.47" y="474.82" width="4.40" height="5.60" fill="#f6f6f6"/>
<rect x="313.93" y="474.82" width="4.40" height="5.60" fill="#f6f6f6"/>
<rect x="319.38" y="474.82" width="4.40" height="5.60" fill="#f2900f"/>
<rect x="324.84" y="474.82" width="4.40" height="5.60" fill="#f6f6f6"/>
<rect x="330.30" y="474.82" width="4.40" height="5.60" fill="#f6f6f6"/>
<rect x="335.75" y="474.82" width="4.40" height="5.60" fill="#f6f6f6"/>
<rect x="341.21" y="474.82" width="4.40" height="5.60" fill="#f6f6f6"/>
<rect x="346.67" y="474.82" width="4.40" height="5.60" fill="#f6f6f6"/>
<rect x="352.12" y="474.82" width="4.40" height="5.60" fill="#f6f6f6"/>
<rect x="357.58" y="474.82" width="4.40" height="5.60" fill="#f6f6f6"/>
<rect x="363.04" y="474.82" width="4.40" height="5.60" fill="#f6f6f6"/>
<rect x="368.60" y="474.82" width="4.40" height="5.60" fill="#f2900f"/>
<rect x="374.06" y="474.82" width="4.40" height="5.60" fill="#f6f6f6"/>
<rect x="379.51" y="474.82" width="4.40" height="5.60" fill="#f6f6f6"/>
<rect x="384.97" y="474.82" width="4.40" height="5.60" fill="#f6f6f6"/>
<rect x="390.43" y="474.82" width="4.40" height="5.60" fill="#f6f6f6"/>
<rect x="395.89" y="474.82" width="4.40" height="5.60" fill="#f6f6f6"/>
<rect x="401.34" y="474.82" width="4.40" height="5.60" fill="#f6f6f6"/>
<rect x="406.80" y="474.82" width="4.40" height="5.60" fill="#f6f6f6"/>
<rect x="412.26" y="474.82" width="4.40" height="5.60" fill="#f6f6f6"/>
<rect x="417.71" y="474.82" width="4.40" height="5.60" fill="#f6f6f6"/>
<rect x="423.17" y="474.82" width="4.40" height="5.60" fill="#f6f6f6"/>
<rect x="428.63" y="474.82" width="4.40" height="5.60" fill="#f6f6f6"/>
<rect x="434.08" y="474.82" width="4.40" height="5.60" fill="#f6f6f6"/>
<rect x="439.54" y="474.82" width="4.40" height="5.60" fill="#f6f6f6"/>
<rect x="445.00" y="474.82" width="4.40" height="5.60" fill="#f6f6f6"/>
<rect x="450.46" y="474.82" width="4.40" height="5.60" fill="#f6f6f6"/>
<rect x="215.70" y="481.76" width="4.40" height="5.60" fill="#f6f6f6"/>
<rect x="221.16" y="481.76" width="4.40" height="5.60" fill="#f6f6f6"/>
<rect x="226.61" y="481.76" width="4.40" height="5.60" fill="#f6f6f6"/>
<rect x="232.07" y="481.76" width="4.40" height="5.60" fill="#f6f6f6"/>
<rect x="237.53" y="481.76" width="4.40" height="5.60" fill="#f2900f"/>
<rect x="242.98" y="481.76" width="4.40" height="5.60" fill="#f6f6f6"/>
<rect x="248.44" y="481.76" width="4.40" height="5.60" fill="#f6f6f6"/>
<rect x="253.90" y="481.76" width="4.40" height="5.60" fill="#f6f6f6"/>
<rect x="259.36" y="481.76" width="4.40" height="5.60" fill="#f6f6f6"/>
<rect x="264.81" y="481.76" width="4.40" height="5.60" fill="#f6f6f6"/>
<rect x="270.27" y="481.76" width="4.40" height="5.60" fill="#f6f6f6"/>
<rect x="275.73" y="481.76" width="4.40" height="5.60" fill="#f6f6f6"/>
<rect x="281.18" y="481.76" width="4.40" height="5.60" fill="#f6f6f6"/>
<rect x="286.64" y="481.76" width="4.40" height="5.60" fill="#f6f6f6"/>
<rect x="292.10" y="481.76" width="4.40" height="5.60" fill="#f6f6f6"/>
<rect x="297.56" y="481.76" width="4.40" height="5.60" fill="#f6f6f6"/>
<rect x="303.01" y="481.76" width="4.40" height="5.60" fill="#f6f6f6"/>
<rect x="308.47" y="481.76" width="4.40" height="5.60" fill="#f6f6f6"/>
<rect x="313.93" y="481.76" width="4.40" height="5.60" fill="#f6f6f6"/>
<rect x="319.38" y="481.76" width="4.40" height="5.60" fill="#f6f6f6"/>
<rect x="324.84" y="481.76" width="4.40" height="5.60" fill="#f6f6f6"/>
<rect x="330.30" y="481.76" width="4.40" height="5.60" fill="#f6f6f6"/>
<rect x="335.75" y="481.76" width="4.40" height="5.60" fill="#f6f6f6"/>
<rect x="341.21" y="481.76" width="4.40" height="5.60" fill="#f6f6f6"/>
<rect x="346.67" y="481.76" width="4.40" height="5.60" fill="#f6f6f6"/>
<rect x="352.12" y="481.76" width="4.40" height="5.60" fill="#f6f6f6"/>
<rect x="357.58" y="481.76" width="4.40" height="5.60" fill="#f6f6f6"/>
<rect x="363.04" y="481.76" width="4.40" height="5.60" fill="#f6f6f6"/>
<rect x="368.60" y="481.76" width="4.40" height="5.60" fill="#f6f6f6"/>
<rect x="374.06" y="481.76" width="4.40" height="5.60" fill="#f6f6f6"/>
<rect x="379.51" y="481.76" width="4.40" height="5.60" fill="#f6f6f6"/>
<rect x="384.97" y="481.76" width="4.40" height="5.60" fill="#f6f6f6"/>
<rect x="390.43" y="481.76" width="4.40" height="5.60" fill="#f2900f"/>
<rect x="395.89" y="481.76" width="4.40" height="5.60" fill="#f6f6f6"/>
<rect x="401.34" y="481.76" width="4.40" height="5.60" fill="#f6f6f6"/>
<rect x="406.80" y="481.76" width="4.40" height="5.60" fill="#f6f6f6"/>
<rect x="412.26" y="481.76" width="4.40" height="5.60" fill="#f6f6f6"/>
<rect x="417.71" y="481.76" width="4.40" height="5.60" fill="#f6f6f6"/>
<rect x="423.17" y="481.76" width="4.40" height="5.60" fill="#f6f6f6"/>
<rect x="428.63" y="481.76" width="4.40" height="5.60" fill="#f6f6f6"/>
<rect x="434.08" y="481.76" width="4.40" height="5.60" fill="#f6f6f6"/>
<rect x="439.54" y="481.76" width="4.40" height="5.60" fill="#f6f6f6"/>
<rect x="445.00" y="481.76" width="4.40" height="5.60" fill="#f6f6f6"/>
<rect x="450.46" y="481.76" width="4.40" height="5.60" fill="#f6f6f6"/>
<rect x="215.70" y="488.71" width="4.40" height="5.60" fill="#f6f6f6"/>
<rect x="221.16" y="488.71" width="4.40" height="5.60" fill="#f6f6f6"/>
<rect x="226.61" y="488.71" width="4.40" height="5.60" fill="#f6f6f6"/>
<rect x="232.07" y="488.71" width="4.40" height="5.60" fill="#f6f6f6"/>
<rect x="237.53" y="488.71" width="4.40" height="5.60" fill="#f6f6f6"/>
<rect x="242.98" y="488.71" width="4.40" height="5.60" fill="#f6f6f6"/>
<rect x="248.44" y="488.71" width="4.40" height="5.60" fill="#f6f6f6"/>
<rect x="253.90" y="488.71" width="4.40" height="5.60" fill="#f6f6f6"/>
<rect x="259.36" y="488.71" width="4.40" height="5.60" fill="#f6f6f6"/>
<rect x="264.81" y="488.71" width="4.40" height="5.60" fill="#f6f6f6"/>
<rect x="270.27" y="488.71" width="4.40" height="5.60" fill="#f6f6f6"/>
<rect x="275.73" y="488.71" width="4.40" height="5.60" fill="#f6f6f6"/>
<rect x="281.18" y="488.71" width="4.40" height="5.60" fill="#f6f6f6"/>
<rect x="286.64" y="488.71" width="4.40" height="5.60" fill="#f6f6f6"/>
<rect x="292.10" y="488.71" width="4.40" height="5.60" fill="#f6f6f6"/>
<rect x="297.56" y="488.71" width="4.40" height="5.60" fill="#f2900f"/>
<rect x="303.01" y="488.71" width="4.40" height="5.60" fill="#f6f6f6"/>
<rect x="308.47" y="488.71" width="4.40" height="5.60" fill="#f6f6f6"/>
<rect x="313.93" y="488.71" width="4.40" height="5.60" fill="#f6f6f6"/>
<rect x="319.38" y="488.71" width="4.40" height="5.60" fill="#f6f6f6"/>
<rect x="324.84" y="488.71" width="4.40" height="5.60" fill="#f6f6f6"/>
<rect x="330.30" y="488.71" width="4.40" height="5.60" fill="#f6f6f6"/>
<rect x="335.75" y="488.71" width="4.40" height="5.60" fill="#f6f6f6"/>
<rect x="341.21" y="488.71" width="4.40" height="5.60" fill="#f6f6f6"/>
<rect x="346.67" y="488.71" width="4.40" height="5.60" fill="#f6f6f6"/>
<rect x="352.12" y="488.71" width="4.40" height="5.60" fill="#f6f6f6"/>
<rect x="357.58" y="488.71" width="4.40" height="5.60" fill="#f6f6f6"/>
<rect x="363.04" y="488.71" width="4.40" height="5.60" fill="#f6f6f6"/>
<rect x="368.60" y="488.71" width="4.40" height="5.60" fill="#f6f6f6"/>
<rect x="374.06" y="488.71" width="4.40" height="5.60" fill="#f6f6f6"/>
<rect x="379.51" y="488.71" width="4.40" height="5.60" fill="#f6f6f6"/>
<rect x="384.97" y="488.71" width="4.40" height="5.60" fill="#f6f6f6"/>
<rect x="390.43" y="488.71" width="4.40" height="5.60" fill="#f6f6f6"/>
<rect x="395.89" y="488.71" width="4.40" height="5.60" fill="#f6f6f6"/>
<rect x="401.34" y="488.71" width="4.40" height="5.60" fill="#f6f6f6"/>
<rect x="406.80" y="488.71" width="4.40" height="5.60" fill="#f6f6f6"/>
<rect x="412.26" y="488.71" width="4.40" height="5.60" fill="#f6f6f6"/>
<rect x="417.71" y="488.71" width="4.40" height="5.60" fill="#f2900f"/>
<rect x="423.17" y="488.71" width="4.40" height="5.60" fill="#f6f6f6"/>
<rect x="428.63" y="488.71" width="4.40" height="5.60" fill="#f6f6f6"/>
<rect x="434.08" y="488.71" width="4.40" height="5.60" fill="#f6f6f6"/>
<rect x="439.54" y="488.71" width="4.40" height="5.60" fill="#f6f6f6"/>
<rect x="445.00" y="488.71" width="4.40" height="5.60" fill="#f6f6f6"/>
<rect x="450.46" y="488.71" width="4.40" height="5.60" fill="#f6f6f6"/>
<rect x="215.70" y="495.66" width="4.40" height="5.60" fill="#f6f6f6"/>
<rect x="221.16" y="495.66" width="4.40" height="5.60" fill="#f6f6f6"/>
<rect x="226.61" y="495.66" width="4.40" height="5.60" fill="#f6f6f6"/>
<rect x="232.07" y="495.66" width="4.40" height="5.60" fill="#f6f6f6"/>
<rect x="237.53" y="495.66" width="4.40" height="5.60" fill="#f6f6f6"/>
<rect x="242.98" y="495.66" width="4.40" height="5.60" fill="#f6f6f6"/>
<rect x="248.44" y="495.66" width="4.40" height="5.60" fill="#f6f6f6"/>
<rect x="253.90" y="495.66" width="4.40" height="5.60" fill="#f6f6f6"/>
<rect x="259.36" y="495.66" width="4.40" height="5.60" fill="#f6f6f6"/>
<rect x="264.81" y="495.66" width="4.40" height="5.60" fill="#f6f6f6"/>
<rect x="270.27" y="495.66" width="4.40" height="5.60" fill="#f6f6f6"/>
<rect x="275.73" y="495.66" width="4.40" height="5.60" fill="#f6f6f6"/>
<rect x="281.18" y="495.66" width="4.40" height="5.60" fill="#f6f6f6"/>
<rect x="286.64" y="495.66" width="4.40" height="5.60" fill="#f6f6f6"/>
<rect x="292.10" y="495.66" width="4.40" height="5.60" fill="#f6f6f6"/>
<rect x="297.56" y="495.66" width="4.40" height="5.60" fill="#f6f6f6"/>
<rect x="303.01" y="495.66" width="4.40" height="5.60" fill="#f6f6f6"/>
<rect x="308.47" y="495.66" width="4.40" height="5.60" fill="#f6f6f6"/>
<rect x="313.93" y="495.66" width="4.40" height="5.60" fill="#f6f6f6"/>
<rect x="319.38" y="495.66" width="4.40" height="5.60" fill="#f6f6f6"/>
<rect x="324.84" y="495.66" width="4.40" height="5.60" fill="#f6f6f6"/>
<rect x="330.30" y="495.66" width="4.40" height="5.60" fill="#f6f6f6"/>
<rect x="335.75" y="495.66" width="4.40" height="5.60" fill="#f6f6f6"/>
<rect x="341.21" y="495.66" width="4.40" height="5.60" fill="#f6f6f6"/>
<rect x="346.67" y="495.66" width="4.40" height="5.60" fill="#f6f6f6"/>
<rect x="352.12" y="495.66" width="4.40" height="5.60" fill="#f6f6f6"/>
<rect x="357.58" y="495.66" width="4.40" height="5.60" fill="#f6f6f6"/>
<rect x="363.04" y="495.66" width="4.40" height="5.60" fill="#f6f6f6"/>
<rect x="368.60" y="495.66" width="4.40" height="5.60" fill="#f6f6f6"/>
<rect x="374.06" y="495.66" width="4.40" height="5.60" fill="#f6f6f6"/>
<rect x="379.51" y="495.66" width="4.40" height="5.60" fill="#f6f6f6"/>
<rect x="384.97" y="495.66" width="4.40" height="5.60" fill="#f6f6f6"/>
<rect x="390.43" y="495.66" width="4.40" height="5.60" fill="#f6f6f6"/>
<rect x="395.89" y="495.66" width="4.40" height="5.60" fill="#f6f6f6"/>
<rect x="401.34" y="495.66" width="4.40" height="5.60" fill="#f6f6f6"/>
<rect x="406.80" y="495.66" width="4.40" height="5.60" fill="#f6f6f6"/>
<rect x="412.26" y="495.66" width="4.40" height="5.60" fill="#f6f6f6"/>
<rect x="417.71" y="495.66" width="4.40" height="5.60" fill="#f2900f"/>
<rect x="423.17" y="495.66" width="4.40" height="5.60" fill="#f6f6f6"/>
<rect x="428.63" y="495.66" width="4.40" height="5.60" fill="#f6f6f6"/>
<rect x="434.08" y="495.66" width="4.40" height="5.60" fill="#f6f6f6"/>
<rect x="439.54" y="495.66" width="4.40" height="5.60" fill="#f6f6f6"/>
<rect x="445.00" y="495.66" width="4.40" height="5.60" fill="#f2900f"/>
<rect x="450.46" y="495.66" width="4.40" height="5.60" fill="#f6f6f6"/>
<rect x="215.70" y="502.60" width="4.40" height="5.60" fill="#f6f6f6"/>
<rect x="221.16" y="502.60" width="4.40" height="5.60" fill="#f6f6f6"/>
<rect x="226.61" y="502.60" width="4.40" height="5.60" fill="#f6f6f6"/>
<rect x="232.07" y="502.60" width="4.40" height="5.60" fill="#f6f6f6"/>
<rect x="237.53" y="502.60" width="4.40" height="5.60" fill="#f6f6f6"/>
<rect x="242.98" y="502.60" width="4.40" height="5.60" fill="#f6f6f6"/>
<rect x="248.44" y="502.60" width="4.40" height="5.60" fill="#f6f6f6"/>
<rect x="253.90" y="502.60" width="4.40" height="5.60" fill="#f6f6f6"/>
<rect x="259.36" y="502.60" width="4.40" height="5.60" fill="#f6f6f6"/>
<rect x="264.81" y="502.60" width="4.40" height="5.60" fill="#f6f6f6"/>
<rect x="270.27" y="502.60" width="4.40" height="5.60" fill="#f6f6f6"/>
<rect x="275.73" y="502.60" width="4.40" height="5.60" fill="#f6f6f6"/>
<rect x="281.18" y="502.60" width="4.40" height="5.60" fill="#f2900f"/>
<rect x="286.64" y="502.60" width="4.40" height="5.60" fill="#f6f6f6"/>
<rect x="292.10" y="502.60" width="4.40" height="5.60" fill="#f6f6f6"/>
<rect x="297.56" y="502.60" width="4.40" height="5.60" fill="#f6f6f6"/>
<rect x="303.01" y="502.60" width="4.40" height="5.60" fill="#f6f6f6"/>
<rect x="308.47" y="502.60" width="4.40" height="5.60" fill="#f6f6f6"/>
<rect x="313.93" y="502.60" width="4.40" height="5.60" fill="#f6f6f6"/>
<rect x="319.38" y="502.60" width="4.40" height="5.60" fill="#f6f6f6"/>
<rect x="324.84" y="502.60" width="4.40" height="5.60" fill="#f6f6f6"/>
<rect x="330.30" y="502.60" width="4.40" height="5.60" fill="#f6f6f6"/>
<rect x="335.75" y="502.60" width="4.40" height="5.60" fill="#f6f6f6"/>
<rect x="341.21" y="502.60" width="4.40" height="5.60" fill="#f6f6f6"/>
<rect x="346.67" y="502.60" width="4.40" height="5.60" fill="#f6f6f6"/>
<rect x="352.12" y="502.60" width="4.40" height="5.60" fill="#f6f6f6"/>
<rect x="357.58" y="502.60" width="4.40" height="5.60" fill="#f6f6f6"/>
<rect x="363.04" y="502.60" width="4.40" height="5.60" fill="#f6f6f6"/>
<rect x="368.60" y="502.60" width="4.40" height="5.60" fill="#f6f6f6"/>
<rect x="374.06" y="502.60" width="4.40" height="5.60" fill="#f6f6f6"/>
<rect x="379.51" y="502.60" width="4.40" height="5.60" fill="#f6f6f6"/>
<rect x="384.97" y="502.60" width="4.40" height="5.60" fill="#f6f6f6"/>
<rect x="390.43" y="502.60" width="4.40" height="5.60" fill="#f6f6f6"/>
<rect x="395.89" y="502.60" width="4.40" height="5.60" fill="#f6f6f6"/>
<rect x="401.34" y="502.60" width="4.40" height="5.60" fill="#f6f6f6"/>
<rect x="406.80" y="502.60" width="4.40" height="5.60" fill="#f6f6f6"/>
<rect x="412.26" y="502.60" width="4.40" height="5.60" fill="#f6f6f6"/>
<rect x="417.71" y="502.60" width="4.40" height="5.60" fill="#f6f6f6"/>
<rect x="423.17" y="502.60" width="4.40" height="5.60" fill="#f6f6f6"/>
<rect x="428.63" y="502.60" width="4.40" height="5.60" fill="#f6f6f6"/>
<rect x="434.08" y="502.60" width="4.40" height="5.60" fill="#f6f6f6"/>
<rect x="439.54" y="502.60" width="4.40" height="5.60" fill="#f6f6f6"/>
<rect x="445.00" y="502.60" width="4.40" height="5.60" fill="#f6f6f6"/>
<rect x="450.46" y="502.60" width="4.40" height="5.60" fill="#f6f6f6"/>
<rect x="215.70" y="509.55" width="4.40" height="5.60" fill="#f6f6f6"/>
<rect x="221.16" y="509.55" width="4.40" height="5.60" fill="#f6f6f6"/>
<rect x="226.61" y="509.55" width="4.40" height="5.60" fill="#f6f6f6"/>
<rect x="232.07" y="509.55" width="4.40" height="5.60" fill="#f6f6f6"/>
<rect x="237.53" y="509.55" width="4.40" height="5.60" fill="#f6f6f6"/>
<rect x="242.98" y="509.55" width="4.40" height="5.60" fill="#f6f6f6"/>
<rect x="248.44" y="509.55" width="4.40" height="5.60" fill="#f6f6f6"/>
<rect x="253.90" y="509.55" width="4.40" height="5.60" fill="#f6f6f6"/>
<rect x="259.36" y="509.55" width="4.40" height="5.60" fill="#f6f6f6"/>
<rect x="264.81" y="509.55" width="4.40" height="5.60" fill="#f6f6f6"/>
<rect x="270.27" y="509.55" width="4.40" height="5.60" fill="#f6f6f6"/>
<rect x="275.73" y="509.55" width="4.40" height="5.60" fill="#f2900f"/>
<rect x="281.18" y="509.55" width="4.40" height="5.60" fill="#f6f6f6"/>
<rect x="286.64" y="509.55" width="4.40" height="5.60" fill="#f6f6f6"/>
<rect x="292.10" y="509.55" width="4.40" height="5.60" fill="#f6f6f6"/>
<rect x="297.56" y="509.55" width="4.40" height="5.60" fill="#f6f6f6"/>
<rect x="303.01" y="509.55" width="4.40" height="5.60" fill="#f6f6f6"/>
<rect x="308.47" y="509.55" width="4.40" height="5.60" fill="#f6f6f6"/>
<rect x="313.93" y="509.55" width="4.40" height="5.60" fill="#f6f6f6"/>
<rect x="319.38" y="509.55" width="4.40" height="5.60" fill="#f6f6f6"/>
<rect x="324.84" y="509.55" width="4.40" height="5.60" fill="#f6f6f6"/>
<rect x="330.30" y="509.55" width="4.40" height="5.60" fill="#f6f6f6"/>
<rect x="335.75" y="509.55" width="4.40" height="5.60" fill="#f6f6f6"/>
<rect x="341.21" y="509.55" width="4.40" height="5.60" fill="#f6f6f6"/>
<rect x="346.67" y="509.55" width="4.40" height="5.60" fill="#f6f6f6"/>
<rect x="352.12" y="509.55" width="4.40" height="5.60" fill="#f6f6f6"/>
<rect x="357.58" y="509.55" width="4.40" height="5.60" fill="#f6f6f6"/>
<rect x="363.04" y="509.55" width="4.40" height="5.60" fill="#f6f6f6"/>
<rect x="368.60" y="509.55" width="4.40" height="5.60" fill="#f6f6f6"/>
<rect x="374.06" y="509.55" width="4.40" height="5.60" fill="#f6f6f6"/>
<rect x="379.51" y="509.55" width="4.40" height="5.60" fill="#f6f6f6"/>
<rect x="384.97" y="509.55" width="4.40" height="5.60" fill="#f6f6f6"/>
<rect x="390.43" y="509.55" width="4.40" height="5.60" fill="#f6f6f6"/>
<rect x="395.89" y="509.55" width="4.40" height="5.60" fill="#f6f6f6"/>
<rect x="401.34" y="509.55" width="4.40" height="5.60" fill="#f6f6f6"/>
<rect x="406.80" y="509.55" width="4.40" height="5.60" fill="#f6f6f6"/>
<rect x="412.26" y="509.55" width="4.40" height="5.60" fill="#f6f6f6"/>
<rect x="417.71" y="509.55" width="4.40" height="5.60" fill="#f6f6f6"/>
<rect x="423.17" y="509.55" width="4.40" height="5.60" fill="#f6f6f6"/>
<rect x="428.63" y="509.55" width="4.40" height="5.60" fill="#f6f6f6"/>
<rect x="434.08" y="509.55" width="4.40" height="5.60" fill="#f6f6f6"/>
<rect x="439.54" y="509.55" width="4.40" height="5.60" fill="#f6f6f6"/>
<rect x="445.00" y="509.55" width="4.40" height="5.60" fill="#f6f6f6"/>
<rect x="450.46" y="509.55" width="4.40" height="5.60" fill="#f6f6f6"/>
<rect x="215.70" y="516.49" width="4.40" height="5.60" fill="#f6f6f6"/>
<rect x="221.16" y="516.49" width="4.40" height="5.60" fill="#f6f6f6"/>
<rect x="226.61" y="516.49" width="4.40" height="5.60" fill="#f6f6f6"/>
<rect x="232.07" y="516.49" width="4.40" height="5.60" fill="#f6f6f6"/>
<rect x="237.53" y="516.49" width="4.40" height="5.60" fill="#f6f6f6"/>
<rect x="242.98" y="516.49" width="4.40" height="5.60" fill="#f6f6f6"/>
<rect x="248.44" y="516.49" width="4.40" height="5.60" fill="#f6f6f6"/>
<rect x="253.90" y="516.49" width="4.40" height="5.60" fill="#f6f6f6"/>
<rect x="259.36" y="516.49" width="4.40" height="5.60" fill="#f6f6f6"/>
<rect x="264.81" y="516.49" width="4.40" height="5.60" fill="#f6f6f6"/>
<rect x="270.27" y="516.49" width="4.40" height="5.60" fill="#f6f6f6"/>
<rect x="275.73" y="516.49" width="4.40" height="5.60" fill="#f6f6f6"/>
<rect x="281.18" y="516.49" width="4.40" height="5.60" fill="#f6f6f6"/>
<rect x="286.64" y="516.49" width="4.40" height="5.60" fill="#f6f6f6"/>
<rect x="292.10" y="516.49" width="4.40" height="5.60" fill="#f6f6f6"/>
<rect x="297.56" y="516.49" width="4.40" height="5.60" fill="#f6f6f6"/>
<rect x="303.01" y="516.49" width="4.40" height="5.60" fill="#f6f6f6"/>
<rect x="308.47" y="516.49" width="4.40" height="5.60" fill="#f6f6f6"/>
<rect x="313.93" y="516.49" width="4.40" height="5.60" fill="#f6f6f6"/>
<rect x="319.38" y="516.49" width="4.40" height="5.60" fill="#f6f6f6"/>
<rect x="324.84" y="516.49" width="4.40" height="5.60" fill="#f6f6f6"/>
<rect x="330.30" y="516.49" width="4.40" height="5.60" fill="#f6f6f6"/>
<rect x="335.75" y="516.49" width="4.40" height="5.60" fill="#f6f6f6"/>
<rect x="341.21" y="516.49" width="4.40" height="5.60" fill="#f6f6f6"/>
<rect x="346.67" y="516.49" width="4.40" height="5.60" fill="#f6f6f6"/>
<rect x="352.12" y="516.49" width="4.40" height="5.60" fill="#f6f6f6"/>
<rect x="357.58" y="516.49" width="4.40" height="5.60" fill="#f6f6f6"/>
<rect x="363.04" y="516.49" width="4.40" height="5.60" fill="#f6f6f6"/>
<rect x="368.60" y="516.49" width="4.40" height="5.60" fill="#f6f6f6"/>
<rect x="374.06" y="516.49" width="4.40" height="5.60" fill="#f6f6f6"/>
<rect x="379.51" y="516.49" width="4.40" height="5.60" fill="#f6f6f6"/>
<rect x="384.97" y="516.49" width="4.40" height="5.60" fill="#f6f6f6"/>
<rect x="390.43" y="516.49" width="4.40" height="5.60" fill="#f6f6f6"/>
<rect x="395.89" y="516.49" width="4.40" height="5.60" fill="#f6f6f6"/>
<rect x="401.34" y="516.49" width="4.40" height="5.60" fill="#f6f6f6"/>
<rect x="406.80" y="516.49" width="4.40" height="5.60" fill="#f6f6f6"/>
<rect x="412.26" y="516.49" width="4.40" height="5.60" fill="#f6f6f6"/>
<rect x="417.71" y="516.49" width="4.40" height="5.60" fill="#f6f6f6"/>
<rect x="423.17" y="516.49" width="4.40" height="5.60" fill="#f6f6f6"/>
<rect x="428.63" y="516.49" width="4.40" height="5.60" fill="#f6f6f6"/>
<rect x="434.08" y="516.49" width="4.40" height="5.60" fill="#f6f6f6"/>
<rect x="439.54" y="516.49" width="4.40" height="5.60" fill="#f6f6f6"/>
<rect x="445.00" y="516.49" width="4.40" height="5.60" fill="#2c943c"/>
<rect x="450.46" y="516.49" width="4.40" height="5.60" fill="#f6f6f6"/>
<rect x="215.70" y="523.44" width="4.40" height="5.60" fill="#f6f6f6"/>
<rect x="221.16" y="523.44" width="4.40" height="5.60" fill="#f6f6f6"/>
<rect x="226.61" y="523.44" width="4.40" height="5.60" fill="#f6f6f6"/>
<rect x="232.07" y="523.44" width="4.40" height="5.60" fill="#f6f6f6"/>
<rect x="237.53" y="523.44" width="4.40" height="5.60" fill="#f6f6f6"/>
<rect x="242.98" y="523.44" width="4.40" height="5.60" fill="#f6f6f6"/>
<rect x="248.44" y="523.44" width="4.40" height="5.60" fill="#f6f6f6"/>
<rect x="253.90" y="523.44" width="4.40" height="5.60" fill="#f6f6f6"/>
<rect x="259.36" y="523.44" width="4.40" height="5.60" fill="#f6f6f6"/>
<rect x="264.81" y="523.44" width="4.40" height="5.60" fill="#f6f6f6"/>
<rect x="270.27" y="523.44" width="4.40" height="5.60" fill="#f6f6f6"/>
<rect x="275.73" y="523.44" width="4.40" height="5.60" fill="#f6f6f6"/>
<rect x="281.18" y="523.44" width="4.40" height="5.60" fill="#f6f6f6"/>
<rect x="286.64" y="523.44" width="4.40" height="5.60" fill="#f6f6f6"/>
<rect x="292.10" y="523.44" width="4.40" height="5.60" fill="#f6f6f6"/>
<rect x="297.56" y="523.44" width="4.40" height="5.60" fill="#f6f6f6"/>
<rect x="303.01" y="523.44" width="4.40" height="5.60" fill="#2c943c"/>
<rect x="308.47" y="523.44" width="4.40" height="5.60" fill="#f6f6f6"/>
<rect x="313.93" y="523.44" width="4.40" height="5.60" fill="#f6f6f6"/>
<rect x="319.38" y="523.44" width="4.40" height="5.60" fill="#f6f6f6"/>
<rect x="324.84" y="523.44" width="4.40" height="5.60" fill="#f6f6f6"/>
<rect x="330.30" y="523.44" width="4.40" height="5.60" fill="#f6f6f6"/>
<rect x="335.75" y="523.44" width="4.40" height="5.60" fill="#f6f6f6"/>
<rect x="341.21" y="523.44" width="4.40" height="5.60" fill="#f6f6f6"/>
<rect x="346.67" y="523.44" width="4.40" height="5.60" fill="#f6f6f6"/>
<rect x="352.12" y="523.44" width="4.40" height="5.60" fill="#2c943c"/>
<rect x="357.58" y="523.44" width="4.40" height="5.60" fill="#f6f6f6"/>
<rect x="363.04" y="523.44" width="4.40" height="5.60" fill="#f6f6f6"/>
<rect x="368.60" y="523.44" width="4.40" height="5.60" fill="#f6f6f6"/>
<rect x="374.06" y="523.44" width="4.40" height="5.60" fill="#f6f6f6"/>
<rect x="379.51" y="523.44" width="4.40" height="5.60" fill="#f6f6f6"/>
<rect x="384.97" y="523.44" width="4.40" height="5.60" fill="#f6f6f6"/>
<rect x="390.43" y="523.44" width="4.40" height="5.60" fill="#f6f6f6"/>
<rect x="395.89" y="523.44" width="4.40" height="5.60" fill="#f6f6f6"/>
<rect x="401.34" y="523.44" width="4.40" height="5.60" fill="#f6f6f6"/>
<rect x="406.80" y="523.44" width="4.40" height="5.60" fill="#f6f6f6"/>
<rect x="412.26" y="523.44" width="4.40" height="5.60" fill="#f6f6f6"/>
<rect x="417.71" y="523.44" width="4.40" height="5.60" fill="#f6f6f6"/>
<rect x="423.17" y="523.44" width="4.40" height="5.60" fill="#f6f6f6"/>
<rect x="428.63" y="523.44" width="4.40" height="5.60" fill="#f6f6f6"/>
<rect x="434.08" y="523.44" width="4.40" height="5.60" fill="#f6f6f6"/>
<rect x="439.54" y="523.44" width="4.40" height="5.60" fill="#f6f6f6"/>
<rect x="445.00" y="523.44" width="4.40" height="5.60" fill="#f6f6f6"/>
<rect x="450.46" y="523.44" width="4.40" height="5.60" fill="#f6f6f6"/>
<rect x="215.70" y="530.39" width="4.40" height="5.60" fill="#f6f6f6"/>
<rect x="221.16" y="530.39" width="4.40" height="5.60" fill="#f6f6f6"/>
<rect x="226.61" y="530.39" width="4.40" height="5.60" fill="#f2900f"/>
<rect x="232.07" y="530.39" width="4.40" height="5.60" fill="#f6f6f6"/>
<rect x="237.53" y="530.39" width="4.40" height="5.60" fill="#f2900f"/>
<rect x="242.98" y="530.39" width="4.40" height="5.60" fill="#f6f6f6"/>
<rect x="248.44" y="530.39" width="4.40" height="5.60" fill="#f6f6f6"/>
<rect x="253.90" y="530.39" width="4.40" height="5.60" fill="#f6f6f6"/>
<rect x="259.36" y="530.39" width="4.40" height="5.60" fill="#f6f6f6"/>
<rect x="264.81" y="530.39" width="4.40" height="5.60" fill="#f2900f"/>
<rect x="270.27" y="530.39" width="4.40" height="5.60" fill="#f6f6f6"/>
<rect x="275.73" y="530.39" width="4.40" height="5.60" fill="#f2900f"/>
<rect x="281.18" y="530.39" width="4.40" height="5.60" fill="#f6f6f6"/>
<rect x="286.64" y="530.39" width="4.40" height="5.60" fill="#f6f6f6"/>
<rect x="292.10" y="530.39" width="4.40" height="5.60" fill="#f6f6f6"/>
<rect x="297.56" y="530.39" width="4.40" height="5.60" fill="#f6f6f6"/>
<rect x="303.01" y="530.39" width="4.40" height="5.60" fill="#f6f6f6"/>
<rect x="308.47" y="530.39" width="4.40" height="5.60" fill="#f6f6f6"/>
<rect x="313.93" y="530.39" width="4.40" height="5.60" fill="#f6f6f6"/>
<rect x="319.38" y="530.39" width="4.40" height="5.60" fill="#f6f6f6"/>
<rect x="324.84" y="530.39" width="4.40" height="5.60" fill="#f6f6f6"/>
<rect x="330.30" y="530.39" width="4.40" height="5.60" fill="#f6f6f6"/>
<rect x="335.75" y="530.39" width="4.40" height="5.60" fill="#f6f6f6"/>
<rect x="341.21" y="530.39" width="4.40" height="5.60" fill="#f6f6f6"/>
<rect x="346.67" y="530.39" width="4.40" height="5.60" fill="#f6f6f6"/>
<rect x="352.12" y="530.39" width="4.40" height="5.60" fill="#f2900f"/>
<text x="354.32" y="534.69" font-size="4.6" text-anchor="middle" style="fill:#6b3a08;stroke:#6b3a08;stroke-width:0.1px">2</text>
<rect x="357.58" y="530.39" width="4.40" height="5.60" fill="#f6f6f6"/>
<rect x="363.04" y="530.39" width="4.40" height="5.60" fill="#f6f6f6"/>
<rect x="368.60" y="530.39" width="4.40" height="5.60" fill="#f6f6f6"/>
<rect x="374.06" y="530.39" width="4.40" height="5.60" fill="#f6f6f6"/>
<rect x="379.51" y="530.39" width="4.40" height="5.60" fill="#f6f6f6"/>
<rect x="384.97" y="530.39" width="4.40" height="5.60" fill="#f6f6f6"/>
<rect x="390.43" y="530.39" width="4.40" height="5.60" fill="#f6f6f6"/>
<rect x="395.89" y="530.39" width="4.40" height="5.60" fill="#f6f6f6"/>
<rect x="401.34" y="530.39" width="4.40" height="5.60" fill="#f6f6f6"/>
<rect x="406.80" y="530.39" width="4.40" height="5.60" fill="#f6f6f6"/>
<rect x="412.26" y="530.39" width="4.40" height="5.60" fill="#2c943c"/>
<rect x="417.71" y="530.39" width="4.40" height="5.60" fill="#f6f6f6"/>
<rect x="423.17" y="530.39" width="4.40" height="5.60" fill="#f6f6f6"/>
<rect x="428.63" y="530.39" width="4.40" height="5.60" fill="#f6f6f6"/>
<rect x="434.08" y="530.39" width="4.40" height="5.60" fill="#f6f6f6"/>
<rect x="439.54" y="530.39" width="4.40" height="5.60" fill="#2c943c"/>
<rect x="445.00" y="530.39" width="4.40" height="5.60" fill="#f6f6f6"/>
<rect x="450.46" y="530.39" width="4.40" height="5.60" fill="#f6f6f6"/>
<rect x="215.70" y="537.33" width="4.40" height="5.60" fill="#f6f6f6"/>
<rect x="221.16" y="537.33" width="4.40" height="5.60" fill="#f6f6f6"/>
<rect x="226.61" y="537.33" width="4.40" height="5.60" fill="#f6f6f6"/>
<rect x="232.07" y="537.33" width="4.40" height="5.60" fill="#f6f6f6"/>
<rect x="237.53" y="537.33" width="4.40" height="5.60" fill="#f6f6f6"/>
<rect x="242.98" y="537.33" width="4.40" height="5.60" fill="#f6f6f6"/>
<rect x="248.44" y="537.33" width="4.40" height="5.60" fill="#f6f6f6"/>
<rect x="253.90" y="537.33" width="4.40" height="5.60" fill="#f6f6f6"/>
<rect x="259.36" y="537.33" width="4.40" height="5.60" fill="#f6f6f6"/>
<rect x="264.81" y="537.33" width="4.40" height="5.60" fill="#f6f6f6"/>
<rect x="270.27" y="537.33" width="4.40" height="5.60" fill="#f6f6f6"/>
<rect x="275.73" y="537.33" width="4.40" height="5.60" fill="#f2900f"/>
<rect x="281.18" y="537.33" width="4.40" height="5.60" fill="#f6f6f6"/>
<rect x="286.64" y="537.33" width="4.40" height="5.60" fill="#f6f6f6"/>
<rect x="292.10" y="537.33" width="4.40" height="5.60" fill="#f6f6f6"/>
<rect x="297.56" y="537.33" width="4.40" height="5.60" fill="#f6f6f6"/>
<rect x="303.01" y="537.33" width="4.40" height="5.60" fill="#f6f6f6"/>
<rect x="308.47" y="537.33" width="4.40" height="5.60" fill="#f6f6f6"/>
<rect x="313.93" y="537.33" width="4.40" height="5.60" fill="#f6f6f6"/>
<rect x="319.38" y="537.33" width="4.40" height="5.60" fill="#f6f6f6"/>
<rect x="324.84" y="537.33" width="4.40" height="5.60" fill="#f6f6f6"/>
<rect x="330.30" y="537.33" width="4.40" height="5.60" fill="#f6f6f6"/>
<rect x="335.75" y="537.33" width="4.40" height="5.60" fill="#f6f6f6"/>
<rect x="341.21" y="537.33" width="4.40" height="5.60" fill="#f6f6f6"/>
<rect x="346.67" y="537.33" width="4.40" height="5.60" fill="#f6f6f6"/>
<rect x="352.12" y="537.33" width="4.40" height="5.60" fill="#f6f6f6"/>
<rect x="357.58" y="537.33" width="4.40" height="5.60" fill="#f6f6f6"/>
<rect x="363.04" y="537.33" width="4.40" height="5.60" fill="#f6f6f6"/>
<rect x="368.60" y="537.33" width="4.40" height="5.60" fill="#f6f6f6"/>
<rect x="374.06" y="537.33" width="4.40" height="5.60" fill="#f6f6f6"/>
<rect x="379.51" y="537.33" width="4.40" height="5.60" fill="#f6f6f6"/>
<rect x="384.97" y="537.33" width="4.40" height="5.60" fill="#f6f6f6"/>
<rect x="390.43" y="537.33" width="4.40" height="5.60" fill="#f6f6f6"/>
<rect x="395.89" y="537.33" width="4.40" height="5.60" fill="#f6f6f6"/>
<rect x="401.34" y="537.33" width="4.40" height="5.60" fill="#f6f6f6"/>
<rect x="406.80" y="537.33" width="4.40" height="5.60" fill="#f6f6f6"/>
<rect x="412.26" y="537.33" width="4.40" height="5.60" fill="#f6f6f6"/>
<rect x="417.71" y="537.33" width="4.40" height="5.60" fill="#f6f6f6"/>
<rect x="423.17" y="537.33" width="4.40" height="5.60" fill="#f6f6f6"/>
<rect x="428.63" y="537.33" width="4.40" height="5.60" fill="#f6f6f6"/>
<rect x="434.08" y="537.33" width="4.40" height="5.60" fill="#f6f6f6"/>
<rect x="439.54" y="537.33" width="4.40" height="5.60" fill="#f6f6f6"/>
<rect x="445.00" y="537.33" width="4.40" height="5.60" fill="#f6f6f6"/>
<rect x="450.46" y="537.33" width="4.40" height="5.60" fill="#f6f6f6"/>
<rect x="215.70" y="544.28" width="4.40" height="5.60" fill="#f6f6f6"/>
<rect x="221.16" y="544.28" width="4.40" height="5.60" fill="#f6f6f6"/>
<rect x="226.61" y="544.28" width="4.40" height="5.60" fill="#f6f6f6"/>
<rect x="232.07" y="544.28" width="4.40" height="5.60" fill="#f6f6f6"/>
<rect x="237.53" y="544.28" width="4.40" height="5.60" fill="#f6f6f6"/>
<rect x="242.98" y="544.28" width="4.40" height="5.60" fill="#f6f6f6"/>
<rect x="248.44" y="544.28" width="4.40" height="5.60" fill="#f6f6f6"/>
<rect x="253.90" y="544.28" width="4.40" height="5.60" fill="#f6f6f6"/>
<rect x="259.36" y="544.28" width="4.40" height="5.60" fill="#f6f6f6"/>
<rect x="264.81" y="544.28" width="4.40" height="5.60" fill="#f6f6f6"/>
<rect x="270.27" y="544.28" width="4.40" height="5.60" fill="#f6f6f6"/>
<rect x="275.73" y="544.28" width="4.40" height="5.60" fill="#f6f6f6"/>
<rect x="281.18" y="544.28" width="4.40" height="5.60" fill="#f6f6f6"/>
<rect x="286.64" y="544.28" width="4.40" height="5.60" fill="#f6f6f6"/>
<rect x="292.10" y="544.28" width="4.40" height="5.60" fill="#f6f6f6"/>
<rect x="297.56" y="544.28" width="4.40" height="5.60" fill="#f6f6f6"/>
<rect x="303.01" y="544.28" width="4.40" height="5.60" fill="#f6f6f6"/>
<rect x="308.47" y="544.28" width="4.40" height="5.60" fill="#f6f6f6"/>
<rect x="313.93" y="544.28" width="4.40" height="5.60" fill="#f6f6f6"/>
<rect x="319.38" y="544.28" width="4.40" height="5.60" fill="#f6f6f6"/>
<rect x="324.84" y="544.28" width="4.40" height="5.60" fill="#f6f6f6"/>
<rect x="330.30" y="544.28" width="4.40" height="5.60" fill="#f6f6f6"/>
<rect x="335.75" y="544.28" width="4.40" height="5.60" fill="#f6f6f6"/>
<rect x="341.21" y="544.28" width="4.40" height="5.60" fill="#f6f6f6"/>
<rect x="346.67" y="544.28" width="4.40" height="5.60" fill="#f6f6f6"/>
<rect x="352.12" y="544.28" width="4.40" height="5.60" fill="#f6f6f6"/>
<rect x="357.58" y="544.28" width="4.40" height="5.60" fill="#f6f6f6"/>
<rect x="363.04" y="544.28" width="4.40" height="5.60" fill="#f6f6f6"/>
<rect x="368.60" y="544.28" width="4.40" height="5.60" fill="#f6f6f6"/>
<rect x="374.06" y="544.28" width="4.40" height="5.60" fill="#f6f6f6"/>
<rect x="379.51" y="544.28" width="4.40" height="5.60" fill="#f6f6f6"/>
<rect x="384.97" y="544.28" width="4.40" height="5.60" fill="#f6f6f6"/>
<rect x="390.43" y="544.28" width="4.40" height="5.60" fill="#f6f6f6"/>
<rect x="395.89" y="544.28" width="4.40" height="5.60" fill="#f6f6f6"/>
<rect x="401.34" y="544.28" width="4.40" height="5.60" fill="#f6f6f6"/>
<rect x="406.80" y="544.28" width="4.40" height="5.60" fill="#f6f6f6"/>
<rect x="412.26" y="544.28" width="4.40" height="5.60" fill="#f6f6f6"/>
<rect x="417.71" y="544.28" width="4.40" height="5.60" fill="#f6f6f6"/>
<rect x="423.17" y="544.28" width="4.40" height="5.60" fill="#f6f6f6"/>
<rect x="428.63" y="544.28" width="4.40" height="5.60" fill="#f6f6f6"/>
<rect x="434.08" y="544.28" width="4.40" height="5.60" fill="#f6f6f6"/>
<rect x="439.54" y="544.28" width="4.40" height="5.60" fill="#f6f6f6"/>
<rect x="445.00" y="544.28" width="4.40" height="5.60" fill="#f6f6f6"/>
<rect x="450.46" y="544.28" width="4.40" height="5.60" fill="#2c943c"/>
<rect x="215.70" y="551.22" width="4.40" height="5.60" fill="#f6f6f6"/>
<rect x="221.16" y="551.22" width="4.40" height="5.60" fill="#2c943c"/>
<rect x="226.61" y="551.22" width="4.40" height="5.60" fill="#2c943c"/>
<rect x="232.07" y="551.22" width="4.40" height="5.60" fill="#f6f6f6"/>
<rect x="237.53" y="551.22" width="4.40" height="5.60" fill="#f6f6f6"/>
<rect x="242.98" y="551.22" width="4.40" height="5.60" fill="#f6f6f6"/>
<rect x="248.44" y="551.22" width="4.40" height="5.60" fill="#f6f6f6"/>
<rect x="253.90" y="551.22" width="4.40" height="5.60" fill="#f6f6f6"/>
<rect x="259.36" y="551.22" width="4.40" height="5.60" fill="#f6f6f6"/>
<rect x="264.81" y="551.22" width="4.40" height="5.60" fill="#f6f6f6"/>
<rect x="270.27" y="551.22" width="4.40" height="5.60" fill="#f6f6f6"/>
<rect x="275.73" y="551.22" width="4.40" height="5.60" fill="#f6f6f6"/>
<rect x="281.18" y="551.22" width="4.40" height="5.60" fill="#f6f6f6"/>
<rect x="286.64" y="551.22" width="4.40" height="5.60" fill="#f6f6f6"/>
<rect x="292.10" y="551.22" width="4.40" height="5.60" fill="#f6f6f6"/>
<rect x="297.56" y="551.22" width="4.40" height="5.60" fill="#f6f6f6"/>
<rect x="303.01" y="551.22" width="4.40" height="5.60" fill="#f6f6f6"/>
<rect x="308.47" y="551.22" width="4.40" height="5.60" fill="#f6f6f6"/>
<rect x="313.93" y="551.22" width="4.40" height="5.60" fill="#f6f6f6"/>
<rect x="319.38" y="551.22" width="4.40" height="5.60" fill="#f6f6f6"/>
<rect x="324.84" y="551.22" width="4.40" height="5.60" fill="#f6f6f6"/>
<rect x="330.30" y="551.22" width="4.40" height="5.60" fill="#f6f6f6"/>
<rect x="335.75" y="551.22" width="4.40" height="5.60" fill="#f6f6f6"/>
<rect x="341.21" y="551.22" width="4.40" height="5.60" fill="#f6f6f6"/>
<rect x="346.67" y="551.22" width="4.40" height="5.60" fill="#f6f6f6"/>
<rect x="352.12" y="551.22" width="4.40" height="5.60" fill="#f6f6f6"/>
<rect x="357.58" y="551.22" width="4.40" height="5.60" fill="#f6f6f6"/>
<rect x="363.04" y="551.22" width="4.40" height="5.60" fill="#f6f6f6"/>
<rect x="368.60" y="551.22" width="4.40" height="5.60" fill="#f6f6f6"/>
<rect x="374.06" y="551.22" width="4.40" height="5.60" fill="#f6f6f6"/>
<rect x="379.51" y="551.22" width="4.40" height="5.60" fill="#f6f6f6"/>
<rect x="384.97" y="551.22" width="4.40" height="5.60" fill="#f6f6f6"/>
<rect x="390.43" y="551.22" width="4.40" height="5.60" fill="#f6f6f6"/>
<rect x="395.89" y="551.22" width="4.40" height="5.60" fill="#f6f6f6"/>
<rect x="401.34" y="551.22" width="4.40" height="5.60" fill="#f6f6f6"/>
<rect x="406.80" y="551.22" width="4.40" height="5.60" fill="#f6f6f6"/>
<rect x="412.26" y="551.22" width="4.40" height="5.60" fill="#f6f6f6"/>
<rect x="417.71" y="551.22" width="4.40" height="5.60" fill="#f6f6f6"/>
<rect x="423.17" y="551.22" width="4.40" height="5.60" fill="#f6f6f6"/>
<rect x="428.63" y="551.22" width="4.40" height="5.60" fill="#f6f6f6"/>
<rect x="434.08" y="551.22" width="4.40" height="5.60" fill="#f6f6f6"/>
<rect x="439.54" y="551.22" width="4.40" height="5.60" fill="#f6f6f6"/>
<rect x="445.00" y="551.22" width="4.40" height="5.60" fill="#f6f6f6"/>
<rect x="450.46" y="551.22" width="4.40" height="5.60" fill="#f6f6f6"/>
<rect x="215.70" y="558.17" width="4.40" height="5.60" fill="#f6f6f6"/>
<rect x="221.16" y="558.17" width="4.40" height="5.60" fill="#f6f6f6"/>
<rect x="226.61" y="558.17" width="4.40" height="5.60" fill="#f6f6f6"/>
<rect x="232.07" y="558.17" width="4.40" height="5.60" fill="#f6f6f6"/>
<rect x="237.53" y="558.17" width="4.40" height="5.60" fill="#f6f6f6"/>
<rect x="242.98" y="558.17" width="4.40" height="5.60" fill="#f6f6f6"/>
<rect x="248.44" y="558.17" width="4.40" height="5.60" fill="#2c943c"/>
<rect x="253.90" y="558.17" width="4.40" height="5.60" fill="#f6f6f6"/>
<rect x="259.36" y="558.17" width="4.40" height="5.60" fill="#f6f6f6"/>
<rect x="264.81" y="558.17" width="4.40" height="5.60" fill="#f6f6f6"/>
<rect x="270.27" y="558.17" width="4.40" height="5.60" fill="#f6f6f6"/>
<rect x="275.73" y="558.17" width="4.40" height="5.60" fill="#f6f6f6"/>
<rect x="281.18" y="558.17" width="4.40" height="5.60" fill="#f6f6f6"/>
<rect x="286.64" y="558.17" width="4.40" height="5.60" fill="#2c943c"/>
<rect x="292.10" y="558.17" width="4.40" height="5.60" fill="#f6f6f6"/>
<rect x="297.56" y="558.17" width="4.40" height="5.60" fill="#f6f6f6"/>
<rect x="303.01" y="558.17" width="4.40" height="5.60" fill="#f6f6f6"/>
<rect x="308.47" y="558.17" width="4.40" height="5.60" fill="#f6f6f6"/>
<rect x="313.93" y="558.17" width="4.40" height="5.60" fill="#f6f6f6"/>
<rect x="319.38" y="558.17" width="4.40" height="5.60" fill="#f6f6f6"/>
<rect x="324.84" y="558.17" width="4.40" height="5.60" fill="#f6f6f6"/>
<rect x="330.30" y="558.17" width="4.40" height="5.60" fill="#2c943c"/>
<rect x="335.75" y="558.17" width="4.40" height="5.60" fill="#2c943c"/>
<rect x="341.21" y="558.17" width="4.40" height="5.60" fill="#f6f6f6"/>
<rect x="346.67" y="558.17" width="4.40" height="5.60" fill="#f6f6f6"/>
<rect x="352.12" y="558.17" width="4.40" height="5.60" fill="#f6f6f6"/>
<rect x="357.58" y="558.17" width="4.40" height="5.60" fill="#f6f6f6"/>
<rect x="363.04" y="558.17" width="4.40" height="5.60" fill="#f6f6f6"/>
<rect x="368.60" y="558.17" width="4.40" height="5.60" fill="#f6f6f6"/>
<rect x="374.06" y="558.17" width="4.40" height="5.60" fill="#f6f6f6"/>
<rect x="379.51" y="558.17" width="4.40" height="5.60" fill="#f6f6f6"/>
<rect x="384.97" y="558.17" width="4.40" height="5.60" fill="#f6f6f6"/>
<rect x="390.43" y="558.17" width="4.40" height="5.60" fill="#f6f6f6"/>
<rect x="395.89" y="558.17" width="4.40" height="5.60" fill="#f6f6f6"/>
<rect x="401.34" y="558.17" width="4.40" height="5.60" fill="#f6f6f6"/>
<rect x="406.80" y="558.17" width="4.40" height="5.60" fill="#f6f6f6"/>
<rect x="412.26" y="558.17" width="4.40" height="5.60" fill="#f6f6f6"/>
<rect x="417.71" y="558.17" width="4.40" height="5.60" fill="#f6f6f6"/>
<rect x="423.17" y="558.17" width="4.40" height="5.60" fill="#2c943c"/>
<rect x="428.63" y="558.17" width="4.40" height="5.60" fill="#2c943c"/>
<rect x="434.08" y="558.17" width="4.40" height="5.60" fill="#f6f6f6"/>
<rect x="439.54" y="558.17" width="4.40" height="5.60" fill="#f6f6f6"/>
<rect x="445.00" y="558.17" width="4.40" height="5.60" fill="#f6f6f6"/>
<rect x="450.46" y="558.17" width="4.40" height="5.60" fill="#f6f6f6"/>
<rect x="215.70" y="565.12" width="4.40" height="5.60" fill="#f6f6f6"/>
<rect x="221.16" y="565.12" width="4.40" height="5.60" fill="#f6f6f6"/>
<rect x="226.61" y="565.12" width="4.40" height="5.60" fill="#f6f6f6"/>
<rect x="232.07" y="565.12" width="4.40" height="5.60" fill="#f6f6f6"/>
<rect x="237.53" y="565.12" width="4.40" height="5.60" fill="#f6f6f6"/>
<rect x="242.98" y="565.12" width="4.40" height="5.60" fill="#f6f6f6"/>
<rect x="248.44" y="565.12" width="4.40" height="5.60" fill="#f6f6f6"/>
<rect x="253.90" y="565.12" width="4.40" height="5.60" fill="#f6f6f6"/>
<rect x="259.36" y="565.12" width="4.40" height="5.60" fill="#f6f6f6"/>
<rect x="264.81" y="565.12" width="4.40" height="5.60" fill="#f6f6f6"/>
<rect x="270.27" y="565.12" width="4.40" height="5.60" fill="#f6f6f6"/>
<rect x="275.73" y="565.12" width="4.40" height="5.60" fill="#f6f6f6"/>
<rect x="281.18" y="565.12" width="4.40" height="5.60" fill="#f6f6f6"/>
<rect x="286.64" y="565.12" width="4.40" height="5.60" fill="#f6f6f6"/>
<rect x="292.10" y="565.12" width="4.40" height="5.60" fill="#f6f6f6"/>
<rect x="297.56" y="565.12" width="4.40" height="5.60" fill="#f6f6f6"/>
<rect x="303.01" y="565.12" width="4.40" height="5.60" fill="#f6f6f6"/>
<rect x="308.47" y="565.12" width="4.40" height="5.60" fill="#f6f6f6"/>
<rect x="313.93" y="565.12" width="4.40" height="5.60" fill="#f6f6f6"/>
<rect x="319.38" y="565.12" width="4.40" height="5.60" fill="#f6f6f6"/>
<rect x="324.84" y="565.12" width="4.40" height="5.60" fill="#f6f6f6"/>
<rect x="330.30" y="565.12" width="4.40" height="5.60" fill="#f6f6f6"/>
<rect x="335.75" y="565.12" width="4.40" height="5.60" fill="#f6f6f6"/>
<rect x="341.21" y="565.12" width="4.40" height="5.60" fill="#f6f6f6"/>
<rect x="346.67" y="565.12" width="4.40" height="5.60" fill="#f6f6f6"/>
<rect x="352.12" y="565.12" width="4.40" height="5.60" fill="#f6f6f6"/>
<rect x="357.58" y="565.12" width="4.40" height="5.60" fill="#2c943c"/>
<rect x="363.04" y="565.12" width="4.40" height="5.60" fill="#f6f6f6"/>
<rect x="368.60" y="565.12" width="4.40" height="5.60" fill="#f6f6f6"/>
<rect x="374.06" y="565.12" width="4.40" height="5.60" fill="#f6f6f6"/>
<rect x="379.51" y="565.12" width="4.40" height="5.60" fill="#f6f6f6"/>
<rect x="384.97" y="565.12" width="4.40" height="5.60" fill="#f6f6f6"/>
<rect x="390.43" y="565.12" width="4.40" height="5.60" fill="#f6f6f6"/>
<rect x="395.89" y="565.12" width="4.40" height="5.60" fill="#f6f6f6"/>
<rect x="401.34" y="565.12" width="4.40" height="5.60" fill="#f6f6f6"/>
<rect x="406.80" y="565.12" width="4.40" height="5.60" fill="#f6f6f6"/>
<rect x="412.26" y="565.12" width="4.40" height="5.60" fill="#f6f6f6"/>
<rect x="417.71" y="565.12" width="4.40" height="5.60" fill="#f6f6f6"/>
<rect x="423.17" y="565.12" width="4.40" height="5.60" fill="#f6f6f6"/>
<rect x="428.63" y="565.12" width="4.40" height="5.60" fill="#f6f6f6"/>
<rect x="434.08" y="565.12" width="4.40" height="5.60" fill="#f6f6f6"/>
<rect x="439.54" y="565.12" width="4.40" height="5.60" fill="#f6f6f6"/>
<rect x="445.00" y="565.12" width="4.40" height="5.60" fill="#f6f6f6"/>
<rect x="450.46" y="565.12" width="4.40" height="5.60" fill="#f6f6f6"/>
<rect x="215.2" y="232.8" width="240.0" height="338.6" fill="none" stroke="#1e1e1e" stroke-width="1.15"/>
<line x1="215.20" y1="244.30" x2="455.20" y2="244.30" stroke="#1e1e1e" stroke-width="1.2"/>
<line x1="367.80" y1="232.80" x2="367.80" y2="571.40" stroke="#1e1e1e" stroke-width="1.2"/>
<text x="212.00" y="249.90" font-size="6.6" text-anchor="end" letter-spacing="0.1">Age</text>
<text x="212.00" y="256.85" font-size="6.6" text-anchor="end" letter-spacing="0.1">MDS subgroup</text>
<text x="212.00" y="263.79" font-size="6.6" text-anchor="end" letter-spacing="0.1">Cytogenetics</text>
<text x="212.00" y="270.74" font-size="6.6" text-anchor="end" letter-spacing="0.1">Death</text>
<text x="212.00" y="277.68" font-size="6.6" text-anchor="end" letter-spacing="0.1">Relapse</text>
<text x="212.00" y="284.63" font-size="6.6" text-anchor="end" letter-spacing="0.1">Non-relapse mortality</text>
<text x="212.00" y="291.58" font-size="6.6" text-anchor="end" letter-spacing="0.1">Primary graft failure/rejection</text>
<text transform="translate(212.00,298.32) scale(0.93,1)" font-size="6.7" text-anchor="end" font-style="italic">BARD1</text>
<text transform="translate(212.00,305.27) scale(0.93,1)" font-size="6.7" text-anchor="end" font-style="italic">BLM</text>
<text transform="translate(212.00,312.21) scale(0.93,1)" font-size="6.7" text-anchor="end" font-style="italic">BRCA2</text>
<text transform="translate(212.00,319.16) scale(0.93,1)" font-size="6.7" text-anchor="end" font-style="italic">BRIP1</text>
<text transform="translate(212.00,326.11) scale(0.93,1)" font-size="6.7" text-anchor="end" font-style="italic">CHEK2</text>
<text transform="translate(212.00,333.05) scale(0.93,1)" font-size="6.7" text-anchor="end" font-style="italic">ERCC6L2</text>
<text transform="translate(212.00,340.00) scale(0.93,1)" font-size="6.7" text-anchor="end" font-style="italic">FANCA</text>
<text transform="translate(212.00,346.94) scale(0.93,1)" font-size="6.7" text-anchor="end" font-style="italic">FANCG</text>
<text transform="translate(212.00,353.89) scale(0.93,1)" font-size="6.7" text-anchor="end" font-style="italic">MRE11</text>
<text transform="translate(212.00,360.84) scale(0.93,1)" font-size="6.7" text-anchor="end" font-style="italic">MSH6</text>
<text transform="translate(212.00,367.78) scale(0.93,1)" font-size="6.7" text-anchor="end" font-style="italic">NBN</text>
<text transform="translate(212.00,374.73) scale(0.93,1)" font-size="6.7" text-anchor="end" font-style="italic">PALB2</text>
<text transform="translate(212.00,381.67) scale(0.93,1)" font-size="6.7" text-anchor="end" font-style="italic">PMS2</text>
<text transform="translate(212.00,388.62) scale(0.93,1)" font-size="6.7" text-anchor="end" font-style="italic">RAD50</text>
<text transform="translate(212.00,395.57) scale(0.93,1)" font-size="6.7" text-anchor="end" font-style="italic">CSF3R</text>
<text transform="translate(212.00,402.51) scale(0.93,1)" font-size="6.7" text-anchor="end" font-style="italic">NF1</text>
<text transform="translate(212.00,409.46) scale(0.93,1)" font-size="6.7" text-anchor="end" font-style="italic">NRAS</text>
<text transform="translate(212.00,416.40) scale(0.93,1)" font-size="6.7" text-anchor="end" font-style="italic">ASXL1</text>
<text transform="translate(212.00,423.35) scale(0.93,1)" font-size="6.7" text-anchor="end" font-style="italic">CREBBP</text>
<text transform="translate(212.00,430.30) scale(0.93,1)" font-size="6.7" text-anchor="end" font-style="italic">GATA2</text>
<text transform="translate(212.00,437.24) scale(0.93,1)" font-size="6.7" text-anchor="end" font-style="italic">NFE2</text>
<text transform="translate(212.00,444.19) scale(0.93,1)" font-size="6.7" text-anchor="end" font-style="italic">RUNX1</text>
<text transform="translate(212.00,451.13) scale(0.93,1)" font-size="6.7" text-anchor="end" font-style="italic">DNMT3A</text>
<text transform="translate(212.00,458.08) scale(0.93,1)" font-size="6.7" text-anchor="end" font-style="italic">TET2</text>
<text transform="translate(212.00,465.03) scale(0.93,1)" font-size="6.7" text-anchor="end" font-style="italic">CBL</text>
<text transform="translate(212.00,471.97) scale(0.93,1)" font-size="6.7" text-anchor="end" font-style="italic">MPL</text>
<text transform="translate(212.00,478.92) scale(0.93,1)" font-size="6.7" text-anchor="end" font-style="italic">SETBP1</text>
<text transform="translate(212.00,485.86) scale(0.93,1)" font-size="6.7" text-anchor="end" font-style="italic">SF3B1</text>
<text transform="translate(212.00,492.81) scale(0.93,1)" font-size="6.7" text-anchor="end" font-style="italic">SRSF2</text>
<text transform="translate(212.00,499.76) scale(0.93,1)" font-size="6.7" text-anchor="end" font-style="italic">U2AF1</text>
<text transform="translate(212.00,506.70) scale(0.93,1)" font-size="6.7" text-anchor="end" font-style="italic">CSNK1A1</text>
<text transform="translate(212.00,513.65) scale(0.93,1)" font-size="6.7" text-anchor="end" font-style="italic">PPM1D</text>
<text transform="translate(212.00,520.59) scale(0.93,1)" font-size="6.7" text-anchor="end" font-style="italic">ACD</text>
<text transform="translate(212.00,527.54) scale(0.93,1)" font-size="6.7" text-anchor="end" font-style="italic">TERT</text>
<text transform="translate(212.00,534.49) scale(0.93,1)" font-size="6.7" text-anchor="end" font-style="italic">TP53</text>
<text transform="translate(212.00,541.43) scale(0.93,1)" font-size="6.7" text-anchor="end" font-style="italic">SMC1A</text>
<text transform="translate(212.00,548.38) scale(0.93,1)" font-size="6.7" text-anchor="end" font-style="italic">TUBB1</text>
<text transform="translate(212.00,555.32) scale(0.93,1)" font-size="6.7" text-anchor="end" font-style="italic">SBDS</text>
<text transform="translate(212.00,562.27) scale(0.93,1)" font-size="6.7" text-anchor="end" font-style="italic">DDX41</text>
<text transform="translate(212.00,569.22) scale(0.93,1)" font-size="6.7" text-anchor="end" font-style="italic">TNFRSF13B</text>
<path d="M170.60,294.60 L165.00,294.60 Q164.20,294.60 164.20,295.40 L164.20,388.40 Q164.20,389.20 165.00,389.20 L170.60,389.20 M157.80,341.90 L164.20,341.90" fill="none" stroke="#222" stroke-width="1.1"/>
<text x="151.80" y="344.30" font-size="6.6" text-anchor="end" letter-spacing="0.1">DNA repair</text>
<path d="M170.60,390.90 L165.00,390.90 Q164.20,390.90 164.20,391.70 L164.20,408.90 Q164.20,409.70 165.00,409.70 L170.60,409.70 M157.80,400.30 L164.20,400.30" fill="none" stroke="#222" stroke-width="1.1"/>
<text x="151.80" y="402.70" font-size="6.6" text-anchor="end" letter-spacing="0.1">Activated signaling</text>
<path d="M170.60,411.20 L165.00,411.20 Q164.20,411.20 164.20,412.00 L164.20,416.60 Q164.20,417.40 165.00,417.40 L170.60,417.40 M157.80,414.30 L164.20,414.30" fill="none" stroke="#222" stroke-width="1.1"/>
<text x="151.80" y="416.70" font-size="6.6" text-anchor="end" letter-spacing="0.1">Chromatin modifier</text>
<path d="M170.60,419.10 L165.00,419.10 Q164.20,419.10 164.20,419.90 L164.20,444.60 Q164.20,445.40 165.00,445.40 L170.60,445.40 M157.80,432.25 L164.20,432.25" fill="none" stroke="#222" stroke-width="1.1"/>
<text x="151.80" y="434.65" font-size="6.6" text-anchor="end" letter-spacing="0.1">Transcriptional activation</text>
<path d="M170.60,446.80 L165.00,446.80 Q164.20,446.80 164.20,447.60 L164.20,458.80 Q164.20,459.60 165.00,459.60 L170.60,459.60 M157.80,453.20 L164.20,453.20" fill="none" stroke="#222" stroke-width="1.1"/>
<text x="151.80" y="455.60" font-size="6.6" text-anchor="end" letter-spacing="0.1">DNA methylation</text>
<path d="M170.60,461.20 L165.00,461.20 Q164.20,461.20 164.20,462.00 L164.20,479.20 Q164.20,480.00 165.00,480.00 L170.60,480.00 M157.80,470.60 L164.20,470.60" fill="none" stroke="#222" stroke-width="1.1"/>
<text x="151.80" y="473.00" font-size="6.6" text-anchor="end" letter-spacing="0.1">Oncogenes</text>
<path d="M170.60,481.40 L165.00,481.40 Q164.20,481.40 164.20,482.20 L164.20,500.40 Q164.20,501.20 165.00,501.20 L170.60,501.20 M157.80,491.30 L164.20,491.30" fill="none" stroke="#222" stroke-width="1.1"/>
<text x="151.80" y="493.70" font-size="6.6" text-anchor="end" letter-spacing="0.1">Spliceosome</text>
<path d="M170.60,503.40 L165.00,503.40 Q164.20,503.40 164.20,504.20 L164.20,514.70 Q164.20,515.50 165.00,515.50 L170.60,515.50 M157.80,509.45 L164.20,509.45" fill="none" stroke="#222" stroke-width="1.1"/>
<text x="151.80" y="511.85" font-size="6.6" text-anchor="end" letter-spacing="0.1">Phosphatase/kinase activity</text>
<path d="M170.60,517.90 L165.00,517.90 Q164.20,517.90 164.20,518.70 L164.20,527.80 Q164.20,528.60 165.00,528.60 L170.60,528.60 M157.80,523.25 L164.20,523.25" fill="none" stroke="#222" stroke-width="1.1"/>
<text x="151.80" y="525.65" font-size="6.6" text-anchor="end" letter-spacing="0.1">Telomere biology</text>
<path d="M170.60,529.00 L165.00,529.00 Q164.20,529.00 164.20,529.80 L164.20,535.30 Q164.20,536.10 165.00,536.10 L170.60,536.10 M157.80,532.55 L164.20,532.55" fill="none" stroke="#222" stroke-width="1.1"/>
<text x="151.80" y="534.95" font-size="6.6" text-anchor="end" letter-spacing="0.1">Tumor suppressor</text>
<path d="M170.60,536.30 L165.00,536.30 Q164.20,536.30 164.20,537.10 L164.20,542.60 Q164.20,543.40 165.00,543.40 L170.60,543.40 M157.80,539.85 L164.20,539.85" fill="none" stroke="#222" stroke-width="1.1"/>
<text x="151.80" y="542.25" font-size="6.6" text-anchor="end" letter-spacing="0.1">Cohesin complex</text>
<path d="M170.60,543.60 L165.00,543.60 Q164.20,543.60 164.20,544.40 L164.20,549.50 Q164.20,550.30 165.00,550.30 L170.60,550.30 M157.80,546.95 L164.20,546.95" fill="none" stroke="#222" stroke-width="1.1"/>
<text x="151.80" y="549.35" font-size="6.6" text-anchor="end" letter-spacing="0.1">Cytoskeletal regulation</text>
<path d="M170.60,550.50 L165.00,550.50 Q164.20,550.50 164.20,551.30 L164.20,556.60 Q164.20,557.40 165.00,557.40 L170.60,557.40 M157.80,553.95 L164.20,553.95" fill="none" stroke="#222" stroke-width="1.1"/>
<text x="151.80" y="556.35" font-size="6.6" text-anchor="end" letter-spacing="0.1">Ribosome maturation</text>
<path d="M170.60,557.60 L165.00,557.60 Q164.20,557.60 164.20,558.40 L164.20,563.40 Q164.20,564.20 165.00,564.20 L170.60,564.20 M157.80,560.90 L164.20,560.90" fill="none" stroke="#222" stroke-width="1.1"/>
<text x="151.80" y="563.30" font-size="6.6" text-anchor="end" letter-spacing="0.1">RNA helicase</text>
<path d="M170.60,564.40 L165.00,564.40 Q164.20,564.40 164.20,565.20 L164.20,569.80 Q164.20,570.60 165.00,570.60 L170.60,570.60 M157.80,567.50 L164.20,567.50" fill="none" stroke="#222" stroke-width="1.1"/>
<text x="151.80" y="569.90" font-size="6.6" text-anchor="end" letter-spacing="0.1">Transmembrane signaling</text>
<text x="213.50" y="588.60" font-size="5.4" text-anchor="start" style="fill:#3a3a3a;stroke:#3a3a3a">Age</text>
<text x="213.50" y="597.30" font-size="5.4" text-anchor="start" style="fill:#3a3a3a;stroke:#3a3a3a">10-19</text>
<rect x="235.80" y="591.30" width="6.50" height="8.60" fill="#dde8f5"/>
<text x="213.50" y="607.30" font-size="5.4" text-anchor="start" style="fill:#3a3a3a;stroke:#3a3a3a">20-29</text>
<rect x="235.80" y="601.30" width="6.50" height="8.60" fill="#bdd5ee"/>
<text x="213.50" y="617.30" font-size="5.4" text-anchor="start" style="fill:#3a3a3a;stroke:#3a3a3a">30-39</text>
<rect x="235.80" y="611.30" width="6.50" height="8.60" fill="#8ebde4"/>
<text x="213.50" y="627.30" font-size="5.4" text-anchor="start" style="fill:#3a3a3a;stroke:#3a3a3a">40-49</text>
<rect x="235.80" y="621.30" width="6.50" height="8.60" fill="#2d9fd9"/>
<text x="213.50" y="637.30" font-size="5.4" text-anchor="start" style="fill:#3a3a3a;stroke:#3a3a3a">50-59</text>
<rect x="235.80" y="631.30" width="6.50" height="8.60" fill="#4466ad"/>
<text x="213.50" y="647.30" font-size="5.4" text-anchor="start" style="fill:#3a3a3a;stroke:#3a3a3a">60-69</text>
<rect x="235.80" y="641.30" width="6.50" height="8.60" fill="#2f6399"/>
<text x="213.50" y="657.30" font-size="5.4" text-anchor="start" style="fill:#3a3a3a;stroke:#3a3a3a">70-79</text>
<rect x="235.80" y="651.30" width="6.50" height="8.60" fill="#1d4577"/>
<text x="244.80" y="588.60" font-size="5.4" text-anchor="start" style="fill:#3a3a3a;stroke:#3a3a3a">MDS subtype</text>
<text x="246.30" y="597.30" font-size="5.4" text-anchor="start" style="fill:#3a3a3a;stroke:#3a3a3a">RA/RARS</text>
<rect x="296.70" y="591.30" width="6.80" height="8.40" fill="#fde3dc"/>
<text x="246.30" y="607.30" font-size="5.4" text-anchor="start" style="fill:#3a3a3a;stroke:#3a3a3a">RCMD/RCMD-RS</text>
<rect x="296.70" y="601.30" width="6.80" height="8.40" fill="#f9cfc0"/>
<text x="246.30" y="617.30" font-size="5.4" text-anchor="start" style="fill:#3a3a3a;stroke:#3a3a3a">del5q</text>
<rect x="296.70" y="611.30" width="6.80" height="8.40" fill="#f2a696"/>
<text x="246.30" y="627.30" font-size="5.4" text-anchor="start" style="fill:#3a3a3a;stroke:#3a3a3a">Unclassifiable</text>
<rect x="296.70" y="621.30" width="6.80" height="8.40" fill="#e8867a"/>
<text x="246.30" y="637.30" font-size="5.4" text-anchor="start" style="fill:#3a3a3a;stroke:#3a3a3a">RAEB-1</text>
<rect x="296.70" y="631.30" width="6.80" height="8.40" fill="#e0614f"/>
<text x="246.30" y="647.30" font-size="5.4" text-anchor="start" style="fill:#3a3a3a;stroke:#3a3a3a">RAEB-2</text>
<rect x="296.70" y="641.30" width="6.80" height="8.40" fill="#d6343a"/>
<text x="246.30" y="657.30" font-size="5.4" text-anchor="start" style="fill:#3a3a3a;stroke:#3a3a3a">CMML</text>
<rect x="296.70" y="651.30" width="6.80" height="8.40" fill="#c81327"/>
<text x="306.90" y="588.60" font-size="5.4" text-anchor="start" style="fill:#3a3a3a;stroke:#3a3a3a">Cytogenetics</text>
<text x="306.90" y="597.30" font-size="5.4" text-anchor="start" style="fill:#3a3a3a;stroke:#3a3a3a">Favorable</text>
<rect x="347.30" y="591.60" width="6.20" height="8.20" fill="#ad8cc8"/>
<text x="306.90" y="607.30" font-size="5.4" text-anchor="start" style="fill:#3a3a3a;stroke:#3a3a3a">Intermediate</text>
<rect x="347.30" y="601.60" width="6.20" height="8.20" fill="#7c4a94"/>
<text x="306.90" y="617.30" font-size="5.4" text-anchor="start" style="fill:#3a3a3a;stroke:#3a3a3a">Poor</text>
<rect x="347.30" y="611.60" width="6.20" height="8.20" fill="#571668"/>
<text x="357.30" y="588.60" font-size="5.4" text-anchor="start" style="fill:#3a3a3a;stroke:#3a3a3a">Variant</text>
<text x="357.30" y="597.30" font-size="5.4" text-anchor="start" style="fill:#3a3a3a;stroke:#3a3a3a">Germline</text>
<text x="357.30" y="607.30" font-size="5.4" text-anchor="start" style="fill:#3a3a3a;stroke:#3a3a3a">Somatic</text>
<rect x="386.00" y="591.80" width="6.70" height="8.30" fill="#2c943c"/>
<rect x="386.00" y="601.60" width="6.70" height="8.30" fill="#f2900f"/>
<text x="396.50" y="597.30" font-size="5.4" text-anchor="start" style="fill:#3a3a3a;stroke:#3a3a3a">Missing data</text>
<rect x="435.40" y="590.80" width="8.60" height="10.20" fill="url(#hatch)"/>
</svg>
</body></html>
